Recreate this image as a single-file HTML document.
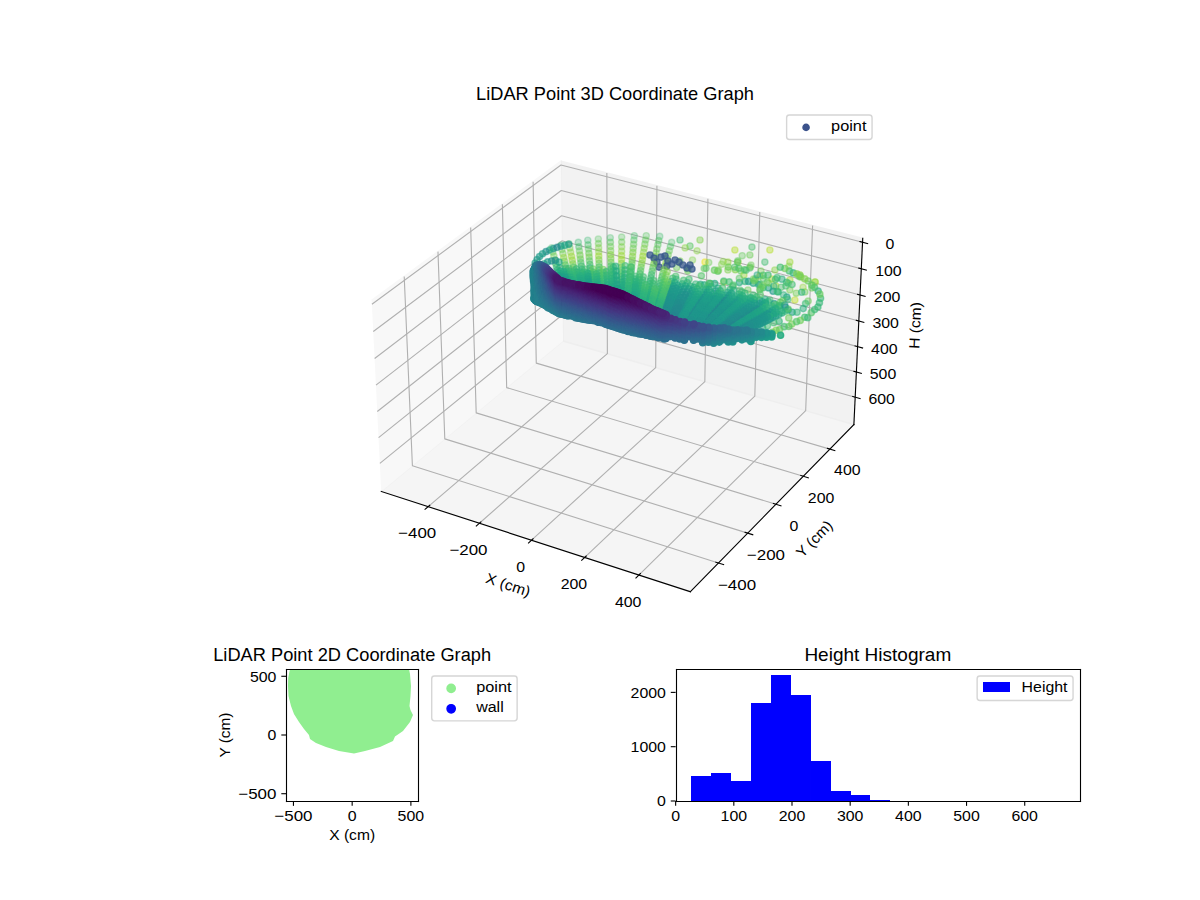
<!DOCTYPE html><html><head><meta charset="utf-8"><style>html,body{margin:0;padding:0;background:#fff}svg{display:block}</style></head><body><svg width="1200" height="900" viewBox="0 0 864 648">
<defs><style>.sc circle{stroke-width:10px;fill:currentColor;stroke:currentColor}.a0{fill-opacity:0.300;stroke-opacity:0.300}.a1{fill-opacity:0.364;stroke-opacity:0.364}.a2{fill-opacity:0.427;stroke-opacity:0.427}.a3{fill-opacity:0.491;stroke-opacity:0.491}.a4{fill-opacity:0.555;stroke-opacity:0.555}.a5{fill-opacity:0.618;stroke-opacity:0.618}.a6{fill-opacity:0.682;stroke-opacity:0.682}.a7{fill-opacity:0.745;stroke-opacity:0.745}.a8{fill-opacity:0.809;stroke-opacity:0.809}.a9{fill-opacity:0.873;stroke-opacity:0.873}.a10{fill-opacity:0.936;stroke-opacity:0.936}.a11{fill-opacity:1.000;stroke-opacity:1.000}.c0{color:#440154}.c1{color:#46075a}.c2{color:#470d60}.c3{color:#471365}.c4{color:#48186a}.c5{color:#481d6f}.c6{color:#482374}.c7{color:#482878}.c8{color:#472d7b}.c9{color:#46327e}.c10{color:#453781}.c11{color:#443b84}.c12{color:#424086}.c13{color:#404588}.c14{color:#3e4989}.c15{color:#3d4e8a}.c16{color:#3a538b}.c17{color:#38588c}.c18{color:#365c8d}.c19{color:#34608d}.c20{color:#32648e}.c21{color:#31688e}.c22{color:#2f6c8e}.c23{color:#2d708e}.c24{color:#2c738e}.c25{color:#2a778e}.c26{color:#297b8e}.c27{color:#277f8e}.c28{color:#26828e}.c29{color:#24868e}.c30{color:#238a8d}.c31{color:#218e8d}.c32{color:#20928c}.c33{color:#1f968b}.c34{color:#1f9a8a}.c35{color:#1f9e89}.c36{color:#1fa187}.c37{color:#21a585}.c38{color:#23a983}.c39{color:#26ad81}.c40{color:#2ab07f}.c41{color:#2fb47c}.c42{color:#35b779}.c43{color:#3bbb75}.c44{color:#42be71}.c45{color:#4ac16d}.c46{color:#52c569}.c47{color:#5ac864}.c48{color:#65cb5e}.c49{color:#6ece58}.c50{color:#77d153}.c51{color:#81d34d}.c52{color:#8bd646}.c53{color:#95d840}.c54{color:#a0da39}.c55{color:#aadc32}.c56{color:#b5de2b}.c57{color:#c0df25}.c58{color:#cae11f}.c59{color:#d5e21a}.c60{color:#dfe318}.c61{color:#eae51a}.c62{color:#f4e61e}.c63{color:#fde725}</style>
<style type="text/css">*{stroke-linejoin: round; stroke-linecap: butt}</style>
</defs>
<g id="figure_1">
<g id="patch_1">
<path d="M 0 648 
L 864 648 
L 864 0 
L 0 0 
z
" style="fill: #ffffff"/>
</g>
<g id="patch_2">
<path d="M 252.72 457.92 
L 632.88 457.92 
L 632.88 77.76 
L 252.72 77.76 
z
" style="fill: #ffffff"/>
</g>
<g id="pane3d_1">
<g id="patch_3">
<path d="M 267.65 216.25 
L 403.87 116.08 
L 405.41 245.49 
L 274.52 353.83 
" style="fill: #f2f2f2; opacity: 0.5; stroke: #f2f2f2; stroke-linejoin: miter"/>
</g>
</g>
<g id="pane3d_2">
<g id="patch_4">
<path d="M 403.87 116.08 
L 621.17 171.65 
L 614.80 305.69 
L 405.41 245.49 
" style="fill: #e6e6e6; opacity: 0.5; stroke: #e6e6e6; stroke-linejoin: miter"/>
</g>
</g>
<g id="pane3d_3">
<g id="patch_5">
<path d="M 274.52 353.83 
L 497.02 426.04 
L 614.80 305.69 
L 405.41 245.49 
" style="fill: #ececec; opacity: 0.5; stroke: #ececec; stroke-linejoin: miter"/>
</g>
</g>
<g id="grid3d_1">
<g id="Line3DCollection_1">
<path d="M 308.29 364.79 
L 437.31 254.66 
L 436.93 124.54 
" style="fill: none; stroke: #b0b0b0; stroke-width: 0.8"/>
<path d="M 345.16 376.76 
L 472.10 264.66 
L 472.99 133.76 
" style="fill: none; stroke: #b0b0b0; stroke-width: 0.8"/>
<path d="M 382.72 388.95 
L 507.48 274.83 
L 509.69 143.14 
" style="fill: none; stroke: #b0b0b0; stroke-width: 0.8"/>
<path d="M 420.99 401.37 
L 543.47 285.18 
L 547.05 152.70 
" style="fill: none; stroke: #b0b0b0; stroke-width: 0.8"/>
<path d="M 459.99 414.02 
L 580.09 295.71 
L 585.08 162.42 
" style="fill: none; stroke: #b0b0b0; stroke-width: 0.8"/>
</g>
</g>
<g id="grid3d_2">
<g id="Line3DCollection_2">
<path d="M 291.03 199.06 
L 296.93 335.29 
L 517.26 405.36 
" style="fill: none; stroke: #b0b0b0; stroke-width: 0.8"/>
<path d="M 315.34 181.18 
L 320.25 315.99 
L 538.30 383.87 
" style="fill: none; stroke: #b0b0b0; stroke-width: 0.8"/>
<path d="M 338.89 163.87 
L 342.86 297.26 
L 558.66 363.06 
" style="fill: none; stroke: #b0b0b0; stroke-width: 0.8"/>
<path d="M 361.71 147.08 
L 364.81 279.10 
L 578.39 342.90 
" style="fill: none; stroke: #b0b0b0; stroke-width: 0.8"/>
<path d="M 383.84 130.81 
L 386.11 261.47 
L 597.51 323.36 
" style="fill: none; stroke: #b0b0b0; stroke-width: 0.8"/>
</g>
</g>
<g id="grid3d_3">
<g id="Line3DCollection_3">
<path d="M 621.03 174.43 
L 403.90 118.76 
L 267.79 219.11 
" style="fill: none; stroke: #b0b0b0; stroke-width: 0.8"/>
<path d="M 620.13 193.51 
L 404.12 137.15 
L 268.77 238.72 
" style="fill: none; stroke: #b0b0b0; stroke-width: 0.8"/>
<path d="M 619.23 212.39 
L 404.34 155.36 
L 269.74 258.11 
" style="fill: none; stroke: #b0b0b0; stroke-width: 0.8"/>
<path d="M 618.35 231.07 
L 404.55 173.39 
L 270.70 277.29 
" style="fill: none; stroke: #b0b0b0; stroke-width: 0.8"/>
<path d="M 617.47 249.56 
L 404.76 191.24 
L 271.65 296.27 
" style="fill: none; stroke: #b0b0b0; stroke-width: 0.8"/>
<path d="M 616.60 267.86 
L 404.97 208.92 
L 272.59 315.05 
" style="fill: none; stroke: #b0b0b0; stroke-width: 0.8"/>
<path d="M 615.74 285.97 
L 405.18 226.43 
L 273.51 333.63 
" style="fill: none; stroke: #b0b0b0; stroke-width: 0.8"/>
</g>
</g>
<g id="axis3d_1">
<g id="line2d_1">
<path d="M 274.52 353.83 
L 497.02 426.04 
" style="fill: none; stroke: #000000; stroke-width: 0.8; stroke-linecap: square"/>
</g>
<g id="xtick_1">
<g id="line2d_2">
<path d="M 309.42 363.83 
L 306.03 366.72 
" style="fill: none; stroke: #000000; stroke-width: 0.8; stroke-linecap: square"/>
</g>
<g id="text_1">
<text style="font-size: 10.60px; font-family: 'Liberation Sans', sans-serif; text-anchor: middle" x="300.38" y="387.16" transform="rotate(-0 300.38 387.16)" textLength="27.47" lengthAdjust="spacingAndGlyphs">−400</text>
</g>
</g>
<g id="xtick_2">
<g id="line2d_3">
<path d="M 346.27 375.78 
L 342.93 378.72 
" style="fill: none; stroke: #000000; stroke-width: 0.8; stroke-linecap: square"/>
</g>
<g id="text_2">
<text style="font-size: 10.60px; font-family: 'Liberation Sans', sans-serif; text-anchor: middle" x="337.30" y="399.30" transform="rotate(-0 337.30 399.30)" textLength="27.47" lengthAdjust="spacingAndGlyphs">−200</text>
</g>
</g>
<g id="xtick_3">
<g id="line2d_4">
<path d="M 383.81 387.95 
L 380.53 390.95 
" style="fill: none; stroke: #000000; stroke-width: 0.8; stroke-linecap: square"/>
</g>
<g id="text_3">
<text style="font-size: 10.60px; font-family: 'Liberation Sans', sans-serif; text-anchor: middle" x="374.90" y="411.67" transform="rotate(-0 374.90 411.67)" textLength="6.36" lengthAdjust="spacingAndGlyphs">0</text>
</g>
</g>
<g id="xtick_4">
<g id="line2d_5">
<path d="M 422.06 400.35 
L 418.83 403.41 
" style="fill: none; stroke: #000000; stroke-width: 0.8; stroke-linecap: square"/>
</g>
<g id="text_4">
<text style="font-size: 10.60px; font-family: 'Liberation Sans', sans-serif; text-anchor: middle" x="413.22" y="424.28" transform="rotate(-0 413.22 424.28)" textLength="19.09" lengthAdjust="spacingAndGlyphs">200</text>
</g>
</g>
<g id="xtick_5">
<g id="line2d_6">
<path d="M 461.04 412.99 
L 457.87 416.10 
" style="fill: none; stroke: #000000; stroke-width: 0.8; stroke-linecap: square"/>
</g>
<g id="text_5">
<text style="font-size: 10.60px; font-family: 'Liberation Sans', sans-serif; text-anchor: middle" x="452.28" y="437.12" transform="rotate(-0 452.28 437.12)" textLength="19.09" lengthAdjust="spacingAndGlyphs">400</text>
</g>
</g>
<g id="text_6">
<text style="font-size: 10.60px; font-family: 'Liberation Sans', sans-serif; text-anchor: middle" x="364.81" y="424.58" transform="rotate(-342.01 364.81 424.58)" textLength="33.07" lengthAdjust="spacingAndGlyphs">X (cm)</text>
</g>
</g>
<g id="axis3d_2">
<g id="line2d_7">
<path d="M 614.80 305.69 
L 497.02 426.04 
" style="fill: none; stroke: #000000; stroke-width: 0.8; stroke-linecap: square"/>
</g>
<g id="xtick_6">
<g id="line2d_8">
<path d="M 515.40 404.77 
L 520.99 406.54 
" style="fill: none; stroke: #000000; stroke-width: 0.8; stroke-linecap: square"/>
</g>
<g id="text_7">
<text style="font-size: 10.60px; font-family: 'Liberation Sans', sans-serif; text-anchor: middle" x="530.63" y="425.14" transform="rotate(-0 530.63 425.14)" textLength="27.47" lengthAdjust="spacingAndGlyphs">−400</text>
</g>
</g>
<g id="xtick_7">
<g id="line2d_9">
<path d="M 536.46 383.29 
L 541.98 385.01 
" style="fill: none; stroke: #000000; stroke-width: 0.8; stroke-linecap: square"/>
</g>
<g id="text_8">
<text style="font-size: 10.60px; font-family: 'Liberation Sans', sans-serif; text-anchor: middle" x="551.46" y="403.43" transform="rotate(-0 551.46 403.43)" textLength="27.47" lengthAdjust="spacingAndGlyphs">−200</text>
</g>
</g>
<g id="xtick_8">
<g id="line2d_10">
<path d="M 556.84 362.50 
L 562.30 364.17 
" style="fill: none; stroke: #000000; stroke-width: 0.8; stroke-linecap: square"/>
</g>
<g id="text_9">
<text style="font-size: 10.60px; font-family: 'Liberation Sans', sans-serif; text-anchor: middle" x="571.64" y="382.41" transform="rotate(-0 571.64 382.41)" textLength="6.36" lengthAdjust="spacingAndGlyphs">0</text>
</g>
</g>
<g id="xtick_9">
<g id="line2d_11">
<path d="M 576.59 342.36 
L 581.99 343.98 
" style="fill: none; stroke: #000000; stroke-width: 0.8; stroke-linecap: square"/>
</g>
<g id="text_10">
<text style="font-size: 10.60px; font-family: 'Liberation Sans', sans-serif; text-anchor: middle" x="591.18" y="362.05" transform="rotate(-0 591.18 362.05)" textLength="19.09" lengthAdjust="spacingAndGlyphs">200</text>
</g>
</g>
<g id="xtick_10">
<g id="line2d_12">
<path d="M 595.73 322.84 
L 601.07 324.41 
" style="fill: none; stroke: #000000; stroke-width: 0.8; stroke-linecap: square"/>
</g>
<g id="text_11">
<text style="font-size: 10.60px; font-family: 'Liberation Sans', sans-serif; text-anchor: middle" x="610.11" y="342.32" transform="rotate(-0 610.11 342.32)" textLength="19.09" lengthAdjust="spacingAndGlyphs">400</text>
</g>
</g>
<g id="text_12">
<text style="font-size: 10.60px; font-family: 'Liberation Sans', sans-serif; text-anchor: middle" x="588.87" y="390.58" transform="rotate(-45.61 588.87 390.58)" textLength="32.33" lengthAdjust="spacingAndGlyphs">Y (cm)</text>
</g>
</g>
<g id="axis3d_3">
<g id="line2d_13">
<path d="M 614.80 305.69 
L 621.17 171.65 
" style="fill: none; stroke: #000000; stroke-width: 0.8; stroke-linecap: square"/>
</g>
<g id="xtick_11">
<g id="line2d_14">
<path d="M 619.20 173.96 
L 624.70 175.37 
" style="fill: none; stroke: #000000; stroke-width: 0.8; stroke-linecap: square"/>
</g>
<g id="text_13">
<text style="font-size: 10.60px; font-family: 'Liberation Sans', sans-serif; text-anchor: middle" x="640.70" y="179.54" transform="rotate(-0 640.70 179.54)" textLength="6.36" lengthAdjust="spacingAndGlyphs">0</text>
</g>
</g>
<g id="xtick_12">
<g id="line2d_15">
<path d="M 618.31 193.04 
L 623.77 194.46 
" style="fill: none; stroke: #000000; stroke-width: 0.8; stroke-linecap: square"/>
</g>
<g id="text_14">
<text style="font-size: 10.60px; font-family: 'Liberation Sans', sans-serif; text-anchor: middle" x="639.70" y="198.59" transform="rotate(-0 639.70 198.59)" textLength="19.09" lengthAdjust="spacingAndGlyphs">100</text>
</g>
</g>
<g id="xtick_13">
<g id="line2d_16">
<path d="M 617.42 211.91 
L 622.86 213.35 
" style="fill: none; stroke: #000000; stroke-width: 0.8; stroke-linecap: square"/>
</g>
<g id="text_15">
<text style="font-size: 10.60px; font-family: 'Liberation Sans', sans-serif; text-anchor: middle" x="638.70" y="217.44" transform="rotate(-0 638.70 217.44)" textLength="19.09" lengthAdjust="spacingAndGlyphs">200</text>
</g>
</g>
<g id="xtick_14">
<g id="line2d_17">
<path d="M 616.55 230.58 
L 621.95 232.04 
" style="fill: none; stroke: #000000; stroke-width: 0.8; stroke-linecap: square"/>
</g>
<g id="text_16">
<text style="font-size: 10.60px; font-family: 'Liberation Sans', sans-serif; text-anchor: middle" x="637.72" y="236.09" transform="rotate(-0 637.72 236.09)" textLength="19.09" lengthAdjust="spacingAndGlyphs">300</text>
</g>
</g>
<g id="xtick_15">
<g id="line2d_18">
<path d="M 615.68 249.07 
L 621.05 250.54 
" style="fill: none; stroke: #000000; stroke-width: 0.8; stroke-linecap: square"/>
</g>
<g id="text_17">
<text style="font-size: 10.60px; font-family: 'Liberation Sans', sans-serif; text-anchor: middle" x="636.74" y="254.56" transform="rotate(-0 636.74 254.56)" textLength="19.09" lengthAdjust="spacingAndGlyphs">400</text>
</g>
</g>
<g id="xtick_16">
<g id="line2d_19">
<path d="M 614.82 267.36 
L 620.16 268.85 
" style="fill: none; stroke: #000000; stroke-width: 0.8; stroke-linecap: square"/>
</g>
<g id="text_18">
<text style="font-size: 10.60px; font-family: 'Liberation Sans', sans-serif; text-anchor: middle" x="635.78" y="272.83" transform="rotate(-0 635.78 272.83)" textLength="19.09" lengthAdjust="spacingAndGlyphs">500</text>
</g>
</g>
<g id="xtick_17">
<g id="line2d_20">
<path d="M 613.97 285.47 
L 619.29 286.98 
" style="fill: none; stroke: #000000; stroke-width: 0.8; stroke-linecap: square"/>
</g>
<g id="text_19">
<text style="font-size: 10.60px; font-family: 'Liberation Sans', sans-serif; text-anchor: middle" x="634.82" y="290.92" transform="rotate(-0 634.82 290.92)" textLength="19.09" lengthAdjust="spacingAndGlyphs">600</text>
</g>
</g>
<g id="text_20">
<text style="font-size: 10.60px; font-family: 'Liberation Sans', sans-serif; text-anchor: middle" x="662.58" y="234.44" transform="rotate(-87.28 662.58 234.44)" textLength="33.74" lengthAdjust="spacingAndGlyphs">H (cm)</text>
</g>
</g>
<g id="axes_1">
<g id="P3D"><defs>
<path id="m24099ccb27" d="M 0 2.23 
C 0.59 2.23 1.16 2.00 1.58 1.58 
C 2.00 1.16 2.23 0.59 2.23 0 
C 2.23 -0.59 2.00 -1.16 1.58 -1.58 
C 1.16 -2.00 0.59 -2.23 0 -2.23 
C -0.59 -2.23 -1.16 -2.00 -1.58 -1.58 
C -2.00 -1.16 -2.23 -0.59 -2.23 0 
C -2.23 0.59 -2.00 1.16 -1.58 1.58 
C -1.16 2.00 -0.59 2.23 0 2.23 
z
" style="stroke: #3b528b"/>
</defs><g class="sc" transform="scale(.1)"><circle cx="5867" cy="2030" r="22.4" class="c54 a2"/><circle cx="5687" cy="2088" r="22.4" class="c50 a2"/><circle cx="5327" cy="2088" r="22.4" class="c45 a2"/><circle cx="5212" cy="2030" r="22.4" class="c54 a2"/><circle cx="5543" cy="1800" r="22.4" class="c56 a2"/><circle cx="5414" cy="1779" r="22.4" class="c45 a2"/><circle cx="5040" cy="1728" r="22.4" class="c51 a2"/><circle cx="5723" cy="2160" r="22.4" class="c57 a2"/><circle cx="5076" cy="1887" r="22.4" class="c61 a2"/><circle cx="5579" cy="1944" r="22.4" class="c52 a2"/><circle cx="5399" cy="1930" r="22.4" class="c45 a2"/><circle cx="5335" cy="1951" r="22.4" class="c47 a2"/><circle cx="5241" cy="1887" r="22.4" class="c53 a2"/><circle cx="5558" cy="2009" r="22.4" class="c58 a2"/><circle cx="5687" cy="2016" r="22.4" class="c55 a2"/><circle cx="5543" cy="2160" r="22.4" class="c44 a2"/><circle cx="5313" cy="1887" r="22.4" class="c57 a2"/><circle cx="5586" cy="2059" r="22.4" class="c55 a2"/><circle cx="5795" cy="2102" r="22.4" class="c49 a2"/><circle cx="5845" cy="2074" r="22.4" class="c49 a2"/><circle cx="5471" cy="1987" r="22.4" class="c55 a2"/><circle cx="5291" cy="1800" r="22.4" class="c56 a2"/><circle cx="4896" cy="1728" r="22.4" class="c44 a2"/><circle cx="4968" cy="1771" r="22.4" class="c47 a2"/><circle cx="5507" cy="1887" r="22.4" class="c44 a2"/><circle cx="5399" cy="1836" r="22.4" class="c49 a2"/><circle cx="5385" cy="2088" r="22.4" class="c49 a2"/><circle cx="5241" cy="1944" r="22.4" class="c51 a2"/><circle cx="5687" cy="1887" r="22.4" class="c54 a2"/><circle cx="5759" cy="1980" r="22.4" class="c58 a2"/><circle cx="5471" cy="2045" r="22.4" class="c46 a2"/><circle cx="5356" cy="1980" r="22.4" class="c54 a2"/><circle cx="4232" cy="1730" r="22.4" class="c43 a0"/><circle cx="4567" cy="1697" r="22.4" class="c45 a0"/><circle cx="5019" cy="1806" r="22.4" class="c52 a1"/><circle cx="4097" cy="1755" r="22.4" class="c47 a0"/><circle cx="5760" cy="1980" r="22.4" class="c47 a1"/><circle cx="4653" cy="1697" r="22.4" class="c47 a0"/><circle cx="4750" cy="1702" r="22.4" class="c44 a0"/><circle cx="4836" cy="1745" r="22.4" class="c45 a0"/><circle cx="5680" cy="1917" r="22.4" class="c51 a1"/><circle cx="5344" cy="1841" r="22.4" class="c48 a1"/><circle cx="4164" cy="1745" r="22.4" class="c43 a0"/><circle cx="4308" cy="1721" r="22.4" class="c47 a0"/><circle cx="4476" cy="1707" r="22.4" class="c47 a0"/><circle cx="4394" cy="1712" r="22.4" class="c45 a0"/><circle cx="5870" cy="2030" r="22.4" class="c53 a1"/><circle cx="4040" cy="1764" r="22.4" class="c45 a0"/><circle cx="3973" cy="1784" r="22.4" class="c44 a0"/><circle cx="5753" cy="1990" r="22.4" class="c47 a1"/><circle cx="5782" cy="2069" r="22.4" class="c53 a1"/><circle cx="5312" cy="1878" r="22.4" class="c47 a1"/><circle cx="5207" cy="1883" r="22.4" class="c52 a1"/><circle cx="4743" cy="1732" r="22.4" class="c46 a1"/><circle cx="4827" cy="1775" r="22.4" class="c46 a1"/><circle cx="4933" cy="1785" r="22.4" class="c52 a1"/><circle cx="4648" cy="1728" r="22.4" class="c48 a1"/><circle cx="4564" cy="1728" r="22.4" class="c46 a1"/><circle cx="4476" cy="1743" r="22.4" class="c49 a1"/><circle cx="4395" cy="1744" r="22.4" class="c47 a1"/><circle cx="4309" cy="1754" r="22.4" class="c49 a1"/><circle cx="4234" cy="1763" r="22.4" class="c45 a1"/><circle cx="5479" cy="1951" r="22.4" class="c50 a1"/><circle cx="5407" cy="1909" r="22.4" class="c49 a1"/><circle cx="4168" cy="1777" r="22.4" class="c45 a1"/><circle cx="5310" cy="1889" r="22.4" class="c46 a1"/><circle cx="4103" cy="1786" r="22.4" class="c50 a1"/><circle cx="5196" cy="1903" r="22.4" class="c51 a1"/><circle cx="4046" cy="1796" r="22.4" class="c48 a1"/><circle cx="5103" cy="1890" r="22.4" class="c49 a1"/><circle cx="5610" cy="2313" r="22.4" class="c42 a4"/><circle cx="5168" cy="1953" r="22.4" class="c47 a4"/><circle cx="5530" cy="1981" r="22.4" class="c44 a4"/><circle cx="5583" cy="2012" r="22.4" class="c44 a4"/><circle cx="5144" cy="1945" r="22.4" class="c48 a4"/><circle cx="5360" cy="1942" r="22.4" class="c47 a4"/><circle cx="5294" cy="1942" r="22.4" class="c51 a4"/><circle cx="5244" cy="1923" r="22.4" class="c49 a4"/><circle cx="5042" cy="2047" r="22.4" class="c39 a4"/><circle cx="5071" cy="2051" r="22.4" class="c39 a4"/><circle cx="5365" cy="2026" r="22.4" class="c42 a4"/><circle cx="5390" cy="2026" r="22.4" class="c35 a4"/><circle cx="5113" cy="2041" r="22.4" class="c36 a4"/><circle cx="5146" cy="2041" r="22.4" class="c39 a4"/><circle cx="5323" cy="2034" r="22.4" class="c39 a4"/><circle cx="5250" cy="2029" r="22.4" class="c44 a4"/><circle cx="5328" cy="2140" r="22.4" class="c39 a4"/><circle cx="5361" cy="2150" r="22.4" class="c36 a4"/><circle cx="5143" cy="2155" r="22.4" class="c35 a4"/><circle cx="5181" cy="2151" r="22.4" class="c37 a4"/><circle cx="5424" cy="2039" r="22.4" class="c38 a4"/><circle cx="5462" cy="2049" r="22.4" class="c38 a4"/><circle cx="5467" cy="2267" r="22.4" class="c40 a4"/><circle cx="5293" cy="2251" r="22.4" class="c42 a4"/><circle cx="5327" cy="2256" r="22.4" class="c46 a4"/><circle cx="5427" cy="2273" r="22.4" class="c44 a4"/><circle cx="5360" cy="2257" r="22.4" class="c41 a4"/><circle cx="5510" cy="2272" r="22.4" class="c44 a4"/><circle cx="5113" cy="2144" r="22.4" class="c34 a4"/><circle cx="5566" cy="2097" r="22.4" class="c34 a4"/><circle cx="5047" cy="2157" r="22.4" class="c38 a4"/><circle cx="5674" cy="2232" r="22.4" class="c36 a4"/><circle cx="5495" cy="1982" r="22.4" class="c45 a4"/><circle cx="5320" cy="1931" r="22.4" class="c46 a4"/><circle cx="5615" cy="2201" r="22.4" class="c38 a4"/><circle cx="5574" cy="2186" r="22.4" class="c33 a4"/><circle cx="5512" cy="2178" r="22.4" class="c39 a4"/><circle cx="5469" cy="2161" r="22.4" class="c37 a4"/><circle cx="5403" cy="2147" r="22.4" class="c38 a4"/><circle cx="5428" cy="2160" r="22.4" class="c37 a4"/><circle cx="5603" cy="2102" r="22.4" class="c41 a4"/><circle cx="5665" cy="2139" r="22.4" class="c36 a4"/><circle cx="5533" cy="2073" r="22.4" class="c37 a4"/><circle cx="5494" cy="2071" r="22.4" class="c43 a4"/><circle cx="4969" cy="2059" r="22.4" class="c41 a4"/><circle cx="5538" cy="2280" r="22.4" class="c40 a4"/><circle cx="5704" cy="2248" r="22.4" class="c37 a4"/><circle cx="5654" cy="2210" r="22.4" class="c30 a4"/><circle cx="4986" cy="1872" r="22.4" class="c51 a1"/><circle cx="4737" cy="1762" r="22.4" class="c47 a1"/><circle cx="4819" cy="1805" r="22.4" class="c48 a1"/><circle cx="4643" cy="1758" r="22.4" class="c49 a1"/><circle cx="3980" cy="1815" r="22.4" class="c47 a1"/><circle cx="4562" cy="1759" r="22.4" class="c48 a1"/><circle cx="5675" cy="2039" r="22.4" class="c45 a2"/><circle cx="5401" cy="1922" r="22.4" class="c49 a2"/><circle cx="4476" cy="1777" r="22.4" class="c51 a1"/><circle cx="4396" cy="1775" r="22.4" class="c49 a1"/><circle cx="4310" cy="1785" r="22.4" class="c51 a1"/><circle cx="5070" cy="1933" r="22.4" class="c48 a2"/><circle cx="4730" cy="1792" r="22.4" class="c48 a1"/><circle cx="4811" cy="1834" r="22.4" class="c49 a1"/><circle cx="4237" cy="1793" r="22.4" class="c47 a1"/><circle cx="5524" cy="2031" r="22.4" class="c49 a2"/><circle cx="5624" cy="2068" r="22.4" class="c45 a2"/><circle cx="4638" cy="1787" r="22.4" class="c51 a1"/><circle cx="4172" cy="1807" r="22.4" class="c48 a1"/><circle cx="5290" cy="1924" r="22.4" class="c45 a2"/><circle cx="4559" cy="1788" r="22.4" class="c49 a1"/><circle cx="4109" cy="1817" r="22.4" class="c52 a1"/><circle cx="5173" cy="1945" r="22.4" class="c50 a2"/><circle cx="5819" cy="2168" r="22.4" class="c49 a2"/><circle cx="4053" cy="1826" r="22.4" class="c50 a1"/><circle cx="4476" cy="1809" r="22.4" class="c52 a1"/><circle cx="5083" cy="1932" r="22.4" class="c47 a2"/><circle cx="5490" cy="2056" r="22.4" class="c49 a2"/><circle cx="5658" cy="2059" r="22.4" class="c44 a2"/><circle cx="5425" cy="2009" r="22.4" class="c49 a2"/><circle cx="4953" cy="1936" r="22.4" class="c49 a2"/><circle cx="4724" cy="1820" r="22.4" class="c50 a1"/><circle cx="4397" cy="1805" r="22.4" class="c50 a1"/><circle cx="5733" cy="2111" r="22.4" class="c50 a2"/><circle cx="4803" cy="1862" r="22.4" class="c50 a1"/><circle cx="5765" cy="1994" r="22.4" class="c50 a4"/><circle cx="5701" cy="2333" r="22.4" class="c50 a4"/><circle cx="5794" cy="2284" r="22.4" class="c44 a4"/><circle cx="5646" cy="2352" r="22.4" class="c44 a4"/><circle cx="5816" cy="2287" r="22.4" class="c43 a4"/><circle cx="5841" cy="2251" r="22.4" class="c46 a4"/><circle cx="5680" cy="2351" r="22.4" class="c47 a4"/><circle cx="5762" cy="2307" r="22.4" class="c49 a4"/><circle cx="5735" cy="2316" r="22.4" class="c46 a4"/><circle cx="5908" cy="2147" r="22.4" class="c43 a4"/><circle cx="5891" cy="2096" r="22.4" class="c40 a4"/><circle cx="5889" cy="2210" r="22.4" class="c42 a4"/><circle cx="5561" cy="2392" r="22.4" class="c46 a4"/><circle cx="5588" cy="2378" r="22.4" class="c51 a4"/><circle cx="5613" cy="2373" r="22.4" class="c48 a4"/><circle cx="5527" cy="2403" r="22.4" class="c45 a4"/><circle cx="5866" cy="2229" r="22.4" class="c43 a4"/><circle cx="5865" cy="2069" r="22.4" class="c45 a4"/><circle cx="5845" cy="2053" r="22.4" class="c47 a4"/><circle cx="5903" cy="2118" r="22.4" class="c48 a4"/><circle cx="5819" cy="2023" r="22.4" class="c48 a4"/><circle cx="5794" cy="2008" r="22.4" class="c51 a4"/><circle cx="5711" cy="1965" r="22.4" class="c40 a4"/><circle cx="5737" cy="1972" r="22.4" class="c51 a4"/><circle cx="5683" cy="1951" r="22.4" class="c44 a4"/><circle cx="5651" cy="1933" r="22.4" class="c49 a4"/><circle cx="5618" cy="1924" r="22.4" class="c44 a4"/><circle cx="5900" cy="2180" r="22.4" class="c42 a4"/><circle cx="4895" cy="1879" r="22.4" class="c50 a2"/><circle cx="4634" cy="1816" r="22.4" class="c52 a1"/><circle cx="3988" cy="1844" r="22.4" class="c50 a1"/><circle cx="4311" cy="1814" r="22.4" class="c52 a1"/><circle cx="4557" cy="1817" r="22.4" class="c51 a2"/><circle cx="4240" cy="1823" r="22.4" class="c49 a2"/><circle cx="5535" cy="2038" r="22.4" class="c48 a2"/><circle cx="5439" cy="2007" r="22.4" class="c48 a2"/><circle cx="5323" cy="2004" r="22.4" class="c47 a2"/><circle cx="4176" cy="1837" r="22.4" class="c50 a2"/><circle cx="4952" cy="1950" r="22.4" class="c49 a2"/><circle cx="4718" cy="1848" r="22.4" class="c51 a2"/><circle cx="4475" cy="1840" r="22.4" class="c54 a2"/><circle cx="4795" cy="1890" r="22.4" class="c52 a2"/><circle cx="4872" cy="1926" r="22.4" class="c49 a2"/><circle cx="4115" cy="1845" r="22.4" class="c54 a2"/><circle cx="4629" cy="1844" r="22.4" class="c54 a2"/><circle cx="4397" cy="1834" r="22.4" class="c52 a2"/><circle cx="5478" cy="2076" r="22.4" class="c48 a3"/><circle cx="5596" cy="2099" r="22.4" class="c43 a3"/><circle cx="4059" cy="1854" r="22.4" class="c53 a2"/><circle cx="5430" cy="2021" r="22.4" class="c48 a3"/><circle cx="4554" cy="1845" r="22.4" class="c52 a2"/><circle cx="4311" cy="1843" r="22.4" class="c54 a2"/><circle cx="5050" cy="1986" r="22.4" class="c46 a3"/><circle cx="4713" cy="1875" r="22.4" class="c52 a2"/><circle cx="4788" cy="1916" r="22.4" class="c52 a2"/><circle cx="4242" cy="1851" r="22.4" class="c50 a2"/><circle cx="5675" cy="2225" r="22.4" class="c47 a3"/><circle cx="5470" cy="2086" r="22.4" class="c47 a3"/><circle cx="4475" cy="1869" r="22.4" class="c54 a2"/><circle cx="4838" cy="1901" r="22.4" class="c17 a7"/><circle cx="4680" cy="1836" r="22.4" class="c17 a7"/><circle cx="4860" cy="1872" r="22.4" class="c17 a7"/><circle cx="4788" cy="1843" r="22.4" class="c17 a7"/><circle cx="4809" cy="1879" r="22.4" class="c17 a7"/><circle cx="4917" cy="1908" r="22.4" class="c17 a7"/><circle cx="4759" cy="1851" r="22.4" class="c17 a7"/><circle cx="4888" cy="1887" r="22.4" class="c17 a7"/><circle cx="4982" cy="1937" r="22.4" class="c17 a7"/><circle cx="4968" cy="1908" r="22.4" class="c17 a7"/><circle cx="4802" cy="1915" r="22.4" class="c17 a7"/><circle cx="4745" cy="1923" r="22.4" class="c17 a7"/><circle cx="4946" cy="1930" r="22.4" class="c17 a7"/><circle cx="4730" cy="1887" r="22.4" class="c17 a7"/><circle cx="4709" cy="1858" r="22.4" class="c17 a7"/><circle cx="4625" cy="1871" r="22.4" class="c53 a2"/><circle cx="5279" cy="2053" r="22.4" class="c46 a3"/><circle cx="5635" cy="2164" r="22.4" class="c49 a3"/><circle cx="3995" cy="1872" r="22.4" class="c50 a2"/><circle cx="4179" cy="1865" r="22.4" class="c49 a2"/><circle cx="5211" cy="2024" r="22.4" class="c43 a3"/><circle cx="4398" cy="1861" r="22.4" class="c51 a2"/><circle cx="4552" cy="1872" r="22.4" class="c50 a2"/><circle cx="4120" cy="1873" r="22.4" class="c53 a2"/><circle cx="4707" cy="1901" r="22.4" class="c50 a2"/><circle cx="4781" cy="1942" r="22.4" class="c50 a2"/><circle cx="5108" cy="2039" r="22.4" class="c47 a3"/><circle cx="5276" cy="2062" r="22.4" class="c44 a3"/><circle cx="5619" cy="2176" r="22.4" class="c47 a3"/><circle cx="4312" cy="1870" r="22.4" class="c51 a2"/><circle cx="4064" cy="1881" r="22.4" class="c50 a2"/><circle cx="4620" cy="1897" r="22.4" class="c51 a2"/><circle cx="4475" cy="1896" r="22.4" class="c52 a2"/><circle cx="4244" cy="1878" r="22.4" class="c47 a2"/><circle cx="5009" cy="2045" r="22.4" class="c42 a3"/><circle cx="5423" cy="2124" r="22.4" class="c44 a3"/><circle cx="5509" cy="2156" r="22.4" class="c39 a3"/><circle cx="5340" cy="2100" r="22.4" class="c44 a3"/><circle cx="4922" cy="2019" r="22.4" class="c44 a3"/><circle cx="4701" cy="1927" r="22.4" class="c48 a2"/><circle cx="4550" cy="1898" r="22.4" class="c48 a2"/><circle cx="5095" cy="2059" r="22.4" class="c44 a3"/><circle cx="5654" cy="2241" r="22.4" class="c43 a3"/><circle cx="4399" cy="1888" r="22.4" class="c49 a2"/><circle cx="5256" cy="2085" r="22.4" class="c42 a3"/><circle cx="5583" cy="2194" r="22.4" class="c45 a3"/><circle cx="5474" cy="2121" r="22.4" class="c46 a3"/><circle cx="4804" cy="1957" r="22.4" class="c51 a2"/><circle cx="4865" cy="1989" r="22.4" class="c45 a3"/><circle cx="4961" cy="2011" r="22.4" class="c44 a3"/><circle cx="5610" cy="2199" r="22.4" class="c44 a3"/><circle cx="4773" cy="1968" r="22.4" class="c48 a2"/><circle cx="4182" cy="1891" r="22.4" class="c46 a2"/><circle cx="4843" cy="2003" r="22.4" class="c44 a3"/><circle cx="5170" cy="2074" r="22.4" class="c38 a3"/><circle cx="4616" cy="1923" r="22.4" class="c49 a2"/><circle cx="4125" cy="1899" r="22.4" class="c50 a2"/><circle cx="5403" cy="2141" r="22.4" class="c41 a4"/><circle cx="4001" cy="1898" r="22.4" class="c46 a2"/><circle cx="5488" cy="2171" r="22.4" class="c37 a4"/><circle cx="5800" cy="2186" r="22.4" class="c43 a3"/><circle cx="5739" cy="2248" r="22.4" class="c42 a3"/><circle cx="5783" cy="2222" r="22.4" class="c40 a3"/><circle cx="5772" cy="2104" r="22.4" class="c41 a3"/><circle cx="5491" cy="2356" r="22.4" class="c38 a3"/><circle cx="5526" cy="2346" r="22.4" class="c43 a3"/><circle cx="5679" cy="2289" r="22.4" class="c49 a3"/><circle cx="5571" cy="2324" r="22.4" class="c44 a3"/><circle cx="5663" cy="2032" r="22.4" class="c44 a3"/><circle cx="5630" cy="2010" r="22.4" class="c40 a3"/><circle cx="5595" cy="1999" r="22.4" class="c43 a3"/><circle cx="5703" cy="2048" r="22.4" class="c44 a3"/><circle cx="5322" cy="2118" r="22.4" class="c41 a4"/><circle cx="4313" cy="1897" r="22.4" class="c49 a2"/><circle cx="4996" cy="2068" r="22.4" class="c39 a4"/><circle cx="4475" cy="1922" r="22.4" class="c49 a2"/><circle cx="5239" cy="2105" r="22.4" class="c39 a4"/><circle cx="5561" cy="2208" r="22.4" class="c42 a4"/><circle cx="5447" cy="2138" r="22.4" class="c43 a3"/><circle cx="5364" cy="2111" r="22.4" class="c42 a3"/><circle cx="5532" cy="2170" r="22.4" class="c41 a3"/><circle cx="5080" cy="2081" r="22.4" class="c41 a4"/><circle cx="5283" cy="2090" r="22.4" class="c40 a3"/><circle cx="5631" cy="2253" r="22.4" class="c40 a4"/><circle cx="5202" cy="2073" r="22.4" class="c44 a3"/><circle cx="5608" cy="2209" r="22.4" class="c42 a3"/><circle cx="4912" cy="2043" r="22.4" class="c41 a4"/><circle cx="4696" cy="1952" r="22.4" class="c46 a2"/><circle cx="5120" cy="2063" r="22.4" class="c41 a3"/><circle cx="5034" cy="2057" r="22.4" class="c44 a3"/><circle cx="4767" cy="1992" r="22.4" class="c46 a3"/><circle cx="4948" cy="2035" r="22.4" class="c41 a3"/><circle cx="4547" cy="1924" r="22.4" class="c46 a3"/><circle cx="4247" cy="1904" r="22.4" class="c45 a3"/><circle cx="4868" cy="2011" r="22.4" class="c42 a3"/><circle cx="4796" cy="1982" r="22.4" class="c50 a2"/><circle cx="5154" cy="2094" r="22.4" class="c36 a4"/><circle cx="4070" cy="1907" r="22.4" class="c47 a3"/><circle cx="4834" cy="2027" r="22.4" class="c41 a4"/><circle cx="4400" cy="1914" r="22.4" class="c46 a3"/><circle cx="5384" cy="2157" r="22.4" class="c39 a4"/><circle cx="5467" cy="2186" r="22.4" class="c34 a4"/><circle cx="5304" cy="2136" r="22.4" class="c39 a4"/><circle cx="4612" cy="1948" r="22.4" class="c47 a3"/><circle cx="5223" cy="2124" r="22.4" class="c37 a4"/><circle cx="5539" cy="2221" r="22.4" class="c40 a4"/><circle cx="5427" cy="2154" r="22.4" class="c41 a4"/><circle cx="5346" cy="2129" r="22.4" class="c40 a4"/><circle cx="4984" cy="2090" r="22.4" class="c36 a4"/><circle cx="5511" cy="2185" r="22.4" class="c38 a4"/><circle cx="5266" cy="2110" r="22.4" class="c37 a4"/><circle cx="4186" cy="1916" r="22.4" class="c44 a3"/><circle cx="5186" cy="2093" r="22.4" class="c41 a4"/><circle cx="5066" cy="2101" r="22.4" class="c38 a4"/><circle cx="5585" cy="2222" r="22.4" class="c39 a4"/><circle cx="5609" cy="2264" r="22.4" class="c38 a4"/><circle cx="5106" cy="2085" r="22.4" class="c39 a4"/><circle cx="4901" cy="2065" r="22.4" class="c38 a4"/><circle cx="4691" cy="1977" r="22.4" class="c44 a3"/><circle cx="5140" cy="2114" r="22.4" class="c33 a4"/><circle cx="5020" cy="2079" r="22.4" class="c41 a4"/><circle cx="4475" cy="1947" r="22.4" class="c47 a3"/><circle cx="4760" cy="2016" r="22.4" class="c45 a3"/><circle cx="4936" cy="2058" r="22.4" class="c38 a4"/><circle cx="5365" cy="2173" r="22.4" class="c37 a4"/><circle cx="4859" cy="2035" r="22.4" class="c39 a4"/><circle cx="4788" cy="2007" r="22.4" class="c48 a3"/><circle cx="4314" cy="1922" r="22.4" class="c46 a3"/><circle cx="5447" cy="2200" r="22.4" class="c32 a4"/><circle cx="4545" cy="1948" r="22.4" class="c44 a3"/><circle cx="4825" cy="2050" r="22.4" class="c38 a4"/><circle cx="4130" cy="1923" r="22.4" class="c47 a3"/><circle cx="5287" cy="2153" r="22.4" class="c36 a4"/><circle cx="5207" cy="2142" r="22.4" class="c34 a4"/><circle cx="5519" cy="2233" r="22.4" class="c37 a4"/><circle cx="5408" cy="2170" r="22.4" class="c38 a4"/><circle cx="5327" cy="2146" r="22.4" class="c38 a4"/><circle cx="5490" cy="2199" r="22.4" class="c36 a4"/><circle cx="5249" cy="2128" r="22.4" class="c35 a4"/><circle cx="5171" cy="2113" r="22.4" class="c39 a4"/><circle cx="4249" cy="1929" r="22.4" class="c42 a3"/><circle cx="5564" cy="2234" r="22.4" class="c37 a4"/><circle cx="5053" cy="2121" r="22.4" class="c36 a4"/><circle cx="4972" cy="2111" r="22.4" class="c34 a4"/><circle cx="4608" cy="1972" r="22.4" class="c45 a3"/><circle cx="5587" cy="2275" r="22.4" class="c35 a4"/><circle cx="4400" cy="1938" r="22.4" class="c44 a3"/><circle cx="5091" cy="2105" r="22.4" class="c36 a4"/><circle cx="4007" cy="1923" r="22.4" class="c42 a3"/><circle cx="5125" cy="2134" r="22.4" class="c31 a4"/><circle cx="4891" cy="2087" r="22.4" class="c35 a5"/><circle cx="4686" cy="2000" r="22.4" class="c43 a3"/><circle cx="5347" cy="2189" r="22.4" class="c35 a5"/><circle cx="5007" cy="2100" r="22.4" class="c38 a4"/><circle cx="5428" cy="2214" r="22.4" class="c31 a5"/><circle cx="4075" cy="1931" r="22.4" class="c44 a3"/><circle cx="5270" cy="2170" r="22.4" class="c35 a5"/><circle cx="4753" cy="2039" r="22.4" class="c43 a3"/><circle cx="4925" cy="2080" r="22.4" class="c35 a4"/><circle cx="4849" cy="2058" r="22.4" class="c36 a4"/><circle cx="4781" cy="2031" r="22.4" class="c46 a3"/><circle cx="5192" cy="2160" r="22.4" class="c34 a5"/><circle cx="4474" cy="1971" r="22.4" class="c46 a3"/><circle cx="4817" cy="2072" r="22.4" class="c36 a5"/><circle cx="5498" cy="2245" r="22.4" class="c37 a5"/><circle cx="5389" cy="2185" r="22.4" class="c36 a4"/><circle cx="5310" cy="2163" r="22.4" class="c35 a4"/><circle cx="5470" cy="2212" r="22.4" class="c34 a4"/><circle cx="4189" cy="1940" r="22.4" class="c41 a3"/><circle cx="5233" cy="2147" r="22.4" class="c33 a4"/><circle cx="4543" cy="1972" r="22.4" class="c43 a3"/><circle cx="5156" cy="2132" r="22.4" class="c37 a4"/><circle cx="5542" cy="2246" r="22.4" class="c34 a4"/><circle cx="5040" cy="2141" r="22.4" class="c35 a5"/><circle cx="5566" cy="2285" r="22.4" class="c35 a5"/><circle cx="4314" cy="1945" r="22.4" class="c44 a3"/><circle cx="4960" cy="2131" r="22.4" class="c33 a5"/><circle cx="5077" cy="2125" r="22.4" class="c34 a4"/><circle cx="5111" cy="2152" r="22.4" class="c31 a5"/><circle cx="5329" cy="2204" r="22.4" class="c35 a5"/><circle cx="4604" cy="1995" r="22.4" class="c44 a4"/><circle cx="5431" cy="2183" r="22.4" class="c36 a4"/><circle cx="5512" cy="2211" r="22.4" class="c41 a4"/><circle cx="5587" cy="2249" r="22.4" class="c37 a4"/><circle cx="4957" cy="2080" r="22.4" class="c36 a4"/><circle cx="5118" cy="2106" r="22.4" class="c39 a4"/><circle cx="5039" cy="2097" r="22.4" class="c40 a4"/><circle cx="5272" cy="2137" r="22.4" class="c38 a4"/><circle cx="5195" cy="2120" r="22.4" class="c39 a4"/><circle cx="4879" cy="2054" r="22.4" class="c37 a4"/><circle cx="4807" cy="2029" r="22.4" class="c49 a3"/><circle cx="5349" cy="2157" r="22.4" class="c39 a4"/><circle cx="5409" cy="2228" r="22.4" class="c30 a5"/><circle cx="5254" cy="2187" r="22.4" class="c35 a5"/><circle cx="4882" cy="2108" r="22.4" class="c35 a5"/><circle cx="4681" cy="2023" r="22.4" class="c42 a4"/><circle cx="4995" cy="2121" r="22.4" class="c36 a5"/><circle cx="4135" cy="1947" r="22.4" class="c45 a4"/><circle cx="4401" cy="1962" r="22.4" class="c43 a4"/><circle cx="5177" cy="2178" r="22.4" class="c33 a5"/><circle cx="5479" cy="2257" r="22.4" class="c36 a5"/><circle cx="4747" cy="2062" r="22.4" class="c42 a4"/><circle cx="5370" cy="2200" r="22.4" class="c35 a5"/><circle cx="5293" cy="2179" r="22.4" class="c34 a5"/><circle cx="4251" cy="1952" r="22.4" class="c41 a4"/><circle cx="4915" cy="2102" r="22.4" class="c33 a5"/><circle cx="5450" cy="2226" r="22.4" class="c32 a5"/><circle cx="5217" cy="2164" r="22.4" class="c31 a5"/><circle cx="4271" cy="1937" r="22.4" class="c48 a3"/><circle cx="4416" cy="1922" r="22.4" class="c44 a3"/><circle cx="4707" cy="2020" r="22.4" class="c44 a3"/><circle cx="4632" cy="1993" r="22.4" class="c44 a3"/><circle cx="4209" cy="1937" r="22.4" class="c44 a3"/><circle cx="4576" cy="1989" r="22.4" class="c43 a3"/><circle cx="4501" cy="1913" r="22.4" class="c43 a3"/><circle cx="4343" cy="1940" r="22.4" class="c49 a3"/><circle cx="4151" cy="1936" r="22.4" class="c42 a3"/><circle cx="4031" cy="1929" r="22.4" class="c41 a3"/><circle cx="4094" cy="1934" r="22.4" class="c44 a3"/><circle cx="4841" cy="2080" r="22.4" class="c34 a5"/><circle cx="4774" cy="2053" r="22.4" class="c45 a3"/><circle cx="4809" cy="2093" r="22.4" class="c36 a5"/><circle cx="5141" cy="2151" r="22.4" class="c35 a5"/><circle cx="5522" cy="2258" r="22.4" class="c33 a5"/><circle cx="5027" cy="2159" r="22.4" class="c35 a5"/><circle cx="5546" cy="2295" r="22.4" class="c34 a5"/><circle cx="5312" cy="2218" r="22.4" class="c34 a5"/><circle cx="5098" cy="2170" r="22.4" class="c30 a5"/><circle cx="4541" cy="1995" r="22.4" class="c42 a4"/><circle cx="4474" cy="1992" r="22.4" class="c45 a4"/><circle cx="5064" cy="2144" r="22.4" class="c33 a5"/><circle cx="5391" cy="2241" r="22.4" class="c30 a5"/><circle cx="4949" cy="2150" r="22.4" class="c33 a5"/><circle cx="5331" cy="2174" r="22.4" class="c37 a4"/><circle cx="5412" cy="2197" r="22.4" class="c34 a4"/><circle cx="5238" cy="2203" r="22.4" class="c34 a5"/><circle cx="5255" cy="2155" r="22.4" class="c36 a4"/><circle cx="5491" cy="2224" r="22.4" class="c38 a4"/><circle cx="5180" cy="2139" r="22.4" class="c36 a4"/><circle cx="5104" cy="2126" r="22.4" class="c36 a4"/><circle cx="5566" cy="2260" r="22.4" class="c35 a4"/><circle cx="5026" cy="2118" r="22.4" class="c38 a4"/><circle cx="4601" cy="2017" r="22.4" class="c43 a4"/><circle cx="4945" cy="2102" r="22.4" class="c33 a4"/><circle cx="4080" cy="1953" r="22.4" class="c42 a4"/><circle cx="4869" cy="2076" r="22.4" class="c34 a4"/><circle cx="5163" cy="2195" r="22.4" class="c33 a5"/><circle cx="4799" cy="2052" r="22.4" class="c47 a3"/><circle cx="5460" cy="2269" r="22.4" class="c36 a5"/><circle cx="4873" cy="2129" r="22.4" class="c35 a5"/><circle cx="4676" cy="2045" r="22.4" class="c41 a4"/><circle cx="4013" cy="1945" r="22.4" class="c41 a4"/><circle cx="5352" cy="2215" r="22.4" class="c34 a5"/><circle cx="4983" cy="2140" r="22.4" class="c35 a5"/><circle cx="5276" cy="2195" r="22.4" class="c34 a5"/><circle cx="4191" cy="1963" r="22.4" class="c40 a4"/><circle cx="5431" cy="2238" r="22.4" class="c32 a5"/><circle cx="5202" cy="2181" r="22.4" class="c31 a5"/><circle cx="4315" cy="1968" r="22.4" class="c43 a4"/><circle cx="4741" cy="2083" r="22.4" class="c42 a4"/><circle cx="4904" cy="2122" r="22.4" class="c33 a5"/><circle cx="5127" cy="2169" r="22.4" class="c35 a5"/><circle cx="5502" cy="2269" r="22.4" class="c33 a5"/><circle cx="4702" cy="2042" r="22.4" class="c43 a4"/><circle cx="5295" cy="2232" r="22.4" class="c34 a5"/><circle cx="4628" cy="2016" r="22.4" class="c43 a4"/><circle cx="4801" cy="2114" r="22.4" class="c35 a5"/><circle cx="5015" cy="2178" r="22.4" class="c35 a5"/><circle cx="4832" cy="2101" r="22.4" class="c34 a5"/><circle cx="4767" cy="2075" r="22.4" class="c44 a4"/><circle cx="5085" cy="2188" r="22.4" class="c30 a5"/><circle cx="5373" cy="2253" r="22.4" class="c30 a5"/><circle cx="5527" cy="2305" r="22.4" class="c34 a5"/><circle cx="4572" cy="2010" r="22.4" class="c42 a4"/><circle cx="4401" cy="1984" r="22.4" class="c42 a4"/><circle cx="5223" cy="2218" r="22.4" class="c34 a5"/><circle cx="5313" cy="2189" r="22.4" class="c36 a5"/><circle cx="5393" cy="2211" r="22.4" class="c33 a5"/><circle cx="4500" cy="1943" r="22.4" class="c42 a4"/><circle cx="5051" cy="2163" r="22.4" class="c33 a5"/><circle cx="5239" cy="2172" r="22.4" class="c35 a5"/><circle cx="5472" cy="2237" r="22.4" class="c37 a5"/><circle cx="5165" cy="2157" r="22.4" class="c36 a5"/><circle cx="4938" cy="2169" r="22.4" class="c32 a6"/><circle cx="4418" cy="1949" r="22.4" class="c43 a4"/><circle cx="5090" cy="2145" r="22.4" class="c36 a5"/><circle cx="5545" cy="2271" r="22.4" class="c34 a5"/><circle cx="4539" cy="2017" r="22.4" class="c41 a4"/><circle cx="4253" cy="1974" r="22.4" class="c39 a4"/><circle cx="5149" cy="2211" r="22.4" class="c33 a6"/><circle cx="4139" cy="1969" r="22.4" class="c43 a4"/><circle cx="4344" cy="1963" r="22.4" class="c47 a4"/><circle cx="5441" cy="2280" r="22.4" class="c36 a6"/><circle cx="5013" cy="2137" r="22.4" class="c37 a5"/><circle cx="5335" cy="2228" r="22.4" class="c34 a5"/><circle cx="4474" cy="2013" r="22.4" class="c44 a4"/><circle cx="4273" cy="1960" r="22.4" class="c46 a4"/><circle cx="5260" cy="2210" r="22.4" class="c33 a5"/><circle cx="5413" cy="2251" r="22.4" class="c32 a5"/><circle cx="4211" cy="1960" r="22.4" class="c43 a4"/><circle cx="4597" cy="2039" r="22.4" class="c43 a4"/><circle cx="5187" cy="2198" r="22.4" class="c31 a5"/><circle cx="4934" cy="2123" r="22.4" class="c32 a5"/><circle cx="4864" cy="2149" r="22.4" class="c34 a6"/><circle cx="4672" cy="2066" r="22.4" class="c40 a4"/><circle cx="4971" cy="2160" r="22.4" class="c35 a5"/><circle cx="4860" cy="2098" r="22.4" class="c34 a5"/><circle cx="4155" cy="1959" r="22.4" class="c41 a4"/><circle cx="4791" cy="2074" r="22.4" class="c46 a4"/><circle cx="5113" cy="2186" r="22.4" class="c35 a5"/><circle cx="5279" cy="2246" r="22.4" class="c34 a6"/><circle cx="4039" cy="1773" r="22.4" class="c34 a4"/><circle cx="4095" cy="1759" r="22.4" class="c34 a4"/><circle cx="3984" cy="1790" r="22.4" class="c33 a4"/><circle cx="3885" cy="1847" r="22.4" class="c34 a4"/><circle cx="4011" cy="1781" r="22.4" class="c30 a4"/><circle cx="3867" cy="1869" r="22.4" class="c34 a4"/><circle cx="4025" cy="1887" r="22.4" class="c37 a4"/><circle cx="4067" cy="1766" r="22.4" class="c37 a4"/><circle cx="3957" cy="1800" r="22.4" class="c38 a4"/><circle cx="3918" cy="1899" r="22.4" class="c38 a4"/><circle cx="3931" cy="1812" r="22.4" class="c31 a4"/><circle cx="3999" cy="1874" r="22.4" class="c32 a4"/><circle cx="3971" cy="1879" r="22.4" class="c30 a4"/><circle cx="3853" cy="1894" r="22.4" class="c34 a4"/><circle cx="3906" cy="1827" r="22.4" class="c35 a4"/><circle cx="3943" cy="1885" r="22.4" class="c33 a4"/><circle cx="5572" cy="2061" r="22.4" class="c39 a2"/><circle cx="5577" cy="2257" r="22.4" class="c39 a2"/><circle cx="5494" cy="2007" r="22.4" class="c46 a2"/><circle cx="5641" cy="2123" r="22.4" class="c41 a2"/><circle cx="5672" cy="2157" r="22.4" class="c43 a2"/><circle cx="5452" cy="1980" r="22.4" class="c38 a2"/><circle cx="5498" cy="2293" r="22.4" class="c37 a2"/><circle cx="5371" cy="1946" r="22.4" class="c44 a2"/><circle cx="5540" cy="2279" r="22.4" class="c40 a2"/><circle cx="5627" cy="2240" r="22.4" class="c40 a2"/><circle cx="5650" cy="2196" r="22.4" class="c34 a2"/><circle cx="4099" cy="1956" r="22.4" class="c42 a4"/><circle cx="4735" cy="2104" r="22.4" class="c41 a4"/><circle cx="5483" cy="2280" r="22.4" class="c33 a5"/><circle cx="5356" cy="2266" r="22.4" class="c29 a6"/><circle cx="5072" cy="2205" r="22.4" class="c30 a6"/><circle cx="5208" cy="2233" r="22.4" class="c34 a6"/><circle cx="4895" cy="2142" r="22.4" class="c32 a5"/><circle cx="5003" cy="2195" r="22.4" class="c34 a6"/><circle cx="5508" cy="2314" r="22.4" class="c34 a6"/><circle cx="4697" cy="2064" r="22.4" class="c43 a4"/><circle cx="5296" cy="2205" r="22.4" class="c36 a5"/><circle cx="5375" cy="2225" r="22.4" class="c33 a5"/><circle cx="4794" cy="2134" r="22.4" class="c35 a6"/><circle cx="4036" cy="1951" r="22.4" class="c39 a4"/><circle cx="5224" cy="2188" r="22.4" class="c34 a5"/><circle cx="5452" cy="2249" r="22.4" class="c37 a5"/><circle cx="4824" cy="2121" r="22.4" class="c33 a5"/><circle cx="5038" cy="2181" r="22.4" class="c32 a5"/><circle cx="4624" cy="2038" r="22.4" class="c42 a4"/><circle cx="4760" cy="2096" r="22.4" class="c43 a4"/><circle cx="5150" cy="2175" r="22.4" class="c35 a5"/><circle cx="5135" cy="2227" r="22.4" class="c32 a6"/><circle cx="5423" cy="2290" r="22.4" class="c35 a6"/><circle cx="4316" cy="1989" r="22.4" class="c42 a4"/><circle cx="4568" cy="2031" r="22.4" class="c41 a4"/><circle cx="4927" cy="2187" r="22.4" class="c32 a6"/><circle cx="5077" cy="2163" r="22.4" class="c35 a5"/><circle cx="5318" cy="2242" r="22.4" class="c34 a5"/><circle cx="5525" cy="2282" r="22.4" class="c34 a5"/><circle cx="5244" cy="2225" r="22.4" class="c33 a5"/><circle cx="4194" cy="1984" r="22.4" class="c39 a4"/><circle cx="5395" cy="2263" r="22.4" class="c31 a5"/><circle cx="4084" cy="1974" r="22.4" class="c41 a5"/><circle cx="5173" cy="2214" r="22.4" class="c30 a6"/><circle cx="4402" cy="2005" r="22.4" class="c41 a5"/><circle cx="4499" cy="1972" r="22.4" class="c41 a4"/><circle cx="5001" cy="2156" r="22.4" class="c36 a5"/><circle cx="4537" cy="2038" r="22.4" class="c40 a5"/><circle cx="5263" cy="2259" r="22.4" class="c33 a6"/><circle cx="4855" cy="2168" r="22.4" class="c34 a6"/><circle cx="4667" cy="2087" r="22.4" class="c40 a5"/><circle cx="4960" cy="2178" r="22.4" class="c35 a6"/><circle cx="5100" cy="2203" r="22.4" class="c34 a6"/><circle cx="5339" cy="2278" r="22.4" class="c29 a6"/><circle cx="4594" cy="2060" r="22.4" class="c42 a5"/><circle cx="4419" cy="1975" r="22.4" class="c42 a4"/><circle cx="4923" cy="2143" r="22.4" class="c32 a5"/><circle cx="5193" cy="2248" r="22.4" class="c33 a6"/><circle cx="5464" cy="2291" r="22.4" class="c32 a6"/><circle cx="5060" cy="2222" r="22.4" class="c30 a6"/><circle cx="4474" cy="2032" r="22.4" class="c43 a5"/><circle cx="4851" cy="2118" r="22.4" class="c34 a5"/><circle cx="4018" cy="1966" r="22.4" class="c39 a5"/><circle cx="4784" cy="2095" r="22.4" class="c45 a4"/><circle cx="4991" cy="2212" r="22.4" class="c34 a6"/><circle cx="4730" cy="2124" r="22.4" class="c40 a5"/><circle cx="5489" cy="2323" r="22.4" class="c33 a6"/><circle cx="4344" cy="1985" r="22.4" class="c46 a4"/><circle cx="5280" cy="2219" r="22.4" class="c35 a5"/><circle cx="4255" cy="1995" r="22.4" class="c38 a5"/><circle cx="5357" cy="2239" r="22.4" class="c32 a5"/><circle cx="5208" cy="2205" r="22.4" class="c34 a5"/><circle cx="4885" cy="2161" r="22.4" class="c32 a6"/><circle cx="5434" cy="2261" r="22.4" class="c37 a5"/><circle cx="5122" cy="2243" r="22.4" class="c32 a6"/><circle cx="5026" cy="2198" r="22.4" class="c32 a6"/><circle cx="5406" cy="2301" r="22.4" class="c35 a6"/><circle cx="5136" cy="2192" r="22.4" class="c35 a5"/><circle cx="4274" cy="1981" r="22.4" class="c45 a4"/><circle cx="4692" cy="2084" r="22.4" class="c42 a4"/><circle cx="4786" cy="2153" r="22.4" class="c34 a6"/><circle cx="4143" cy="1989" r="22.4" class="c42 a5"/><circle cx="5301" cy="2255" r="22.4" class="c33 a6"/><circle cx="5229" cy="2240" r="22.4" class="c33 a6"/><circle cx="4816" cy="2141" r="22.4" class="c33 a6"/><circle cx="4754" cy="2116" r="22.4" class="c42 a4"/><circle cx="5064" cy="2181" r="22.4" class="c35 a5"/><circle cx="4620" cy="2059" r="22.4" class="c41 a4"/><circle cx="5377" cy="2275" r="22.4" class="c31 a6"/><circle cx="4917" cy="2205" r="22.4" class="c32 a6"/><circle cx="5505" cy="2292" r="22.4" class="c33 a5"/><circle cx="4214" cy="1981" r="22.4" class="c41 a4"/><circle cx="5159" cy="2230" r="22.4" class="c30 a6"/><circle cx="5248" cy="2272" r="22.4" class="c33 a6"/><circle cx="4564" cy="2050" r="22.4" class="c40 a4"/><circle cx="5323" cy="2289" r="22.4" class="c29 a6"/><circle cx="4159" cy="1980" r="22.4" class="c39 a4"/><circle cx="4989" cy="2175" r="22.4" class="c36 a5"/><circle cx="5179" cy="2262" r="22.4" class="c33 a6"/><circle cx="5088" cy="2219" r="22.4" class="c34 a6"/><circle cx="4542" cy="1921" r="22.4" class="c45 a4"/><circle cx="4366" cy="1956" r="22.4" class="c43 a4"/><circle cx="4174" cy="1967" r="22.4" class="c42 a4"/><circle cx="4294" cy="1971" r="22.4" class="c42 a4"/><circle cx="4648" cy="2049" r="22.4" class="c44 a4"/><circle cx="4433" cy="1917" r="22.4" class="c40 a4"/><circle cx="4717" cy="2079" r="22.4" class="c45 a4"/><circle cx="4059" cy="1956" r="22.4" class="c39 a4"/><circle cx="4232" cy="1969" r="22.4" class="c40 a4"/><circle cx="4119" cy="1963" r="22.4" class="c43 a4"/><circle cx="4579" cy="2026" r="22.4" class="c41 a4"/><circle cx="5048" cy="2238" r="22.4" class="c29 a6"/><circle cx="5446" cy="2301" r="22.4" class="c32 a6"/><circle cx="4847" cy="2186" r="22.4" class="c33 a6"/><circle cx="4949" cy="2196" r="22.4" class="c34 a6"/><circle cx="4663" cy="2107" r="22.4" class="c39 a5"/><circle cx="4536" cy="2059" r="22.4" class="c39 a5"/><circle cx="4103" cy="1977" r="22.4" class="c41 a5"/><circle cx="4316" cy="2009" r="22.4" class="c41 a5"/><circle cx="4980" cy="2229" r="22.4" class="c34 a6"/><circle cx="4591" cy="2080" r="22.4" class="c41 a5"/><circle cx="4497" cy="1999" r="22.4" class="c40 a5"/><circle cx="4913" cy="2162" r="22.4" class="c32 a6"/><circle cx="5472" cy="2332" r="22.4" class="c33 a6"/><circle cx="5264" cy="2234" r="22.4" class="c35 a6"/><circle cx="5340" cy="2252" r="22.4" class="c32 a6"/><circle cx="4403" cy="2025" r="22.4" class="c40 a5"/><circle cx="5109" cy="2258" r="22.4" class="c32 a6"/><circle cx="5194" cy="2220" r="22.4" class="c34 a6"/><circle cx="5389" cy="2311" r="22.4" class="c35 a6"/><circle cx="5416" cy="2273" r="22.4" class="c36 a6"/><circle cx="4724" cy="2143" r="22.4" class="c39 a5"/><circle cx="4843" cy="2138" r="22.4" class="c33 a6"/><circle cx="5123" cy="2209" r="22.4" class="c35 a6"/><circle cx="5014" cy="2215" r="22.4" class="c32 a6"/><circle cx="5285" cy="2268" r="22.4" class="c33 a6"/><circle cx="4777" cy="2115" r="22.4" class="c45 a4"/><circle cx="4196" cy="2004" r="22.4" class="c37 a5"/><circle cx="5214" cy="2254" r="22.4" class="c32 a6"/><circle cx="4876" cy="2180" r="22.4" class="c31 a6"/><circle cx="4474" cy="2051" r="22.4" class="c42 a5"/><circle cx="5361" cy="2286" r="22.4" class="c31 a6"/><circle cx="4421" cy="2000" r="22.4" class="c41 a5"/><circle cx="5145" cy="2245" r="22.4" class="c30 a6"/><circle cx="4779" cy="2172" r="22.4" class="c34 a7"/><circle cx="4687" cy="2104" r="22.4" class="c41 a5"/><circle cx="5233" cy="2285" r="22.4" class="c33 a7"/><circle cx="5051" cy="2198" r="22.4" class="c34 a6"/><circle cx="5487" cy="2302" r="22.4" class="c33 a6"/><circle cx="4907" cy="2222" r="22.4" class="c31 a7"/><circle cx="4041" cy="1972" r="22.4" class="c38 a5"/><circle cx="5307" cy="2301" r="22.4" class="c28 a7"/><circle cx="4808" cy="2160" r="22.4" class="c32 a6"/><circle cx="4748" cy="2136" r="22.4" class="c41 a5"/><circle cx="4088" cy="1994" r="22.4" class="c39 a5"/><circle cx="5166" cy="2276" r="22.4" class="c33 a7"/><circle cx="4616" cy="2079" r="22.4" class="c41 a5"/><circle cx="5075" cy="2235" r="22.4" class="c34 a6"/><circle cx="4345" cy="2005" r="22.4" class="c45 a5"/><circle cx="5036" cy="2253" r="22.4" class="c29 a7"/><circle cx="4256" cy="2014" r="22.4" class="c37 a5"/><circle cx="5429" cy="2311" r="22.4" class="c32 a6"/><circle cx="4978" cy="2193" r="22.4" class="c36 a6"/><circle cx="4839" cy="2203" r="22.4" class="c33 a7"/><circle cx="4560" cy="2068" r="22.4" class="c39 a5"/><circle cx="4969" cy="2245" r="22.4" class="c33 a7"/><circle cx="4938" cy="2213" r="22.4" class="c34 a6"/><circle cx="5096" cy="2273" r="22.4" class="c31 a7"/><circle cx="4659" cy="2126" r="22.4" class="c38 a5"/><circle cx="5248" cy="2248" r="22.4" class="c35 a6"/><circle cx="5323" cy="2264" r="22.4" class="c32 a6"/><circle cx="4712" cy="2100" r="22.4" class="c45 a4"/><circle cx="4275" cy="2002" r="22.4" class="c44 a5"/><circle cx="5373" cy="2321" r="22.4" class="c34 a7"/><circle cx="4644" cy="2070" r="22.4" class="c44 a4"/><circle cx="5455" cy="2341" r="22.4" class="c33 a7"/><circle cx="5179" cy="2236" r="22.4" class="c33 a6"/><circle cx="5398" cy="2284" r="22.4" class="c36 a6"/><circle cx="4576" cy="2047" r="22.4" class="c40 a4"/><circle cx="5270" cy="2280" r="22.4" class="c33 a6"/><circle cx="4534" cy="2078" r="22.4" class="c38 a5"/><circle cx="4587" cy="2099" r="22.4" class="c40 a5"/><circle cx="5200" cy="2268" r="22.4" class="c32 a6"/><circle cx="4537" cy="1958" r="22.4" class="c44 a4"/><circle cx="5110" cy="2225" r="22.4" class="c34 a6"/><circle cx="4147" cy="2008" r="22.4" class="c41 a5"/><circle cx="4903" cy="2180" r="22.4" class="c31 a6"/><circle cx="5003" cy="2231" r="22.4" class="c31 a6"/><circle cx="4719" cy="2161" r="22.4" class="c39 a5"/><circle cx="5344" cy="2297" r="22.4" class="c30 a6"/><circle cx="5218" cy="2297" r="22.4" class="c32 a7"/><circle cx="4216" cy="2002" r="22.4" class="c40 a5"/><circle cx="4436" cy="1952" r="22.4" class="c39 a5"/><circle cx="5132" cy="2259" r="22.4" class="c29 a6"/><circle cx="4834" cy="2157" r="22.4" class="c33 a6"/><circle cx="4023" cy="1985" r="22.4" class="c37 a5"/><circle cx="5292" cy="2312" r="22.4" class="c28 a7"/><circle cx="4496" cy="2025" r="22.4" class="c39 a5"/><circle cx="4867" cy="2198" r="22.4" class="c31 a6"/><circle cx="4368" cy="1982" r="22.4" class="c42 a5"/><circle cx="4770" cy="2135" r="22.4" class="c44 a5"/><circle cx="5039" cy="2215" r="22.4" class="c34 a6"/><circle cx="5152" cy="2290" r="22.4" class="c33 a7"/><circle cx="5469" cy="2312" r="22.4" class="c33 a6"/><circle cx="4773" cy="2189" r="22.4" class="c34 a7"/><circle cx="4403" cy="2044" r="22.4" class="c39 a5"/><circle cx="4295" cy="1992" r="22.4" class="c41 a5"/><circle cx="4317" cy="2028" r="22.4" class="c40 a5"/><circle cx="4682" cy="2123" r="22.4" class="c40 a5"/><circle cx="4898" cy="2238" r="22.4" class="c31 a7"/><circle cx="5025" cy="2268" r="22.4" class="c29 a7"/><circle cx="4162" cy="2000" r="22.4" class="c38 a5"/><circle cx="5063" cy="2251" r="22.4" class="c34 a6"/><circle cx="4234" cy="1990" r="22.4" class="c38 a5"/><circle cx="4474" cy="2068" r="22.4" class="c41 a5"/><circle cx="4801" cy="2178" r="22.4" class="c32 a6"/><circle cx="4742" cy="2155" r="22.4" class="c41 a5"/><circle cx="5412" cy="2321" r="22.4" class="c31 a6"/><circle cx="4177" cy="1988" r="22.4" class="c40 a5"/><circle cx="4613" cy="2098" r="22.4" class="c40 a5"/><circle cx="5084" cy="2287" r="22.4" class="c31 a7"/><circle cx="4422" cy="2023" r="22.4" class="c40 a5"/><circle cx="5357" cy="2331" r="22.4" class="c34 a7"/><circle cx="4124" cy="1984" r="22.4" class="c42 a5"/><circle cx="4959" cy="2260" r="22.4" class="c33 a7"/><circle cx="4966" cy="2210" r="22.4" class="c35 a6"/><circle cx="5233" cy="2261" r="22.4" class="c35 a6"/><circle cx="5307" cy="2277" r="22.4" class="c31 a6"/><circle cx="5438" cy="2349" r="22.4" class="c32 a7"/><circle cx="5166" cy="2250" r="22.4" class="c33 a6"/><circle cx="4107" cy="1997" r="22.4" class="c39 a5"/><circle cx="5255" cy="2292" r="22.4" class="c32 a7"/><circle cx="4199" cy="2023" r="22.4" class="c36 a5"/><circle cx="4831" cy="2220" r="22.4" class="c33 a7"/><circle cx="4928" cy="2229" r="22.4" class="c33 a7"/><circle cx="5381" cy="2295" r="22.4" class="c36 a6"/><circle cx="4655" cy="2144" r="22.4" class="c37 a5"/><circle cx="5186" cy="2281" r="22.4" class="c32 a7"/><circle cx="4063" cy="1977" r="22.4" class="c38 a5"/><circle cx="5204" cy="2309" r="22.4" class="c32 a7"/><circle cx="5328" cy="2308" r="22.4" class="c30 a7"/><circle cx="5097" cy="2241" r="22.4" class="c34 a6"/><circle cx="4707" cy="2120" r="22.4" class="c44 a5"/><circle cx="4992" cy="2247" r="22.4" class="c31 a7"/><circle cx="4557" cy="2086" r="22.4" class="c39 a5"/><circle cx="4640" cy="2090" r="22.4" class="c43 a5"/><circle cx="5119" cy="2274" r="22.4" class="c29 a7"/><circle cx="5277" cy="2322" r="22.4" class="c28 a7"/><circle cx="4345" cy="2025" r="22.4" class="c44 a5"/><circle cx="5139" cy="2303" r="22.4" class="c32 a7"/><circle cx="4584" cy="2118" r="22.4" class="c39 a6"/><circle cx="4714" cy="2179" r="22.4" class="c38 a6"/><circle cx="4894" cy="2198" r="22.4" class="c31 a6"/><circle cx="4532" cy="2097" r="22.4" class="c38 a6"/><circle cx="4573" cy="2067" r="22.4" class="c39 a5"/><circle cx="4258" cy="2033" r="22.4" class="c36 a6"/><circle cx="5028" cy="2231" r="22.4" class="c34 a6"/><circle cx="5014" cy="2283" r="22.4" class="c28 a7"/><circle cx="4859" cy="2215" r="22.4" class="c31 a7"/><circle cx="4826" cy="2176" r="22.4" class="c32 a6"/><circle cx="5451" cy="2322" r="22.4" class="c32 a6"/><circle cx="5052" cy="2266" r="22.4" class="c33 a7"/><circle cx="4092" cy="2012" r="22.4" class="c38 a6"/><circle cx="4533" cy="1993" r="22.4" class="c43 a5"/><circle cx="4889" cy="2254" r="22.4" class="c31 a7"/><circle cx="4766" cy="2207" r="22.4" class="c33 a7"/><circle cx="4764" cy="2154" r="22.4" class="c43 a5"/><circle cx="5396" cy="2330" r="22.4" class="c31 a7"/><circle cx="4277" cy="2021" r="22.4" class="c43 a5"/><circle cx="4678" cy="2142" r="22.4" class="c40 a5"/><circle cx="5073" cy="2301" r="22.4" class="c31 a7"/><circle cx="5341" cy="2340" r="22.4" class="c34 a7"/><circle cx="4495" cy="2050" r="22.4" class="c38 a5"/><circle cx="4439" cy="1986" r="22.4" class="c38 a5"/><circle cx="5219" cy="2275" r="22.4" class="c34 a6"/><circle cx="4045" cy="1991" r="22.4" class="c36 a5"/><circle cx="5292" cy="2289" r="22.4" class="c31 a6"/><circle cx="4794" cy="2196" r="22.4" class="c32 a7"/><circle cx="4737" cy="2173" r="22.4" class="c40 a5"/><circle cx="4949" cy="2275" r="22.4" class="c33 a7"/><circle cx="5240" cy="2304" r="22.4" class="c32 a7"/><circle cx="5422" cy="2357" r="22.4" class="c32 a7"/><circle cx="5152" cy="2265" r="22.4" class="c33 a6"/><circle cx="5172" cy="2294" r="22.4" class="c31 a7"/><circle cx="5190" cy="2321" r="22.4" class="c32 a7"/><circle cx="4404" cy="2062" r="22.4" class="c38 a6"/><circle cx="4610" cy="2116" r="22.4" class="c39 a5"/><circle cx="5365" cy="2306" r="22.4" class="c35 a6"/><circle cx="4956" cy="2226" r="22.4" class="c35 a6"/><circle cx="4474" cy="2084" r="22.4" class="c40 a6"/><circle cx="5313" cy="2319" r="22.4" class="c30 a7"/><circle cx="4151" cy="2026" r="22.4" class="c40 a6"/><circle cx="4370" cy="2007" r="22.4" class="c41 a5"/><circle cx="5262" cy="2333" r="22.4" class="c28 a7"/><circle cx="4824" cy="2237" r="22.4" class="c32 a7"/><circle cx="4919" cy="2245" r="22.4" class="c33 a7"/><circle cx="4218" cy="2021" r="22.4" class="c39 a5"/><circle cx="4651" cy="2162" r="22.4" class="c37 a6"/><circle cx="4317" cy="2046" r="22.4" class="c39 a6"/><circle cx="5085" cy="2256" r="22.4" class="c34 a6"/><circle cx="5107" cy="2288" r="22.4" class="c29 a7"/><circle cx="5127" cy="2315" r="22.4" class="c32 a7"/><circle cx="4981" cy="2262" r="22.4" class="c31 a7"/><circle cx="4296" cy="2012" r="22.4" class="c40 a5"/><circle cx="4424" cy="2045" r="22.4" class="c39 a5"/><circle cx="4702" cy="2138" r="22.4" class="c43 a5"/><circle cx="4709" cy="2197" r="22.4" class="c37 a6"/><circle cx="5003" cy="2297" r="22.4" class="c28 a7"/><circle cx="4637" cy="2109" r="22.4" class="c42 a5"/><circle cx="4581" cy="2136" r="22.4" class="c39 a6"/><circle cx="4553" cy="2103" r="22.4" class="c38 a5"/><circle cx="5016" cy="2247" r="22.4" class="c33 a7"/><circle cx="4236" cy="2010" r="22.4" class="c37 a5"/><circle cx="5040" cy="2280" r="22.4" class="c33 a7"/><circle cx="4885" cy="2215" r="22.4" class="c30 a7"/><circle cx="4165" cy="2019" r="22.4" class="c37 a5"/><circle cx="5061" cy="2314" r="22.4" class="c31 a7"/><circle cx="5434" cy="2331" r="22.4" class="c32 a7"/><circle cx="5326" cy="2349" r="22.4" class="c34 a7"/><circle cx="4531" cy="2115" r="22.4" class="c37 a6"/><circle cx="5380" cy="2339" r="22.4" class="c31 a7"/><circle cx="4851" cy="2231" r="22.4" class="c30 a7"/><circle cx="4880" cy="2270" r="22.4" class="c30 a7"/><circle cx="4027" cy="2003" r="22.4" class="c36 a6"/><circle cx="4570" cy="2087" r="22.4" class="c39 a5"/><circle cx="4760" cy="2223" r="22.4" class="c33 a7"/><circle cx="4180" cy="2008" r="22.4" class="c39 a5"/><circle cx="4819" cy="2193" r="22.4" class="c32 a7"/><circle cx="4201" cy="2041" r="22.4" class="c35 a6"/><circle cx="5204" cy="2287" r="22.4" class="c34 a7"/><circle cx="5276" cy="2300" r="22.4" class="c31 a7"/><circle cx="5226" cy="2315" r="22.4" class="c32 a7"/><circle cx="5177" cy="2332" r="22.4" class="c32 a7"/><circle cx="4939" cy="2290" r="22.4" class="c32 a7"/><circle cx="4674" cy="2160" r="22.4" class="c39 a6"/><circle cx="5159" cy="2306" r="22.4" class="c31 a7"/><circle cx="5406" cy="2365" r="22.4" class="c32 a7"/><circle cx="4758" cy="2172" r="22.4" class="c42 a5"/><circle cx="5139" cy="2278" r="22.4" class="c33 a7"/><circle cx="4346" cy="2043" r="22.4" class="c43 a6"/><circle cx="5248" cy="2343" r="22.4" class="c27 a8"/><circle cx="5298" cy="2329" r="22.4" class="c30 a7"/><circle cx="5349" cy="2316" r="22.4" class="c35 a7"/><circle cx="4127" cy="2003" r="22.4" class="c41 a5"/><circle cx="4529" cy="2026" r="22.4" class="c43 a5"/><circle cx="4787" cy="2212" r="22.4" class="c31 a7"/><circle cx="5115" cy="2328" r="22.4" class="c32 a8"/><circle cx="4731" cy="2190" r="22.4" class="c39 a6"/><circle cx="4259" cy="2050" r="22.4" class="c35 a6"/><circle cx="4111" cy="2015" r="22.4" class="c38 a6"/><circle cx="5095" cy="2301" r="22.4" class="c29 a7"/><circle cx="4946" cy="2242" r="22.4" class="c35 a7"/><circle cx="5073" cy="2270" r="22.4" class="c33 a7"/><circle cx="4494" cy="2074" r="22.4" class="c38 a6"/><circle cx="4817" cy="2253" r="22.4" class="c32 a8"/><circle cx="4909" cy="2260" r="22.4" class="c33 a7"/><circle cx="4606" cy="2134" r="22.4" class="c38 a6"/><circle cx="4971" cy="2276" r="22.4" class="c30 a7"/><circle cx="4647" cy="2179" r="22.4" class="c36 a6"/><circle cx="4993" cy="2311" r="22.4" class="c28 a8"/><circle cx="4474" cy="2100" r="22.4" class="c39 a6"/><circle cx="4442" cy="2018" r="22.4" class="c38 a5"/><circle cx="4278" cy="2039" r="22.4" class="c42 a6"/><circle cx="4068" cy="1996" r="22.4" class="c36 a5"/><circle cx="4404" cy="2079" r="22.4" class="c37 a6"/><circle cx="5050" cy="2327" r="22.4" class="c30 a8"/><circle cx="5029" cy="2294" r="22.4" class="c33 a7"/><circle cx="5312" cy="2358" r="22.4" class="c33 a8"/><circle cx="4705" cy="2213" r="22.4" class="c37 a6"/><circle cx="5005" cy="2262" r="22.4" class="c33 a7"/><circle cx="4096" cy="2030" r="22.4" class="c37 a6"/><circle cx="5364" cy="2348" r="22.4" class="c30 a7"/><circle cx="4697" cy="2157" r="22.4" class="c42 a5"/><circle cx="5418" cy="2339" r="22.4" class="c32 a7"/><circle cx="4579" cy="2153" r="22.4" class="c38 a6"/><circle cx="5164" cy="2343" r="22.4" class="c31 a8"/><circle cx="4633" cy="2127" r="22.4" class="c41 a5"/><circle cx="5212" cy="2327" r="22.4" class="c32 a7"/><circle cx="4318" cy="2063" r="22.4" class="c38 a6"/><circle cx="4871" cy="2284" r="22.4" class="c30 a8"/><circle cx="4876" cy="2231" r="22.4" class="c30 a7"/><circle cx="4372" cy="2030" r="22.4" class="c40 a5"/><circle cx="5191" cy="2300" r="22.4" class="c34 a7"/><circle cx="5262" cy="2311" r="22.4" class="c31 a7"/><circle cx="5147" cy="2318" r="22.4" class="c31 a7"/><circle cx="4550" cy="2119" r="22.4" class="c37 a6"/><circle cx="5234" cy="2353" r="22.4" class="c27 a8"/><circle cx="4929" cy="2304" r="22.4" class="c32 a8"/><circle cx="4843" cy="2247" r="22.4" class="c30 a7"/><circle cx="4425" cy="2067" r="22.4" class="c38 a6"/><circle cx="4529" cy="2132" r="22.4" class="c36 a6"/><circle cx="4754" cy="2239" r="22.4" class="c33 a8"/><circle cx="5391" cy="2372" r="22.4" class="c31 a8"/><circle cx="5126" cy="2292" r="22.4" class="c32 a7"/><circle cx="5283" cy="2339" r="22.4" class="c29 a7"/><circle cx="5103" cy="2340" r="22.4" class="c32 a8"/><circle cx="4154" cy="2043" r="22.4" class="c39 a6"/><circle cx="5333" cy="2326" r="22.4" class="c35 a7"/><circle cx="4220" cy="2038" r="22.4" class="c38 a6"/><circle cx="4812" cy="2210" r="22.4" class="c32 a7"/><circle cx="5083" cy="2314" r="22.4" class="c28 a7"/><circle cx="4670" cy="2177" r="22.4" class="c38 a6"/><circle cx="4568" cy="2105" r="22.4" class="c38 a5"/><circle cx="4297" cy="2031" r="22.4" class="c39 a5"/><circle cx="5061" cy="2285" r="22.4" class="c33 a7"/><circle cx="4752" cy="2190" r="22.4" class="c41 a5"/><circle cx="4961" cy="2291" r="22.4" class="c30 a7"/><circle cx="4781" cy="2229" r="22.4" class="c31 a7"/><circle cx="4726" cy="2206" r="22.4" class="c39 a6"/><circle cx="4049" cy="2008" r="22.4" class="c35 a6"/><circle cx="4936" cy="2258" r="22.4" class="c34 a7"/><circle cx="4983" cy="2324" r="22.4" class="c28 a8"/><circle cx="4810" cy="2268" r="22.4" class="c32 a8"/><circle cx="4900" cy="2275" r="22.4" class="c33 a7"/><circle cx="4644" cy="2196" r="22.4" class="c36 a6"/><circle cx="4603" cy="2151" r="22.4" class="c38 a6"/><circle cx="4238" cy="2029" r="22.4" class="c36 a6"/><circle cx="5019" cy="2308" r="22.4" class="c32 a7"/><circle cx="4525" cy="2058" r="22.4" class="c42 a6"/><circle cx="4168" cy="2036" r="22.4" class="c36 a6"/><circle cx="4995" cy="2277" r="22.4" class="c33 a7"/><circle cx="4346" cy="2061" r="22.4" class="c42 a6"/><circle cx="5349" cy="2356" r="22.4" class="c30 a7"/><circle cx="4493" cy="2096" r="22.4" class="c37 a6"/><circle cx="5199" cy="2337" r="22.4" class="c31 a8"/><circle cx="5134" cy="2330" r="22.4" class="c31 a8"/><circle cx="5402" cy="2348" r="22.4" class="c31 a7"/><circle cx="5177" cy="2312" r="22.4" class="c33 a7"/><circle cx="5247" cy="2322" r="22.4" class="c30 a7"/><circle cx="4183" cy="2026" r="22.4" class="c38 a6"/><circle cx="5269" cy="2348" r="22.4" class="c29 a8"/><circle cx="4693" cy="2174" r="22.4" class="c42 a6"/><circle cx="5114" cy="2305" r="22.4" class="c32 a7"/><circle cx="5318" cy="2335" r="22.4" class="c35 a7"/><circle cx="5072" cy="2327" r="22.4" class="c28 a8"/><circle cx="4629" cy="2145" r="22.4" class="c41 a6"/><circle cx="4867" cy="2247" r="22.4" class="c30 a7"/><circle cx="4836" cy="2262" r="22.4" class="c30 a8"/><circle cx="4444" cy="2049" r="22.4" class="c37 a6"/><circle cx="4547" cy="2135" r="22.4" class="c36 a6"/><circle cx="5050" cy="2298" r="22.4" class="c33 a7"/><circle cx="4131" cy="2021" r="22.4" class="c40 a6"/><circle cx="4115" cy="2032" r="22.4" class="c37 a6"/><circle cx="4279" cy="2056" r="22.4" class="c41 a6"/><circle cx="4666" cy="2193" r="22.4" class="c38 a6"/><circle cx="4952" cy="2304" r="22.4" class="c30 a8"/><circle cx="4805" cy="2227" r="22.4" class="c31 a7"/><circle cx="4926" cy="2272" r="22.4" class="c34 a7"/><circle cx="5008" cy="2321" r="22.4" class="c32 a8"/><circle cx="4426" cy="2087" r="22.4" class="c37 a6"/><circle cx="4891" cy="2290" r="22.4" class="c32 a8"/><circle cx="4565" cy="2123" r="22.4" class="c37 a6"/><circle cx="4775" cy="2244" r="22.4" class="c31 a8"/><circle cx="4721" cy="2222" r="22.4" class="c38 a6"/><circle cx="4746" cy="2206" r="22.4" class="c41 a6"/><circle cx="4373" cy="2052" r="22.4" class="c39 a6"/><circle cx="5186" cy="2348" r="22.4" class="c31 a8"/><circle cx="5335" cy="2365" r="22.4" class="c30 a8"/><circle cx="5122" cy="2342" r="22.4" class="c30 a8"/><circle cx="4600" cy="2167" r="22.4" class="c37 a6"/><circle cx="4984" cy="2291" r="22.4" class="c33 a7"/><circle cx="5164" cy="2323" r="22.4" class="c33 a7"/><circle cx="5233" cy="2333" r="22.4" class="c30 a7"/><circle cx="5256" cy="2357" r="22.4" class="c29 a8"/><circle cx="5386" cy="2356" r="22.4" class="c31 a7"/><circle cx="4222" cy="2055" r="22.4" class="c37 a6"/><circle cx="4072" cy="2014" r="22.4" class="c35 a6"/><circle cx="5102" cy="2318" r="22.4" class="c32 a7"/><circle cx="5061" cy="2339" r="22.4" class="c28 a8"/><circle cx="4522" cy="2088" r="22.4" class="c41 a6"/><circle cx="5303" cy="2345" r="22.4" class="c34 a7"/><circle cx="4298" cy="2049" r="22.4" class="c38 a6"/><circle cx="4492" cy="2118" r="22.4" class="c36 a6"/><circle cx="4688" cy="2191" r="22.4" class="c41 a6"/><circle cx="5039" cy="2312" r="22.4" class="c32 a7"/><circle cx="4859" cy="2263" r="22.4" class="c29 a7"/><circle cx="4626" cy="2162" r="22.4" class="c40 a6"/><circle cx="4240" cy="2046" r="22.4" class="c35 a6"/><circle cx="4798" cy="2243" r="22.4" class="c31 a8"/><circle cx="4917" cy="2287" r="22.4" class="c34 a8"/><circle cx="4447" cy="2078" r="22.4" class="c36 a6"/><circle cx="5152" cy="2335" r="22.4" class="c33 a8"/><circle cx="5220" cy="2343" r="22.4" class="c30 a8"/><circle cx="4740" cy="2223" r="22.4" class="c40 a6"/><circle cx="4974" cy="2305" r="22.4" class="c32 a8"/><circle cx="4563" cy="2140" r="22.4" class="c36 a6"/><circle cx="5091" cy="2330" r="22.4" class="c32 a8"/><circle cx="4185" cy="2043" r="22.4" class="c37 a6"/><circle cx="5371" cy="2364" r="22.4" class="c31 a8"/><circle cx="5289" cy="2354" r="22.4" class="c34 a8"/><circle cx="5029" cy="2325" r="22.4" class="c32 a8"/><circle cx="4375" cy="2073" r="22.4" class="c38 a6"/><circle cx="4135" cy="2038" r="22.4" class="c39 a6"/><circle cx="4684" cy="2207" r="22.4" class="c41 a6"/><circle cx="4518" cy="2117" r="22.4" class="c40 a6"/><circle cx="4851" cy="2277" r="22.4" class="c29 a8"/><circle cx="4623" cy="2178" r="22.4" class="c39 a6"/><circle cx="4908" cy="2301" r="22.4" class="c33 a8"/><circle cx="5140" cy="2346" r="22.4" class="c33 a8"/><circle cx="5207" cy="2353" r="22.4" class="c30 a8"/><circle cx="4791" cy="2258" r="22.4" class="c31 a8"/><circle cx="4965" cy="2318" r="22.4" class="c32 a8"/><circle cx="4299" cy="2066" r="22.4" class="c37 a6"/><circle cx="5080" cy="2342" r="22.4" class="c31 a8"/><circle cx="5275" cy="2363" r="22.4" class="c34 a8"/><circle cx="5357" cy="2372" r="22.4" class="c31 a8"/><circle cx="4735" cy="2238" r="22.4" class="c40 a6"/><circle cx="3845" cy="2151" r="22.4" class="c29 a6"/><circle cx="3845" cy="2151" r="22.4" class="c29 a6"/><circle cx="3847" cy="2148" r="22.4" class="c29 a6"/><circle cx="3848" cy="2153" r="22.4" class="c29 a6"/><circle cx="3847" cy="2146" r="22.4" class="c29 a6"/><circle cx="3848" cy="2152" r="22.4" class="c29 a6"/><circle cx="3848" cy="2144" r="22.4" class="c29 a6"/><circle cx="3848" cy="2137" r="22.4" class="c29 a6"/><circle cx="3842" cy="2026" r="22.4" class="c28 a6"/><circle cx="3842" cy="2003" r="22.4" class="c28 a6"/><circle cx="3848" cy="2129" r="22.4" class="c29 a6"/><circle cx="3842" cy="2018" r="22.4" class="c28 a6"/><circle cx="3842" cy="1996" r="22.4" class="c28 a6"/><circle cx="3848" cy="2122" r="22.4" class="c29 a6"/><circle cx="3849" cy="2143" r="22.4" class="c29 a6"/><circle cx="3842" cy="2011" r="22.4" class="c28 a6"/><circle cx="3841" cy="1988" r="22.4" class="c28 a6"/><circle cx="3848" cy="2115" r="22.4" class="c29 a6"/><circle cx="3849" cy="2135" r="22.4" class="c29 a6"/><circle cx="3850" cy="2156" r="22.4" class="c29 a6"/><circle cx="3841" cy="2004" r="22.4" class="c28 a6"/><circle cx="3841" cy="1981" r="22.4" class="c28 a6"/><circle cx="3848" cy="2107" r="22.4" class="c29 a6"/><circle cx="3849" cy="2128" r="22.4" class="c29 a6"/><circle cx="3841" cy="1996" r="22.4" class="c28 a6"/><circle cx="3841" cy="1973" r="22.4" class="c28 a6"/><circle cx="3847" cy="2100" r="22.4" class="c29 a6"/><circle cx="3849" cy="2120" r="22.4" class="c29 a6"/><circle cx="3841" cy="1989" r="22.4" class="c28 a6"/><circle cx="3847" cy="2092" r="22.4" class="c29 a6"/><circle cx="3849" cy="2113" r="22.4" class="c29 a6"/><circle cx="3841" cy="1981" r="22.4" class="c28 a6"/><circle cx="3847" cy="2085" r="22.4" class="c28 a6"/><circle cx="3848" cy="2105" r="22.4" class="c29 a6"/><circle cx="3841" cy="1974" r="22.4" class="c28 a6"/><circle cx="3841" cy="1951" r="22.4" class="c28 a6"/><circle cx="3848" cy="2098" r="22.4" class="c29 a6"/><circle cx="3841" cy="1966" r="22.4" class="c28 a6"/><circle cx="3848" cy="2091" r="22.4" class="c28 a6"/><circle cx="3841" cy="1959" r="22.4" class="c28 a6"/><circle cx="3848" cy="2083" r="22.4" class="c28 a6"/><circle cx="3841" cy="1951" r="22.4" class="c28 a6"/><circle cx="3842" cy="1972" r="22.4" class="c28 a6"/><circle cx="3848" cy="2076" r="22.4" class="c28 a6"/><circle cx="3842" cy="1964" r="22.4" class="c28 a6"/><circle cx="3848" cy="2068" r="22.4" class="c28 a6"/><circle cx="3841" cy="1957" r="22.4" class="c28 a6"/><circle cx="3848" cy="2061" r="22.4" class="c28 a6"/><circle cx="3849" cy="2081" r="22.4" class="c28 a6"/><circle cx="3841" cy="1949" r="22.4" class="c28 a6"/><circle cx="3848" cy="2053" r="22.4" class="c28 a6"/><circle cx="3849" cy="2074" r="22.4" class="c28 a6"/><circle cx="3847" cy="2046" r="22.4" class="c28 a6"/><circle cx="3849" cy="2066" r="22.4" class="c28 a6"/><circle cx="3848" cy="2059" r="22.4" class="c28 a6"/><circle cx="3855" cy="2163" r="22.4" class="c29 a6"/><circle cx="3848" cy="2051" r="22.4" class="c28 a6"/><circle cx="3855" cy="2155" r="22.4" class="c29 a6"/><circle cx="3848" cy="2044" r="22.4" class="c28 a6"/><circle cx="3854" cy="2148" r="22.4" class="c29 a6"/><circle cx="3848" cy="2037" r="22.4" class="c28 a6"/><circle cx="3854" cy="2140" r="22.4" class="c29 a6"/><circle cx="3856" cy="2161" r="22.4" class="c29 a6"/><circle cx="3848" cy="2029" r="22.4" class="c28 a7"/><circle cx="3855" cy="2154" r="22.4" class="c29 a7"/><circle cx="3848" cy="2022" r="22.4" class="c28 a7"/><circle cx="3849" cy="2042" r="22.4" class="c28 a7"/><circle cx="3855" cy="2146" r="22.4" class="c29 a7"/><circle cx="3848" cy="2014" r="22.4" class="c28 a7"/><circle cx="3849" cy="2035" r="22.4" class="c28 a7"/><circle cx="3855" cy="2139" r="22.4" class="c29 a7"/><circle cx="3848" cy="2007" r="22.4" class="c28 a7"/><circle cx="3849" cy="2027" r="22.4" class="c28 a7"/><circle cx="3855" cy="2131" r="22.4" class="c29 a7"/><circle cx="3847" cy="1999" r="22.4" class="c28 a7"/><circle cx="3849" cy="2020" r="22.4" class="c28 a7"/><circle cx="3855" cy="2124" r="22.4" class="c28 a7"/><circle cx="3856" cy="2145" r="22.4" class="c29 a7"/><circle cx="3847" cy="1991" r="22.4" class="c28 a7"/><circle cx="3849" cy="2012" r="22.4" class="c28 a7"/><circle cx="3855" cy="2116" r="22.4" class="c28 a7"/><circle cx="3856" cy="2137" r="22.4" class="c29 a7"/><circle cx="3847" cy="1984" r="22.4" class="c28 a7"/><circle cx="3848" cy="2005" r="22.4" class="c28 a7"/><circle cx="3855" cy="2109" r="22.4" class="c28 a7"/><circle cx="3856" cy="2130" r="22.4" class="c28 a7"/><circle cx="3848" cy="1997" r="22.4" class="c28 a7"/><circle cx="3856" cy="2122" r="22.4" class="c28 a7"/><circle cx="3858" cy="2164" r="22.4" class="c29 a7"/><circle cx="3848" cy="1990" r="22.4" class="c28 a7"/><circle cx="3856" cy="2115" r="22.4" class="c28 a7"/><circle cx="3848" cy="1982" r="22.4" class="c28 a7"/><circle cx="3855" cy="2107" r="22.4" class="c28 a7"/><circle cx="3848" cy="1975" r="22.4" class="c28 a7"/><circle cx="3855" cy="2100" r="22.4" class="c28 a7"/><circle cx="3848" cy="1967" r="22.4" class="c28 a7"/><circle cx="3855" cy="2092" r="22.4" class="c28 a7"/><circle cx="3848" cy="1960" r="22.4" class="c28 a7"/><circle cx="3849" cy="1981" r="22.4" class="c28 a7"/><circle cx="3855" cy="2085" r="22.4" class="c28 a7"/><circle cx="3856" cy="2106" r="22.4" class="c28 a7"/><circle cx="3848" cy="1952" r="22.4" class="c28 a7"/><circle cx="3849" cy="1973" r="22.4" class="c28 a7"/><circle cx="3855" cy="2077" r="22.4" class="c28 a7"/><circle cx="3856" cy="2098" r="22.4" class="c28 a7"/><circle cx="3860" cy="2161" r="22.4" class="c29 a7"/><circle cx="3847" cy="1945" r="22.4" class="c28 a7"/><circle cx="3849" cy="1965" r="22.4" class="c28 a7"/><circle cx="3855" cy="2070" r="22.4" class="c28 a7"/><circle cx="3856" cy="2091" r="22.4" class="c28 a7"/><circle cx="3847" cy="1937" r="22.4" class="c28 a7"/><circle cx="3848" cy="1958" r="22.4" class="c28 a7"/><circle cx="3855" cy="2062" r="22.4" class="c28 a7"/><circle cx="3856" cy="2083" r="22.4" class="c28 a7"/><circle cx="3861" cy="2167" r="22.4" class="c29 a7"/><circle cx="3848" cy="1950" r="22.4" class="c28 a7"/><circle cx="3855" cy="2055" r="22.4" class="c28 a7"/><circle cx="3856" cy="2076" r="22.4" class="c28 a7"/><circle cx="3848" cy="1943" r="22.4" class="c28 a7"/><circle cx="3854" cy="2047" r="22.4" class="c28 a7"/><circle cx="3856" cy="2068" r="22.4" class="c28 a7"/><circle cx="3848" cy="1935" r="22.4" class="c28 a7"/><circle cx="3854" cy="2040" r="22.4" class="c28 a7"/><circle cx="3856" cy="2061" r="22.4" class="c28 a7"/><circle cx="3862" cy="2165" r="22.4" class="c29 a7"/><circle cx="3855" cy="2053" r="22.4" class="c28 a7"/><circle cx="3862" cy="2157" r="22.4" class="c28 a7"/><circle cx="3849" cy="1941" r="22.4" class="c28 a7"/><circle cx="3855" cy="2045" r="22.4" class="c28 a7"/><circle cx="3849" cy="1934" r="22.4" class="c28 a7"/><circle cx="3855" cy="2038" r="22.4" class="c28 a7"/><circle cx="3863" cy="2164" r="22.4" class="c29 a7"/><circle cx="3855" cy="2030" r="22.4" class="c28 a7"/><circle cx="3862" cy="2157" r="22.4" class="c28 a7"/><circle cx="3855" cy="2023" r="22.4" class="c28 a7"/><circle cx="3856" cy="2044" r="22.4" class="c28 a7"/><circle cx="3862" cy="2149" r="22.4" class="c28 a7"/><circle cx="3863" cy="2164" r="22.4" class="c29 a7"/><circle cx="3855" cy="2015" r="22.4" class="c28 a7"/><circle cx="3856" cy="2036" r="22.4" class="c28 a7"/><circle cx="3862" cy="2142" r="22.4" class="c28 a7"/><circle cx="3863" cy="2157" r="22.4" class="c28 a7"/><circle cx="3855" cy="2008" r="22.4" class="c28 a7"/><circle cx="3856" cy="2029" r="22.4" class="c28 a7"/><circle cx="3862" cy="2134" r="22.4" class="c28 a7"/><circle cx="3863" cy="2149" r="22.4" class="c28 a7"/><circle cx="3854" cy="2000" r="22.4" class="c28 a7"/><circle cx="3856" cy="2021" r="22.4" class="c28 a7"/><circle cx="3862" cy="2127" r="22.4" class="c28 a7"/><circle cx="3863" cy="2142" r="22.4" class="c28 a7"/><circle cx="3854" cy="1993" r="22.4" class="c28 a7"/><circle cx="3856" cy="2014" r="22.4" class="c28 a7"/><circle cx="3862" cy="2119" r="22.4" class="c28 a7"/><circle cx="3863" cy="2134" r="22.4" class="c28 a7"/><circle cx="3854" cy="1985" r="22.4" class="c28 a7"/><circle cx="3855" cy="2006" r="22.4" class="c28 a7"/><circle cx="3862" cy="2112" r="22.4" class="c28 a7"/><circle cx="3863" cy="2127" r="22.4" class="c28 a7"/><circle cx="3854" cy="1978" r="22.4" class="c28 a7"/><circle cx="3855" cy="1999" r="22.4" class="c28 a7"/><circle cx="3862" cy="2104" r="22.4" class="c28 a7"/><circle cx="3863" cy="2119" r="22.4" class="c28 a7"/><circle cx="3855" cy="1991" r="22.4" class="c28 a7"/><circle cx="3863" cy="2112" r="22.4" class="c28 a7"/><circle cx="3855" cy="1983" r="22.4" class="c28 a7"/><circle cx="3862" cy="2104" r="22.4" class="c28 a7"/><circle cx="3855" cy="1976" r="22.4" class="c28 a7"/><circle cx="3856" cy="1997" r="22.4" class="c28 a7"/><circle cx="3862" cy="2096" r="22.4" class="c28 a7"/><circle cx="3855" cy="1968" r="22.4" class="c28 a7"/><circle cx="3856" cy="1989" r="22.4" class="c28 a7"/><circle cx="3862" cy="2089" r="22.4" class="c28 a7"/><circle cx="3855" cy="1961" r="22.4" class="c28 a7"/><circle cx="3856" cy="1982" r="22.4" class="c28 a7"/><circle cx="3867" cy="2171" r="22.4" class="c29 a7"/><circle cx="3863" cy="2104" r="22.4" class="c28 a7"/><circle cx="3862" cy="2081" r="22.4" class="c28 a7"/><circle cx="3855" cy="1953" r="22.4" class="c28 a7"/><circle cx="3856" cy="1974" r="22.4" class="c28 a7"/><circle cx="3863" cy="2096" r="22.4" class="c28 a7"/><circle cx="3862" cy="2074" r="22.4" class="c28 a7"/><circle cx="3854" cy="1946" r="22.4" class="c28 a7"/><circle cx="3856" cy="1967" r="22.4" class="c28 a7"/><circle cx="3863" cy="2089" r="22.4" class="c28 a7"/><circle cx="3862" cy="2066" r="22.4" class="c28 a7"/><circle cx="3856" cy="1959" r="22.4" class="c28 a7"/><circle cx="3868" cy="2171" r="22.4" class="c29 a7"/><circle cx="3863" cy="2081" r="22.4" class="c28 a7"/><circle cx="3862" cy="2059" r="22.4" class="c28 a7"/><circle cx="3855" cy="1951" r="22.4" class="c28 a7"/><circle cx="3863" cy="2074" r="22.4" class="c28 a7"/><circle cx="3862" cy="2051" r="22.4" class="c28 a7"/><circle cx="3854" cy="1923" r="22.4" class="c28 a7"/><circle cx="3855" cy="1944" r="22.4" class="c28 a7"/><circle cx="3863" cy="2066" r="22.4" class="c28 a7"/><circle cx="3855" cy="1936" r="22.4" class="c28 a7"/><circle cx="3869" cy="2170" r="22.4" class="c29 a7"/><circle cx="3863" cy="2058" r="22.4" class="c28 a7"/><circle cx="3855" cy="1929" r="22.4" class="c28 a7"/><circle cx="3862" cy="2051" r="22.4" class="c28 a7"/><circle cx="3855" cy="1921" r="22.4" class="c28 a7"/><circle cx="3856" cy="1942" r="22.4" class="c28 a7"/><circle cx="3862" cy="2043" r="22.4" class="c28 a7"/><circle cx="3869" cy="2170" r="22.4" class="c28 a7"/><circle cx="3856" cy="1935" r="22.4" class="c28 a7"/><circle cx="3862" cy="2036" r="22.4" class="c28 a7"/><circle cx="3869" cy="2163" r="22.4" class="c28 a7"/><circle cx="3856" cy="1927" r="22.4" class="c28 a7"/><circle cx="3863" cy="2051" r="22.4" class="c28 a7"/><circle cx="3862" cy="2028" r="22.4" class="c28 a7"/><circle cx="3869" cy="2155" r="22.4" class="c28 a7"/><circle cx="3856" cy="1919" r="22.4" class="c28 a7"/><circle cx="3863" cy="2043" r="22.4" class="c28 a7"/><circle cx="3870" cy="2170" r="22.4" class="c28 a7"/><circle cx="3862" cy="2021" r="22.4" class="c28 a7"/><circle cx="3863" cy="2035" r="22.4" class="c28 a7"/><circle cx="3870" cy="2163" r="22.4" class="c28 a7"/><circle cx="3862" cy="2013" r="22.4" class="c28 a7"/><circle cx="3863" cy="2028" r="22.4" class="c28 a7"/><circle cx="3862" cy="2005" r="22.4" class="c28 a7"/><circle cx="3870" cy="2170" r="22.4" class="c28 a7"/><circle cx="3863" cy="2020" r="22.4" class="c28 a7"/><circle cx="3870" cy="2163" r="22.4" class="c28 a7"/><circle cx="3863" cy="2013" r="22.4" class="c28 a7"/><circle cx="3870" cy="2155" r="22.4" class="c28 a8"/><circle cx="3863" cy="2005" r="22.4" class="c28 a8"/><circle cx="3870" cy="2148" r="22.4" class="c28 a8"/><circle cx="3862" cy="1998" r="22.4" class="c28 a8"/><circle cx="3870" cy="2140" r="22.4" class="c28 a8"/><circle cx="3862" cy="1990" r="22.4" class="c27 a8"/><circle cx="3871" cy="2155" r="22.4" class="c28 a8"/><circle cx="3863" cy="2005" r="22.4" class="c27 a8"/><circle cx="3870" cy="2132" r="22.4" class="c28 a8"/><circle cx="3862" cy="1982" r="22.4" class="c27 a8"/><circle cx="3871" cy="2170" r="22.4" class="c28 a8"/><circle cx="3870" cy="2147" r="22.4" class="c28 a8"/><circle cx="3863" cy="1997" r="22.4" class="c27 a8"/><circle cx="3862" cy="1975" r="22.4" class="c27 a8"/><circle cx="3870" cy="2140" r="22.4" class="c28 a8"/><circle cx="3863" cy="1990" r="22.4" class="c27 a8"/><circle cx="3862" cy="1967" r="22.4" class="c27 a8"/><circle cx="3870" cy="2132" r="22.4" class="c28 a8"/><circle cx="3863" cy="1982" r="22.4" class="c27 a8"/><circle cx="3872" cy="2170" r="22.4" class="c28 a8"/><circle cx="3870" cy="2125" r="22.4" class="c28 a8"/><circle cx="3863" cy="1974" r="22.4" class="c27 a8"/><circle cx="3870" cy="2117" r="22.4" class="c28 a8"/><circle cx="3863" cy="1967" r="22.4" class="c27 a8"/><circle cx="3870" cy="2110" r="22.4" class="c28 a8"/><circle cx="3863" cy="1959" r="22.4" class="c27 a8"/><circle cx="3860" cy="1914" r="22.4" class="c27 a8"/><circle cx="3863" cy="1952" r="22.4" class="c27 a8"/><circle cx="3870" cy="2117" r="22.4" class="c28 a8"/><circle cx="3862" cy="1944" r="22.4" class="c27 a8"/><circle cx="3870" cy="2110" r="22.4" class="c28 a8"/><circle cx="3862" cy="1936" r="22.4" class="c27 a8"/><circle cx="3861" cy="1914" r="22.4" class="c27 a8"/><circle cx="3870" cy="2102" r="22.4" class="c28 a8"/><circle cx="3862" cy="1929" r="22.4" class="c27 a8"/><circle cx="3870" cy="2094" r="22.4" class="c28 a8"/><circle cx="3870" cy="2087" r="22.4" class="c28 a8"/><circle cx="3863" cy="1936" r="22.4" class="c27 a8"/><circle cx="3862" cy="1914" r="22.4" class="c27 a8"/><circle cx="3870" cy="2079" r="22.4" class="c27 a8"/><circle cx="3863" cy="1928" r="22.4" class="c27 a8"/><circle cx="3870" cy="2072" r="22.4" class="c27 a8"/><circle cx="3863" cy="1921" r="22.4" class="c27 a8"/><circle cx="3870" cy="2087" r="22.4" class="c27 a8"/><circle cx="3870" cy="2064" r="22.4" class="c27 a8"/><circle cx="3863" cy="1913" r="22.4" class="c27 a8"/><circle cx="3874" cy="2170" r="22.4" class="c28 a8"/><circle cx="3870" cy="2079" r="22.4" class="c27 a8"/><circle cx="3870" cy="2071" r="22.4" class="c27 a8"/><circle cx="3870" cy="2064" r="22.4" class="c27 a8"/><circle cx="3864" cy="1913" r="22.4" class="c27 a8"/><circle cx="3875" cy="2170" r="22.4" class="c28 a8"/><circle cx="3870" cy="2056" r="22.4" class="c27 a8"/><circle cx="3874" cy="2162" r="22.4" class="c28 a8"/><circle cx="3880" cy="2175" r="22.4" class="c28 a8"/><circle cx="3870" cy="2049" r="22.4" class="c27 a8"/><circle cx="3874" cy="2154" r="22.4" class="c28 a8"/><circle cx="3880" cy="2168" r="22.4" class="c28 a8"/><circle cx="3871" cy="2064" r="22.4" class="c27 a8"/><circle cx="3864" cy="1913" r="22.4" class="c26 a8"/><circle cx="3870" cy="2041" r="22.4" class="c27 a8"/><circle cx="3887" cy="2180" r="22.4" class="c28 a8"/><circle cx="3874" cy="2147" r="22.4" class="c28 a8"/><circle cx="3879" cy="2160" r="22.4" class="c28 a8"/><circle cx="3870" cy="2056" r="22.4" class="c27 a8"/><circle cx="3887" cy="2173" r="22.4" class="c28 a8"/><circle cx="3874" cy="2139" r="22.4" class="c28 a8"/><circle cx="3879" cy="2153" r="22.4" class="c28 a8"/><circle cx="3870" cy="2049" r="22.4" class="c27 a8"/><circle cx="3894" cy="2182" r="22.4" class="c28 a8"/><circle cx="3887" cy="2165" r="22.4" class="c28 a8"/><circle cx="3874" cy="2132" r="22.4" class="c28 a8"/><circle cx="3879" cy="2145" r="22.4" class="c27 a8"/><circle cx="3870" cy="2041" r="22.4" class="c27 a8"/><circle cx="3894" cy="2175" r="22.4" class="c28 a8"/><circle cx="3887" cy="2158" r="22.4" class="c27 a8"/><circle cx="3874" cy="2124" r="22.4" class="c27 a8"/><circle cx="3902" cy="2186" r="22.4" class="c28 a8"/><circle cx="3879" cy="2137" r="22.4" class="c27 a8"/><circle cx="3870" cy="2033" r="22.4" class="c27 a8"/><circle cx="3894" cy="2167" r="22.4" class="c27 a8"/><circle cx="3886" cy="2150" r="22.4" class="c27 a8"/><circle cx="3874" cy="2116" r="22.4" class="c27 a8"/><circle cx="3901" cy="2178" r="22.4" class="c27 a8"/><circle cx="3879" cy="2130" r="22.4" class="c27 a8"/><circle cx="3870" cy="2026" r="22.4" class="c27 a8"/><circle cx="3894" cy="2159" r="22.4" class="c27 a8"/><circle cx="3909" cy="2190" r="22.4" class="c28 a8"/><circle cx="3886" cy="2142" r="22.4" class="c27 a8"/><circle cx="3874" cy="2109" r="22.4" class="c27 a8"/><circle cx="3901" cy="2171" r="22.4" class="c27 a8"/><circle cx="3879" cy="2122" r="22.4" class="c27 a8"/><circle cx="3870" cy="2018" r="22.4" class="c27 a8"/><circle cx="3894" cy="2152" r="22.4" class="c27 a8"/><circle cx="3909" cy="2182" r="22.4" class="c27 a8"/><circle cx="3886" cy="2135" r="22.4" class="c27 a8"/><circle cx="3873" cy="2101" r="22.4" class="c27 a8"/><circle cx="3901" cy="2163" r="22.4" class="c27 a8"/><circle cx="3871" cy="2033" r="22.4" class="c27 a8"/><circle cx="3916" cy="2193" r="22.4" class="c28 a8"/><circle cx="3879" cy="2115" r="22.4" class="c27 a8"/><circle cx="3870" cy="2010" r="22.4" class="c27 a8"/><circle cx="3894" cy="2144" r="22.4" class="c27 a8"/><circle cx="3909" cy="2174" r="22.4" class="c27 a8"/><circle cx="3886" cy="2127" r="22.4" class="c27 a8"/><circle cx="3873" cy="2094" r="22.4" class="c27 a8"/><circle cx="3901" cy="2156" r="22.4" class="c27 a8"/><circle cx="3871" cy="2026" r="22.4" class="c27 a8"/><circle cx="3916" cy="2186" r="22.4" class="c27 a8"/><circle cx="3879" cy="2107" r="22.4" class="c27 a8"/><circle cx="3870" cy="2003" r="22.4" class="c26 a8"/><circle cx="3893" cy="2137" r="22.4" class="c27 a8"/><circle cx="3908" cy="2167" r="22.4" class="c27 a8"/><circle cx="3886" cy="2120" r="22.4" class="c27 a8"/><circle cx="3873" cy="2086" r="22.4" class="c27 a8"/><circle cx="3923" cy="2197" r="22.4" class="c27 a8"/><circle cx="3901" cy="2148" r="22.4" class="c27 a8"/><circle cx="3870" cy="2018" r="22.4" class="c26 a8"/><circle cx="3916" cy="2178" r="22.4" class="c27 a8"/><circle cx="3878" cy="2099" r="22.4" class="c27 a8"/><circle cx="3893" cy="2129" r="22.4" class="c27 a8"/><circle cx="3908" cy="2159" r="22.4" class="c27 a8"/><circle cx="3886" cy="2112" r="22.4" class="c27 a8"/><circle cx="3873" cy="2078" r="22.4" class="c27 a8"/><circle cx="3923" cy="2190" r="22.4" class="c27 a8"/><circle cx="3901" cy="2140" r="22.4" class="c26 a8"/><circle cx="3870" cy="2010" r="22.4" class="c26 a8"/><circle cx="3916" cy="2171" r="22.4" class="c27 a8"/><circle cx="3878" cy="2092" r="22.4" class="c27 a8"/><circle cx="3931" cy="2201" r="22.4" class="c27 a8"/><circle cx="3893" cy="2121" r="22.4" class="c26 a8"/><circle cx="3908" cy="2152" r="22.4" class="c26 a8"/><circle cx="3886" cy="2104" r="22.4" class="c26 a8"/><circle cx="3873" cy="2071" r="22.4" class="c27 a8"/><circle cx="3923" cy="2182" r="22.4" class="c27 a8"/><circle cx="3901" cy="2133" r="22.4" class="c26 a8"/><circle cx="3870" cy="2003" r="22.4" class="c26 a8"/><circle cx="3916" cy="2163" r="22.4" class="c26 a8"/><circle cx="3878" cy="2084" r="22.4" class="c27 a8"/><circle cx="3931" cy="2193" r="22.4" class="c27 a8"/><circle cx="3893" cy="2114" r="22.4" class="c26 a8"/><circle cx="3938" cy="2207" r="22.4" class="c27 a8"/><circle cx="3908" cy="2144" r="22.4" class="c26 a8"/><circle cx="3886" cy="2097" r="22.4" class="c26 a8"/><circle cx="3873" cy="2063" r="22.4" class="c27 a8"/><circle cx="3923" cy="2174" r="22.4" class="c26 a8"/><circle cx="3901" cy="2125" r="22.4" class="c26 a8"/><circle cx="3870" cy="1995" r="22.4" class="c26 a8"/><circle cx="3916" cy="2155" r="22.4" class="c26 a8"/><circle cx="3878" cy="2077" r="22.4" class="c26 a8"/><circle cx="3930" cy="2186" r="22.4" class="c27 a8"/><circle cx="3893" cy="2106" r="22.4" class="c26 a8"/><circle cx="3938" cy="2200" r="22.4" class="c27 a8"/><circle cx="3908" cy="2136" r="22.4" class="c26 a8"/><circle cx="3945" cy="2215" r="22.4" class="c28 a8"/><circle cx="3885" cy="2089" r="22.4" class="c26 a8"/><circle cx="3873" cy="2056" r="22.4" class="c27 a8"/><circle cx="3923" cy="2167" r="22.4" class="c26 a8"/><circle cx="3900" cy="2118" r="22.4" class="c26 a8"/><circle cx="3870" cy="1987" r="22.4" class="c26 a8"/><circle cx="3915" cy="2148" r="22.4" class="c26 a8"/><circle cx="3878" cy="2069" r="22.4" class="c26 a8"/><circle cx="3930" cy="2178" r="22.4" class="c26 a8"/><circle cx="3893" cy="2099" r="22.4" class="c26 a8"/><circle cx="3938" cy="2192" r="22.4" class="c27 a8"/><circle cx="3908" cy="2129" r="22.4" class="c26 a8"/><circle cx="3945" cy="2207" r="22.4" class="c27 a8"/><circle cx="3885" cy="2082" r="22.4" class="c26 a8"/><circle cx="3872" cy="2048" r="22.4" class="c27 a8"/><circle cx="3923" cy="2159" r="22.4" class="c26 a8"/><circle cx="3900" cy="2110" r="22.4" class="c26 a8"/><circle cx="3915" cy="2140" r="22.4" class="c26 a8"/><circle cx="3878" cy="2061" r="22.4" class="c26 a8"/><circle cx="3930" cy="2170" r="22.4" class="c26 a8"/><circle cx="3893" cy="2091" r="22.4" class="c26 a8"/><circle cx="3938" cy="2185" r="22.4" class="c26 a8"/><circle cx="3908" cy="2121" r="22.4" class="c25 a8"/><circle cx="3945" cy="2200" r="22.4" class="c27 a8"/><circle cx="3885" cy="2074" r="22.4" class="c26 a8"/><circle cx="3872" cy="2040" r="22.4" class="c26 a8"/><circle cx="3953" cy="2214" r="22.4" class="c27 a8"/><circle cx="3923" cy="2151" r="22.4" class="c26 a8"/><circle cx="3900" cy="2102" r="22.4" class="c25 a8"/><circle cx="3915" cy="2133" r="22.4" class="c25 a8"/><circle cx="3878" cy="2054" r="22.4" class="c26 a8"/><circle cx="3930" cy="2163" r="22.4" class="c26 a8"/><circle cx="3893" cy="2083" r="22.4" class="c25 a8"/><circle cx="3938" cy="2177" r="22.4" class="c26 a8"/><circle cx="3908" cy="2114" r="22.4" class="c25 a8"/><circle cx="3945" cy="2192" r="22.4" class="c26 a8"/><circle cx="3885" cy="2066" r="22.4" class="c26 a8"/><circle cx="3872" cy="2033" r="22.4" class="c26 a8"/><circle cx="3953" cy="2207" r="22.4" class="c27 a8"/><circle cx="3923" cy="2144" r="22.4" class="c25 a8"/><circle cx="3960" cy="2222" r="22.4" class="c27 a8"/><circle cx="3870" cy="1987" r="22.4" class="c26 a8"/><circle cx="3900" cy="2095" r="22.4" class="c25 a8"/><circle cx="3915" cy="2125" r="22.4" class="c25 a8"/><circle cx="3878" cy="2046" r="22.4" class="c26 a8"/><circle cx="3930" cy="2155" r="22.4" class="c25 a8"/><circle cx="3893" cy="2076" r="22.4" class="c25 a8"/><circle cx="3937" cy="2169" r="22.4" class="c26 a8"/><circle cx="3907" cy="2106" r="22.4" class="c25 a8"/><circle cx="3945" cy="2184" r="22.4" class="c26 a8"/><circle cx="3885" cy="2059" r="22.4" class="c26 a8"/><circle cx="3952" cy="2199" r="22.4" class="c26 a8"/><circle cx="3922" cy="2136" r="22.4" class="c25 a8"/><circle cx="3960" cy="2214" r="22.4" class="c27 a8"/><circle cx="3870" cy="1979" r="22.4" class="c26 a8"/><circle cx="3900" cy="2087" r="22.4" class="c25 a8"/><circle cx="3915" cy="2117" r="22.4" class="c25 a8"/><circle cx="3877" cy="2038" r="22.4" class="c26 a8"/><circle cx="3930" cy="2148" r="22.4" class="c25 a8"/><circle cx="3892" cy="2068" r="22.4" class="c25 a8"/><circle cx="3937" cy="2162" r="22.4" class="c25 a8"/><circle cx="3907" cy="2098" r="22.4" class="c25 a8"/><circle cx="3945" cy="2177" r="22.4" class="c25 a8"/><circle cx="3885" cy="2051" r="22.4" class="c25 a8"/><circle cx="3952" cy="2192" r="22.4" class="c26 a8"/><circle cx="3922" cy="2129" r="22.4" class="c25 a8"/><circle cx="3960" cy="2207" r="22.4" class="c26 a8"/><circle cx="3967" cy="2222" r="22.4" class="c27 a8"/><circle cx="3870" cy="1972" r="22.4" class="c26 a8"/><circle cx="3900" cy="2079" r="22.4" class="c25 a8"/><circle cx="3915" cy="2110" r="22.4" class="c24 a8"/><circle cx="3877" cy="2031" r="22.4" class="c26 a8"/><circle cx="3930" cy="2140" r="22.4" class="c25 a8"/><circle cx="3892" cy="2060" r="22.4" class="c25 a8"/><circle cx="3937" cy="2154" r="22.4" class="c25 a8"/><circle cx="3907" cy="2091" r="22.4" class="c24 a8"/><circle cx="3945" cy="2169" r="22.4" class="c25 a8"/><circle cx="3885" cy="2043" r="22.4" class="c25 a8"/><circle cx="3952" cy="2184" r="22.4" class="c25 a8"/><circle cx="3922" cy="2121" r="22.4" class="c24 a8"/><circle cx="3960" cy="2199" r="22.4" class="c26 a8"/><circle cx="3967" cy="2214" r="22.4" class="c27 a8"/><circle cx="3870" cy="1964" r="22.4" class="c26 a8"/><circle cx="3975" cy="2229" r="22.4" class="c27 a8"/><circle cx="3900" cy="2072" r="22.4" class="c25 a8"/><circle cx="3915" cy="2102" r="22.4" class="c24 a8"/><circle cx="3877" cy="2023" r="22.4" class="c26 a8"/><circle cx="3930" cy="2132" r="22.4" class="c24 a8"/><circle cx="3892" cy="2053" r="22.4" class="c25 a8"/><circle cx="3937" cy="2147" r="22.4" class="c24 a8"/><circle cx="3907" cy="2083" r="22.4" class="c24 a8"/><circle cx="3945" cy="2161" r="22.4" class="c25 a8"/><circle cx="3885" cy="2036" r="22.4" class="c25 a8"/><circle cx="3952" cy="2176" r="22.4" class="c25 a8"/><circle cx="3922" cy="2113" r="22.4" class="c24 a8"/><circle cx="3960" cy="2191" r="22.4" class="c25 a8"/><circle cx="3967" cy="2206" r="22.4" class="c26 a8"/><circle cx="3870" cy="1957" r="22.4" class="c26 a8"/><circle cx="3975" cy="2221" r="22.4" class="c27 a8"/><circle cx="3900" cy="2064" r="22.4" class="c24 a8"/><circle cx="3915" cy="2094" r="22.4" class="c24 a8"/><circle cx="3982" cy="2235" r="22.4" class="c27 a8"/><circle cx="3877" cy="2016" r="22.4" class="c26 a8"/><circle cx="3930" cy="2125" r="22.4" class="c24 a8"/><circle cx="3892" cy="2045" r="22.4" class="c25 a8"/><circle cx="3937" cy="2139" r="22.4" class="c24 a8"/><circle cx="3907" cy="2075" r="22.4" class="c24 a8"/><circle cx="3945" cy="2154" r="22.4" class="c24 a8"/><circle cx="3884" cy="2028" r="22.4" class="c25 a8"/><circle cx="3952" cy="2169" r="22.4" class="c25 a8"/><circle cx="3922" cy="2106" r="22.4" class="c24 a8"/><circle cx="3960" cy="2184" r="22.4" class="c25 a8"/><circle cx="3967" cy="2199" r="22.4" class="c26 a8"/><circle cx="3870" cy="1949" r="22.4" class="c26 a8"/><circle cx="3975" cy="2214" r="22.4" class="c26 a8"/><circle cx="3899" cy="2057" r="22.4" class="c24 a8"/><circle cx="3914" cy="2087" r="22.4" class="c24 a8"/><circle cx="3982" cy="2228" r="22.4" class="c27 a8"/><circle cx="3877" cy="2008" r="22.4" class="c25 a8"/><circle cx="3929" cy="2117" r="22.4" class="c24 a8"/><circle cx="3892" cy="2038" r="22.4" class="c24 a8"/><circle cx="3937" cy="2131" r="22.4" class="c24 a8"/><circle cx="3907" cy="2068" r="22.4" class="c24 a8"/><circle cx="3944" cy="2146" r="22.4" class="c24 a8"/><circle cx="3884" cy="2020" r="22.4" class="c25 a8"/><circle cx="3952" cy="2161" r="22.4" class="c24 a8"/><circle cx="3922" cy="2098" r="22.4" class="c23 a8"/><circle cx="3959" cy="2176" r="22.4" class="c25 a8"/><circle cx="3871" cy="1964" r="22.4" class="c26 a8"/><circle cx="3967" cy="2191" r="22.4" class="c25 a8"/><circle cx="3870" cy="1941" r="22.4" class="c26 a8"/><circle cx="3974" cy="2206" r="22.4" class="c26 a8"/><circle cx="3899" cy="2049" r="22.4" class="c24 a8"/><circle cx="3914" cy="2079" r="22.4" class="c23 a8"/><circle cx="3982" cy="2220" r="22.4" class="c26 a8"/><circle cx="3877" cy="2000" r="22.4" class="c25 a8"/><circle cx="3929" cy="2109" r="22.4" class="c23 a8"/><circle cx="3989" cy="2234" r="22.4" class="c27 a8"/><circle cx="3892" cy="2030" r="22.4" class="c24 a8"/><circle cx="3937" cy="2124" r="22.4" class="c23 a8"/><circle cx="3907" cy="2060" r="22.4" class="c23 a8"/><circle cx="3944" cy="2139" r="22.4" class="c23 a8"/><circle cx="3884" cy="2013" r="22.4" class="c25 a8"/><circle cx="3952" cy="2154" r="22.4" class="c24 a8"/><circle cx="3922" cy="2090" r="22.4" class="c23 a8"/><circle cx="3959" cy="2169" r="22.4" class="c24 a8"/><circle cx="3870" cy="1956" r="22.4" class="c26 a8"/><circle cx="3967" cy="2183" r="22.4" class="c25 a8"/><circle cx="3974" cy="2198" r="22.4" class="c25 a8"/><circle cx="3899" cy="2041" r="22.4" class="c24 a8"/><circle cx="3914" cy="2072" r="22.4" class="c23 a8"/><circle cx="3982" cy="2213" r="22.4" class="c26 a8"/><circle cx="3877" cy="1993" r="22.4" class="c25 a8"/><circle cx="3929" cy="2102" r="22.4" class="c23 a8"/><circle cx="3989" cy="2227" r="22.4" class="c26 a8"/><circle cx="3892" cy="2022" r="22.4" class="c24 a8"/><circle cx="3937" cy="2116" r="22.4" class="c23 a8"/><circle cx="3907" cy="2053" r="22.4" class="c23 a8"/><circle cx="3944" cy="2131" r="22.4" class="c23 a8"/><circle cx="3997" cy="2241" r="22.4" class="c27 a8"/><circle cx="3884" cy="2005" r="22.4" class="c25 a8"/><circle cx="3952" cy="2146" r="22.4" class="c23 a8"/><circle cx="3922" cy="2083" r="22.4" class="c23 a8"/><circle cx="3959" cy="2161" r="22.4" class="c24 a8"/><circle cx="3870" cy="1949" r="22.4" class="c25 a8"/><circle cx="3967" cy="2176" r="22.4" class="c24 a8"/><circle cx="3974" cy="2191" r="22.4" class="c25 a8"/><circle cx="3899" cy="2034" r="22.4" class="c23 a8"/><circle cx="3914" cy="2064" r="22.4" class="c23 a8"/><circle cx="3982" cy="2205" r="22.4" class="c25 a8"/><circle cx="3877" cy="1985" r="22.4" class="c25 a8"/><circle cx="3929" cy="2094" r="22.4" class="c23 a8"/><circle cx="3989" cy="2219" r="22.4" class="c26 a8"/><circle cx="3892" cy="2015" r="22.4" class="c24 a8"/><circle cx="3937" cy="2108" r="22.4" class="c23 a8"/><circle cx="3907" cy="2045" r="22.4" class="c23 a8"/><circle cx="3944" cy="2123" r="22.4" class="c23 a8"/><circle cx="3997" cy="2233" r="22.4" class="c26 a8"/><circle cx="3884" cy="1998" r="22.4" class="c24 a8"/><circle cx="3952" cy="2138" r="22.4" class="c23 a8"/><circle cx="3922" cy="2075" r="22.4" class="c22 a8"/><circle cx="3959" cy="2153" r="22.4" class="c23 a8"/><circle cx="4004" cy="2247" r="22.4" class="c27 a8"/><circle cx="3870" cy="1941" r="22.4" class="c25 a8"/><circle cx="3967" cy="2168" r="22.4" class="c24 a8"/><circle cx="3974" cy="2183" r="22.4" class="c24 a8"/><circle cx="3899" cy="2026" r="22.4" class="c23 a8"/><circle cx="3914" cy="2056" r="22.4" class="c23 a8"/><circle cx="3982" cy="2197" r="22.4" class="c25 a8"/><circle cx="3876" cy="1977" r="22.4" class="c25 a8"/><circle cx="3929" cy="2087" r="22.4" class="c22 a8"/><circle cx="3989" cy="2211" r="22.4" class="c25 a8"/><circle cx="3891" cy="2007" r="22.4" class="c24 a8"/><circle cx="3936" cy="2101" r="22.4" class="c22 a8"/><circle cx="3906" cy="2037" r="22.4" class="c23 a8"/><circle cx="3944" cy="2116" r="22.4" class="c22 a8"/><circle cx="3997" cy="2226" r="22.4" class="c26 a8"/><circle cx="3884" cy="1990" r="22.4" class="c24 a8"/><circle cx="3951" cy="2131" r="22.4" class="c22 a8"/><circle cx="3921" cy="2068" r="22.4" class="c22 a8"/><circle cx="3959" cy="2146" r="22.4" class="c23 a8"/><circle cx="4004" cy="2240" r="22.4" class="c27 a8"/><circle cx="3870" cy="1933" r="22.4" class="c25 a8"/><circle cx="3966" cy="2161" r="22.4" class="c23 a8"/><circle cx="3869" cy="1910" r="22.4" class="c25 a8"/><circle cx="3974" cy="2176" r="22.4" class="c23 a8"/><circle cx="3899" cy="2018" r="22.4" class="c23 a8"/><circle cx="3914" cy="2049" r="22.4" class="c22 a8"/><circle cx="3981" cy="2190" r="22.4" class="c24 a8"/><circle cx="3876" cy="1970" r="22.4" class="c25 a8"/><circle cx="3929" cy="2079" r="22.4" class="c22 a8"/><circle cx="3989" cy="2204" r="22.4" class="c25 a8"/><circle cx="3891" cy="1999" r="22.4" class="c23 a8"/><circle cx="3936" cy="2093" r="22.4" class="c22 a8"/><circle cx="3906" cy="2030" r="22.4" class="c22 a8"/><circle cx="3944" cy="2108" r="22.4" class="c22 a9"/><circle cx="3996" cy="2218" r="22.4" class="c25 a9"/><circle cx="3884" cy="1982" r="22.4" class="c24 a9"/><circle cx="3951" cy="2123" r="22.4" class="c22 a9"/><circle cx="3921" cy="2060" r="22.4" class="c22 a9"/><circle cx="3959" cy="2138" r="22.4" class="c22 a9"/><circle cx="4004" cy="2232" r="22.4" class="c26 a9"/><circle cx="3870" cy="1926" r="22.4" class="c25 a9"/><circle cx="3966" cy="2153" r="22.4" class="c23 a9"/><circle cx="3974" cy="2168" r="22.4" class="c23 a9"/><circle cx="3899" cy="2011" r="22.4" class="c23 a9"/><circle cx="4011" cy="2246" r="22.4" class="c27 a9"/><circle cx="3914" cy="2041" r="22.4" class="c22 a9"/><circle cx="3981" cy="2182" r="22.4" class="c23 a9"/><circle cx="3876" cy="1962" r="22.4" class="c25 a9"/><circle cx="3929" cy="2071" r="22.4" class="c22 a9"/><circle cx="3989" cy="2196" r="22.4" class="c24 a9"/><circle cx="3891" cy="1992" r="22.4" class="c23 a9"/><circle cx="3936" cy="2085" r="22.4" class="c21 a9"/><circle cx="3906" cy="2022" r="22.4" class="c22 a9"/><circle cx="3944" cy="2100" r="22.4" class="c21 a9"/><circle cx="3996" cy="2210" r="22.4" class="c25 a9"/><circle cx="3884" cy="1975" r="22.4" class="c24 a9"/><circle cx="3871" cy="1941" r="22.4" class="c25 a9"/><circle cx="3951" cy="2115" r="22.4" class="c22 a9"/><circle cx="3921" cy="2052" r="22.4" class="c22 a9"/><circle cx="3959" cy="2130" r="22.4" class="c22 a9"/><circle cx="4004" cy="2224" r="22.4" class="c25 a9"/><circle cx="3870" cy="1918" r="22.4" class="c25 a9"/><circle cx="3966" cy="2145" r="22.4" class="c22 a9"/><circle cx="3974" cy="2160" r="22.4" class="c22 a9"/><circle cx="3899" cy="2003" r="22.4" class="c23 a9"/><circle cx="4011" cy="2238" r="22.4" class="c26 a9"/><circle cx="3914" cy="2033" r="22.4" class="c22 a9"/><circle cx="3981" cy="2174" r="22.4" class="c23 a9"/><circle cx="3876" cy="1954" r="22.4" class="c25 a9"/><circle cx="4019" cy="2253" r="22.4" class="c27 a9"/><circle cx="3929" cy="2064" r="22.4" class="c21 a9"/><circle cx="3989" cy="2189" r="22.4" class="c23 a9"/><circle cx="3891" cy="1984" r="22.4" class="c23 a9"/><circle cx="3936" cy="2078" r="22.4" class="c21 a9"/><circle cx="3906" cy="2014" r="22.4" class="c22 a9"/><circle cx="3944" cy="2093" r="22.4" class="c21 a9"/><circle cx="3996" cy="2203" r="22.4" class="c24 a9"/><circle cx="3883" cy="1967" r="22.4" class="c24 a9"/><circle cx="3871" cy="1933" r="22.4" class="c25 a9"/><circle cx="3951" cy="2108" r="22.4" class="c21 a9"/><circle cx="3921" cy="2045" r="22.4" class="c21 a9"/><circle cx="3959" cy="2123" r="22.4" class="c21 a9"/><circle cx="4004" cy="2217" r="22.4" class="c25 a9"/><circle cx="3870" cy="1910" r="22.4" class="c25 a9"/><circle cx="3966" cy="2138" r="22.4" class="c21 a9"/><circle cx="3974" cy="2153" r="22.4" class="c22 a9"/><circle cx="3898" cy="1995" r="22.4" class="c22 a9"/><circle cx="4011" cy="2231" r="22.4" class="c25 a9"/><circle cx="3913" cy="2026" r="22.4" class="c21 a9"/><circle cx="3981" cy="2167" r="22.4" class="c22 a9"/><circle cx="3876" cy="1947" r="22.4" class="c24 a9"/><circle cx="4019" cy="2245" r="22.4" class="c26 a9"/><circle cx="3929" cy="2056" r="22.4" class="c21 a9"/><circle cx="3989" cy="2181" r="22.4" class="c23 a9"/><circle cx="3891" cy="1976" r="22.4" class="c23 a9"/><circle cx="4026" cy="2259" r="22.4" class="c27 a9"/><circle cx="3936" cy="2070" r="22.4" class="c21 a9"/><circle cx="3906" cy="2007" r="22.4" class="c22 a9"/><circle cx="3944" cy="2085" r="22.4" class="c21 a9"/><circle cx="3996" cy="2195" r="22.4" class="c23 a9"/><circle cx="3883" cy="1959" r="22.4" class="c24 a9"/><circle cx="3870" cy="1925" r="22.4" class="c25 a9"/><circle cx="3951" cy="2100" r="22.4" class="c21 a9"/><circle cx="3921" cy="2037" r="22.4" class="c21 a9"/><circle cx="3959" cy="2115" r="22.4" class="c21 a9"/><circle cx="4004" cy="2209" r="22.4" class="c24 a9"/><circle cx="3966" cy="2130" r="22.4" class="c21 a9"/><circle cx="3974" cy="2145" r="22.4" class="c21 a9"/><circle cx="3898" cy="1988" r="22.4" class="c22 a9"/><circle cx="4011" cy="2223" r="22.4" class="c25 a9"/><circle cx="3913" cy="2018" r="22.4" class="c21 a9"/><circle cx="3981" cy="2159" r="22.4" class="c22 a9"/><circle cx="3876" cy="1939" r="22.4" class="c24 a9"/><circle cx="4019" cy="2237" r="22.4" class="c25 a9"/><circle cx="3928" cy="2048" r="22.4" class="c21 a9"/><circle cx="3989" cy="2173" r="22.4" class="c22 a9"/><circle cx="3891" cy="1969" r="22.4" class="c23 a9"/><circle cx="4026" cy="2251" r="22.4" class="c26 a9"/><circle cx="3936" cy="2062" r="22.4" class="c20 a9"/><circle cx="3906" cy="1999" r="22.4" class="c21 a9"/><circle cx="3943" cy="2077" r="22.4" class="c20 a9"/><circle cx="3996" cy="2187" r="22.4" class="c23 a9"/><circle cx="3883" cy="1952" r="22.4" class="c23 a9"/><circle cx="3870" cy="1918" r="22.4" class="c25 a9"/><circle cx="3951" cy="2092" r="22.4" class="c20 a9"/><circle cx="3921" cy="2029" r="22.4" class="c21 a9"/><circle cx="3958" cy="2107" r="22.4" class="c20 a9"/><circle cx="4004" cy="2201" r="22.4" class="c23 a9"/><circle cx="3966" cy="2122" r="22.4" class="c20 a9"/><circle cx="3973" cy="2137" r="22.4" class="c21 a9"/><circle cx="3898" cy="1980" r="22.4" class="c22 a9"/><circle cx="4011" cy="2216" r="22.4" class="c24 a9"/><circle cx="3913" cy="2010" r="22.4" class="c21 a9"/><circle cx="3981" cy="2152" r="22.4" class="c21 a9"/><circle cx="3876" cy="1931" r="22.4" class="c24 a9"/><circle cx="4019" cy="2230" r="22.4" class="c25 a9"/><circle cx="3928" cy="2041" r="22.4" class="c20 a9"/><circle cx="3988" cy="2166" r="22.4" class="c22 a9"/><circle cx="3891" cy="1961" r="22.4" class="c23 a9"/><circle cx="4026" cy="2244" r="22.4" class="c26 a9"/><circle cx="3936" cy="2055" r="22.4" class="c20 a9"/><circle cx="3906" cy="1991" r="22.4" class="c21 a9"/><circle cx="3943" cy="2070" r="22.4" class="c20 a9"/><circle cx="3996" cy="2180" r="22.4" class="c22 a9"/><circle cx="3883" cy="1944" r="22.4" class="c23 a9"/><circle cx="3870" cy="1910" r="22.4" class="c25 a9"/><circle cx="3951" cy="2085" r="22.4" class="c20 a9"/><circle cx="4034" cy="2258" r="22.4" class="c27 a9"/><circle cx="3921" cy="2022" r="22.4" class="c20 a9"/><circle cx="3958" cy="2100" r="22.4" class="c20 a9"/><circle cx="4003" cy="2194" r="22.4" class="c23 a9"/><circle cx="3966" cy="2115" r="22.4" class="c20 a9"/><circle cx="3973" cy="2130" r="22.4" class="c20 a9"/><circle cx="3898" cy="1972" r="22.4" class="c22 a9"/><circle cx="4011" cy="2208" r="22.4" class="c23 a9"/><circle cx="3913" cy="2003" r="22.4" class="c21 a9"/><circle cx="3981" cy="2144" r="22.4" class="c21 a9"/><circle cx="3875" cy="1923" r="22.4" class="c24 a9"/><circle cx="4018" cy="2222" r="22.4" class="c24 a9"/><circle cx="3928" cy="2033" r="22.4" class="c20 a9"/><circle cx="3988" cy="2158" r="22.4" class="c21 a9"/><circle cx="3891" cy="1953" r="22.4" class="c22 a9"/><circle cx="4026" cy="2236" r="22.4" class="c25 a9"/><circle cx="3936" cy="2047" r="22.4" class="c20 a9"/><circle cx="3906" cy="1984" r="22.4" class="c21 a9"/><circle cx="3943" cy="2062" r="22.4" class="c19 a9"/><circle cx="3996" cy="2172" r="22.4" class="c21 a9"/><circle cx="3883" cy="1936" r="22.4" class="c23 a9"/><circle cx="3951" cy="2077" r="22.4" class="c19 a9"/><circle cx="4033" cy="2250" r="22.4" class="c26 a9"/><circle cx="3921" cy="2014" r="22.4" class="c20 a9"/><circle cx="3958" cy="2092" r="22.4" class="c19 a9"/><circle cx="4003" cy="2186" r="22.4" class="c22 a9"/><circle cx="3966" cy="2107" r="22.4" class="c19 a9"/><circle cx="3973" cy="2122" r="22.4" class="c20 a9"/><circle cx="3898" cy="1965" r="22.4" class="c22 a9"/><circle cx="4011" cy="2200" r="22.4" class="c23 a9"/><circle cx="3913" cy="1995" r="22.4" class="c20 a9"/><circle cx="3981" cy="2136" r="22.4" class="c20 a9"/><circle cx="3875" cy="1916" r="22.4" class="c24 a9"/><circle cx="4018" cy="2214" r="22.4" class="c23 a9"/><circle cx="3928" cy="2025" r="22.4" class="c19 a9"/><circle cx="3988" cy="2150" r="22.4" class="c20 a9"/><circle cx="3890" cy="1946" r="22.4" class="c22 a9"/><circle cx="4026" cy="2229" r="22.4" class="c24 a9"/><circle cx="4041" cy="2260" r="22.4" class="c27 a9"/><circle cx="3936" cy="2040" r="22.4" class="c19 a9"/><circle cx="3905" cy="1976" r="22.4" class="c21 a9"/><circle cx="3943" cy="2055" r="22.4" class="c19 a9"/><circle cx="3996" cy="2164" r="22.4" class="c21 a9"/><circle cx="3883" cy="1928" r="22.4" class="c23 a9"/><circle cx="3951" cy="2069" r="22.4" class="c19 a9"/><circle cx="4033" cy="2242" r="22.4" class="c25 a9"/><circle cx="3920" cy="2006" r="22.4" class="c20 a9"/><circle cx="3958" cy="2084" r="22.4" class="c19 a9"/><circle cx="4003" cy="2179" r="22.4" class="c21 a9"/><circle cx="3966" cy="2099" r="22.4" class="c19 a9"/><circle cx="3973" cy="2114" r="22.4" class="c19 a9"/><circle cx="3898" cy="1957" r="22.4" class="c21 a9"/><circle cx="4011" cy="2193" r="22.4" class="c22 a9"/><circle cx="3913" cy="1987" r="22.4" class="c20 a9"/><circle cx="3981" cy="2129" r="22.4" class="c19 a9"/><circle cx="3875" cy="1908" r="22.4" class="c24 a9"/><circle cx="4018" cy="2207" r="22.4" class="c23 a9"/><circle cx="3928" cy="2018" r="22.4" class="c19 a9"/><circle cx="3988" cy="2143" r="22.4" class="c20 a9"/><circle cx="3890" cy="1938" r="22.4" class="c22 a9"/><circle cx="4026" cy="2221" r="22.4" class="c24 a9"/><circle cx="4041" cy="2252" r="22.4" class="c26 a9"/><circle cx="3935" cy="2032" r="22.4" class="c19 a9"/><circle cx="3905" cy="1968" r="22.4" class="c21 a9"/><circle cx="3943" cy="2047" r="22.4" class="c19 a9"/><circle cx="3996" cy="2157" r="22.4" class="c20 a9"/><circle cx="3883" cy="1921" r="22.4" class="c23 a9"/><circle cx="3950" cy="2062" r="22.4" class="c18 a9"/><circle cx="4033" cy="2235" r="22.4" class="c24 a9"/><circle cx="3920" cy="1999" r="22.4" class="c19 a9"/><circle cx="3958" cy="2077" r="22.4" class="c18 a9"/><circle cx="4003" cy="2171" r="22.4" class="c21 a9"/><circle cx="3965" cy="2092" r="22.4" class="c18 a9"/><circle cx="3973" cy="2107" r="22.4" class="c19 a9"/><circle cx="3898" cy="1949" r="22.4" class="c21 a9"/><circle cx="4011" cy="2185" r="22.4" class="c21 a9"/><circle cx="3913" cy="1980" r="22.4" class="c20 a9"/><circle cx="3981" cy="2121" r="22.4" class="c19 a9"/><circle cx="4018" cy="2199" r="22.4" class="c22 a9"/><circle cx="4048" cy="2262" r="22.4" class="c26 a9"/><circle cx="3928" cy="2010" r="22.4" class="c19 a9"/><circle cx="3988" cy="2135" r="22.4" class="c19 a9"/><circle cx="3890" cy="1930" r="22.4" class="c22 a9"/><circle cx="4026" cy="2213" r="22.4" class="c23 a9"/><circle cx="4041" cy="2245" r="22.4" class="c25 a9"/><circle cx="3935" cy="2024" r="22.4" class="c18 a9"/><circle cx="3905" cy="1961" r="22.4" class="c20 a9"/><circle cx="3943" cy="2039" r="22.4" class="c18 a9"/><circle cx="3996" cy="2149" r="22.4" class="c19 a9"/><circle cx="3883" cy="1913" r="22.4" class="c23 a9"/><circle cx="3950" cy="2054" r="22.4" class="c18 a9"/><circle cx="4033" cy="2227" r="22.4" class="c24 a9"/><circle cx="3920" cy="1991" r="22.4" class="c19 a9"/><circle cx="3958" cy="2069" r="22.4" class="c18 a9"/><circle cx="4003" cy="2163" r="22.4" class="c20 a9"/><circle cx="3965" cy="2084" r="22.4" class="c18 a9"/><circle cx="3973" cy="2099" r="22.4" class="c18 a9"/><circle cx="3898" cy="1942" r="22.4" class="c21 a9"/><circle cx="4011" cy="2177" r="22.4" class="c20 a9"/><circle cx="3913" cy="1972" r="22.4" class="c19 a9"/><circle cx="3980" cy="2113" r="22.4" class="c18 a9"/><circle cx="4018" cy="2192" r="22.4" class="c21 a9"/><circle cx="4048" cy="2254" r="22.4" class="c26 a9"/><circle cx="3928" cy="2002" r="22.4" class="c18 a9"/><circle cx="3988" cy="2127" r="22.4" class="c18 a9"/><circle cx="3890" cy="1922" r="22.4" class="c22 a9"/><circle cx="4026" cy="2206" r="22.4" class="c22 a9"/><circle cx="4041" cy="2237" r="22.4" class="c24 a9"/><circle cx="3935" cy="2017" r="22.4" class="c18 a9"/><circle cx="3905" cy="1953" r="22.4" class="c20 a9"/><circle cx="3943" cy="2032" r="22.4" class="c18 a9"/><circle cx="3995" cy="2142" r="22.4" class="c19 a9"/><circle cx="3882" cy="1905" r="22.4" class="c23 a9"/><circle cx="3950" cy="2047" r="22.4" class="c18 a9"/><circle cx="4033" cy="2219" r="22.4" class="c23 a9"/><circle cx="3920" cy="1983" r="22.4" class="c19 a9"/><circle cx="3958" cy="2062" r="22.4" class="c17 a9"/><circle cx="4003" cy="2156" r="22.4" class="c19 a9"/><circle cx="3965" cy="2077" r="22.4" class="c17 a9"/><circle cx="3973" cy="2092" r="22.4" class="c18 a9"/><circle cx="4056" cy="2264" r="22.4" class="c26 a9"/><circle cx="3897" cy="1934" r="22.4" class="c21 a9"/><circle cx="4010" cy="2170" r="22.4" class="c20 a9"/><circle cx="3913" cy="1964" r="22.4" class="c19 a9"/><circle cx="3980" cy="2106" r="22.4" class="c18 a9"/><circle cx="4018" cy="2184" r="22.4" class="c20 a9"/><circle cx="4048" cy="2247" r="22.4" class="c25 a9"/><circle cx="3928" cy="1995" r="22.4" class="c18 a9"/><circle cx="3988" cy="2120" r="22.4" class="c18 a9"/><circle cx="3890" cy="1915" r="22.4" class="c21 a9"/><circle cx="4025" cy="2198" r="22.4" class="c21 a9"/><circle cx="4041" cy="2229" r="22.4" class="c24 a9"/><circle cx="3935" cy="2009" r="22.4" class="c18 a9"/><circle cx="3905" cy="1945" r="22.4" class="c20 a9"/><circle cx="3943" cy="2024" r="22.4" class="c17 a9"/><circle cx="3995" cy="2134" r="22.4" class="c18 a9"/><circle cx="3950" cy="2039" r="22.4" class="c17 a9"/><circle cx="4033" cy="2212" r="22.4" class="c22 a9"/><circle cx="3920" cy="1976" r="22.4" class="c18 a9"/><circle cx="3958" cy="2054" r="22.4" class="c17 a9"/><circle cx="4003" cy="2148" r="22.4" class="c19 a9"/><circle cx="3965" cy="2069" r="22.4" class="c17 a9"/><circle cx="3973" cy="2084" r="22.4" class="c17 a9"/><circle cx="4056" cy="2257" r="22.4" class="c26 a9"/><circle cx="3897" cy="1926" r="22.4" class="c20 a9"/><circle cx="4010" cy="2162" r="22.4" class="c19 a9"/><circle cx="3912" cy="1957" r="22.4" class="c19 a9"/><circle cx="3980" cy="2098" r="22.4" class="c17 a9"/><circle cx="4018" cy="2176" r="22.4" class="c20 a9"/><circle cx="4048" cy="2239" r="22.4" class="c24 a9"/><circle cx="3927" cy="1987" r="22.4" class="c18 a9"/><circle cx="3988" cy="2112" r="22.4" class="c17 a9"/><circle cx="3890" cy="1907" r="22.4" class="c21 a9"/><circle cx="4064" cy="2267" r="22.4" class="c26 a9"/><circle cx="4025" cy="2190" r="22.4" class="c21 a9"/><circle cx="4040" cy="2222" r="22.4" class="c23 a9"/><circle cx="3935" cy="2001" r="22.4" class="c17 a9"/><circle cx="3905" cy="1937" r="22.4" class="c20 a9"/><circle cx="3942" cy="2016" r="22.4" class="c17 a9"/><circle cx="3995" cy="2126" r="22.4" class="c18 a9"/><circle cx="3950" cy="2031" r="22.4" class="c17 a9"/><circle cx="4033" cy="2204" r="22.4" class="c22 a9"/><circle cx="3920" cy="1968" r="22.4" class="c18 a9"/><circle cx="3958" cy="2046" r="22.4" class="c17 a9"/><circle cx="4003" cy="2140" r="22.4" class="c18 a9"/><circle cx="3965" cy="2061" r="22.4" class="c16 a9"/><circle cx="3973" cy="2076" r="22.4" class="c16 a9"/><circle cx="4055" cy="2249" r="22.4" class="c25 a9"/><circle cx="3897" cy="1918" r="22.4" class="c20 a9"/><circle cx="4010" cy="2154" r="22.4" class="c18 a9"/><circle cx="3912" cy="1949" r="22.4" class="c19 a9"/><circle cx="3980" cy="2090" r="22.4" class="c17 a9"/><circle cx="4018" cy="2169" r="22.4" class="c19 a9"/><circle cx="4048" cy="2232" r="22.4" class="c23 a9"/><circle cx="3927" cy="1979" r="22.4" class="c17 a9"/><circle cx="3988" cy="2104" r="22.4" class="c17 a9"/><circle cx="4064" cy="2259" r="22.4" class="c25 a9"/><circle cx="4025" cy="2183" r="22.4" class="c20 a9"/><circle cx="4040" cy="2214" r="22.4" class="c22 a9"/><circle cx="3935" cy="1993" r="22.4" class="c17 a9"/><circle cx="3905" cy="1930" r="22.4" class="c19 a9"/><circle cx="3942" cy="2008" r="22.4" class="c17 a9"/><circle cx="3995" cy="2119" r="22.4" class="c17 a9"/><circle cx="3950" cy="2023" r="22.4" class="c16 a9"/><circle cx="4073" cy="2270" r="22.4" class="c26 a9"/><circle cx="4033" cy="2196" r="22.4" class="c21 a9"/><circle cx="3920" cy="1960" r="22.4" class="c18 a9"/><circle cx="3957" cy="2038" r="22.4" class="c16 a9"/><circle cx="4003" cy="2133" r="22.4" class="c17 a9"/><circle cx="3965" cy="2054" r="22.4" class="c16 a9"/><circle cx="3972" cy="2069" r="22.4" class="c16 a9"/><circle cx="4055" cy="2241" r="22.4" class="c24 a9"/><circle cx="3897" cy="1911" r="22.4" class="c20 a9"/><circle cx="4010" cy="2147" r="22.4" class="c18 a9"/><circle cx="3912" cy="1941" r="22.4" class="c18 a9"/><circle cx="3980" cy="2083" r="22.4" class="c16 a9"/><circle cx="4018" cy="2161" r="22.4" class="c18 a9"/><circle cx="4048" cy="2224" r="22.4" class="c23 a9"/><circle cx="3927" cy="1972" r="22.4" class="c17 a9"/><circle cx="3987" cy="2097" r="22.4" class="c16 a9"/><circle cx="4064" cy="2252" r="22.4" class="c25 a9"/><circle cx="4025" cy="2175" r="22.4" class="c19 a9"/><circle cx="4040" cy="2206" r="22.4" class="c21 a9"/><circle cx="3935" cy="1986" r="22.4" class="c17 a9"/><circle cx="3905" cy="1922" r="22.4" class="c19 a9"/><circle cx="3942" cy="2001" r="22.4" class="c16 a9"/><circle cx="3995" cy="2111" r="22.4" class="c16 a9"/><circle cx="3950" cy="2016" r="22.4" class="c16 a9"/><circle cx="4073" cy="2262" r="22.4" class="c25 a9"/><circle cx="4033" cy="2189" r="22.4" class="c20 a9"/><circle cx="3920" cy="1952" r="22.4" class="c18 a9"/><circle cx="3957" cy="2031" r="22.4" class="c16 a9"/><circle cx="4003" cy="2125" r="22.4" class="c17 a9"/><circle cx="3965" cy="2046" r="22.4" class="c15 a9"/><circle cx="3972" cy="2061" r="22.4" class="c15 a9"/><circle cx="4082" cy="2272" r="22.4" class="c26 a9"/><circle cx="4055" cy="2234" r="22.4" class="c23 a9"/><circle cx="4010" cy="2139" r="22.4" class="c17 a9"/><circle cx="3912" cy="1933" r="22.4" class="c18 a9"/><circle cx="3980" cy="2075" r="22.4" class="c15 a9"/><circle cx="4018" cy="2153" r="22.4" class="c17 a9"/><circle cx="4048" cy="2216" r="22.4" class="c22 a9"/><circle cx="3927" cy="1964" r="22.4" class="c17 a9"/><circle cx="3987" cy="2089" r="22.4" class="c15 a9"/><circle cx="4064" cy="2244" r="22.4" class="c24 a9"/><circle cx="4025" cy="2167" r="22.4" class="c18 a9"/><circle cx="4040" cy="2199" r="22.4" class="c21 a9"/><circle cx="3935" cy="1978" r="22.4" class="c16 a9"/><circle cx="3904" cy="1914" r="22.4" class="c19 a9"/><circle cx="3942" cy="1993" r="22.4" class="c16 a9"/><circle cx="3995" cy="2103" r="22.4" class="c16 a9"/><circle cx="3950" cy="2008" r="22.4" class="c15 a9"/><circle cx="4073" cy="2254" r="22.4" class="c25 a9"/><circle cx="4033" cy="2181" r="22.4" class="c19 a9"/><circle cx="3920" cy="1945" r="22.4" class="c17 a9"/><circle cx="3957" cy="2023" r="22.4" class="c15 a9"/><circle cx="4002" cy="2117" r="22.4" class="c16 a9"/><circle cx="3965" cy="2038" r="22.4" class="c15 a9"/><circle cx="3972" cy="2053" r="22.4" class="c15 a9"/><circle cx="4082" cy="2265" r="22.4" class="c25 a9"/><circle cx="4055" cy="2226" r="22.4" class="c23 a9"/><circle cx="4010" cy="2132" r="22.4" class="c16 a9"/><circle cx="3912" cy="1926" r="22.4" class="c18 a9"/><circle cx="3980" cy="2067" r="22.4" class="c15 a9"/><circle cx="4017" cy="2146" r="22.4" class="c17 a9"/><circle cx="4048" cy="2209" r="22.4" class="c21 a9"/><circle cx="4091" cy="2275" r="22.4" class="c26 a9"/><circle cx="3927" cy="1956" r="22.4" class="c16 a9"/><circle cx="3987" cy="2081" r="22.4" class="c15 a9"/><circle cx="4064" cy="2236" r="22.4" class="c23 a9"/><circle cx="4025" cy="2160" r="22.4" class="c18 a9"/><circle cx="4040" cy="2191" r="22.4" class="c20 a9"/><circle cx="3934" cy="1970" r="22.4" class="c16 a9"/><circle cx="3942" cy="1985" r="22.4" class="c15 a9"/><circle cx="3995" cy="2096" r="22.4" class="c15 a9"/><circle cx="3950" cy="2000" r="22.4" class="c15 a9"/><circle cx="4073" cy="2247" r="22.4" class="c24 a9"/><circle cx="4032" cy="2174" r="22.4" class="c19 a9"/><circle cx="3919" cy="1937" r="22.4" class="c17 a9"/><circle cx="3957" cy="2015" r="22.4" class="c15 a9"/><circle cx="4002" cy="2110" r="22.4" class="c15 a9"/><circle cx="3965" cy="2030" r="22.4" class="c14 a9"/><circle cx="3972" cy="2045" r="22.4" class="c14 a9"/><circle cx="4082" cy="2257" r="22.4" class="c25 a9"/><circle cx="4055" cy="2219" r="22.4" class="c22 a9"/><circle cx="4010" cy="2124" r="22.4" class="c16 a9"/><circle cx="3912" cy="1918" r="22.4" class="c18 a9"/><circle cx="3980" cy="2060" r="22.4" class="c14 a9"/><circle cx="4017" cy="2138" r="22.4" class="c16 a9"/><circle cx="4048" cy="2201" r="22.4" class="c21 a9"/><circle cx="4090" cy="2267" r="22.4" class="c25 a9"/><circle cx="3927" cy="1948" r="22.4" class="c16 a9"/><circle cx="3987" cy="2074" r="22.4" class="c14 a9"/><circle cx="4064" cy="2229" r="22.4" class="c23 a9"/><circle cx="4025" cy="2152" r="22.4" class="c17 a9"/><circle cx="4040" cy="2183" r="22.4" class="c19 a9"/><circle cx="3934" cy="1963" r="22.4" class="c15 a9"/><circle cx="3942" cy="1978" r="22.4" class="c15 a9"/><circle cx="3995" cy="2088" r="22.4" class="c14 a9"/><circle cx="3949" cy="1993" r="22.4" class="c15 a9"/><circle cx="4072" cy="2239" r="22.4" class="c23 a9"/><circle cx="4032" cy="2166" r="22.4" class="c18 a9"/><circle cx="3919" cy="1929" r="22.4" class="c17 a9"/><circle cx="3957" cy="2008" r="22.4" class="c14 a9"/><circle cx="4002" cy="2102" r="22.4" class="c15 a9"/><circle cx="3965" cy="2023" r="22.4" class="c14 a9"/><circle cx="3972" cy="2038" r="22.4" class="c14 a9"/><circle cx="4081" cy="2249" r="22.4" class="c24 a9"/><circle cx="4055" cy="2211" r="22.4" class="c21 a9"/><circle cx="4010" cy="2116" r="22.4" class="c15 a9"/><circle cx="3980" cy="2052" r="22.4" class="c14 a9"/><circle cx="4017" cy="2130" r="22.4" class="c15 a9"/><circle cx="4047" cy="2193" r="22.4" class="c20 a9"/><circle cx="4090" cy="2260" r="22.4" class="c25 a9"/><circle cx="3927" cy="1941" r="22.4" class="c16 a9"/><circle cx="3987" cy="2066" r="22.4" class="c14 a9"/><circle cx="4063" cy="2221" r="22.4" class="c22 a9"/><circle cx="4025" cy="2144" r="22.4" class="c16 a9"/><circle cx="4040" cy="2176" r="22.4" class="c18 a9"/><circle cx="3934" cy="1955" r="22.4" class="c15 a9"/><circle cx="4099" cy="2270" r="22.4" class="c25 a9"/><circle cx="3942" cy="1970" r="22.4" class="c15 a9"/><circle cx="3995" cy="2080" r="22.4" class="c14 a9"/><circle cx="3949" cy="1985" r="22.4" class="c14 a9"/><circle cx="4072" cy="2231" r="22.4" class="c22 a9"/><circle cx="4032" cy="2158" r="22.4" class="c17 a9"/><circle cx="3919" cy="1922" r="22.4" class="c16 a9"/><circle cx="3957" cy="2000" r="22.4" class="c14 a9"/><circle cx="4002" cy="2094" r="22.4" class="c14 a9"/><circle cx="3964" cy="2015" r="22.4" class="c13 a9"/><circle cx="3972" cy="2030" r="22.4" class="c13 a9"/><circle cx="4081" cy="2242" r="22.4" class="c23 a9"/><circle cx="4055" cy="2203" r="22.4" class="c20 a9"/><circle cx="4010" cy="2109" r="22.4" class="c14 a9"/><circle cx="3979" cy="2044" r="22.4" class="c13 a9"/><circle cx="4017" cy="2123" r="22.4" class="c15 a9"/><circle cx="4047" cy="2186" r="22.4" class="c19 a9"/><circle cx="4090" cy="2252" r="22.4" class="c24 a9"/><circle cx="3927" cy="1933" r="22.4" class="c15 a9"/><circle cx="3987" cy="2058" r="22.4" class="c13 a9"/><circle cx="4063" cy="2213" r="22.4" class="c21 a9"/><circle cx="4025" cy="2137" r="22.4" class="c15 a9"/><circle cx="4040" cy="2168" r="22.4" class="c18 a9"/><circle cx="3934" cy="1947" r="22.4" class="c15 a9"/><circle cx="4099" cy="2263" r="22.4" class="c25 a9"/><circle cx="3942" cy="1962" r="22.4" class="c14 a9"/><circle cx="3994" cy="2073" r="22.4" class="c13 a9"/><circle cx="3949" cy="1977" r="22.4" class="c14 a9"/><circle cx="4072" cy="2224" r="22.4" class="c22 a9"/><circle cx="4032" cy="2151" r="22.4" class="c16 a9"/><circle cx="3957" cy="1992" r="22.4" class="c13 a9"/><circle cx="4002" cy="2087" r="22.4" class="c13 a9"/><circle cx="4108" cy="2272" r="22.4" class="c25 a9"/><circle cx="3964" cy="2007" r="22.4" class="c13 a9"/><circle cx="3972" cy="2022" r="22.4" class="c13 a9"/><circle cx="4081" cy="2234" r="22.4" class="c22 a9"/><circle cx="4055" cy="2196" r="22.4" class="c20 a9"/><circle cx="4010" cy="2101" r="22.4" class="c13 a9"/><circle cx="3979" cy="2037" r="22.4" class="c13 a9"/><circle cx="4017" cy="2115" r="22.4" class="c14 a9"/><circle cx="4047" cy="2178" r="22.4" class="c18 a9"/><circle cx="4090" cy="2245" r="22.4" class="c23 a9"/><circle cx="3927" cy="1925" r="22.4" class="c15 a9"/><circle cx="3987" cy="2051" r="22.4" class="c12 a9"/><circle cx="4063" cy="2206" r="22.4" class="c20 a9"/><circle cx="4025" cy="2129" r="22.4" class="c15 a9"/><circle cx="4040" cy="2160" r="22.4" class="c17 a9"/><circle cx="3934" cy="1940" r="22.4" class="c14 a9"/><circle cx="4099" cy="2255" r="22.4" class="c24 a9"/><circle cx="3942" cy="1955" r="22.4" class="c14 a9"/><circle cx="3994" cy="2065" r="22.4" class="c12 a9"/><circle cx="3949" cy="1970" r="22.4" class="c13 a9"/><circle cx="4072" cy="2216" r="22.4" class="c21 a9"/><circle cx="4032" cy="2143" r="22.4" class="c16 a9"/><circle cx="3957" cy="1985" r="22.4" class="c13 a9"/><circle cx="4002" cy="2079" r="22.4" class="c13 a9"/><circle cx="4108" cy="2265" r="22.4" class="c25 a9"/><circle cx="3964" cy="2000" r="22.4" class="c12 a9"/><circle cx="3972" cy="2015" r="22.4" class="c12 a9"/><circle cx="4081" cy="2227" r="22.4" class="c22 a9"/><circle cx="4055" cy="2188" r="22.4" class="c19 a9"/><circle cx="4009" cy="2093" r="22.4" class="c13 a9"/><circle cx="3979" cy="2029" r="22.4" class="c12 a9"/><circle cx="4017" cy="2107" r="22.4" class="c13 a9"/><circle cx="4047" cy="2170" r="22.4" class="c18 a9"/><circle cx="4090" cy="2237" r="22.4" class="c22 a9"/><circle cx="4117" cy="2274" r="22.4" class="c25 a9"/><circle cx="3987" cy="2043" r="22.4" class="c12 a9"/><circle cx="4063" cy="2198" r="22.4" class="c20 a9"/><circle cx="4024" cy="2121" r="22.4" class="c14 a9"/><circle cx="4040" cy="2153" r="22.4" class="c16 a9"/><circle cx="3934" cy="1932" r="22.4" class="c14 a9"/><circle cx="4099" cy="2247" r="22.4" class="c23 a9"/><circle cx="3941" cy="1947" r="22.4" class="c13 a9"/><circle cx="3994" cy="2057" r="22.4" class="c12 a9"/><circle cx="3949" cy="1962" r="22.4" class="c13 a9"/><circle cx="4072" cy="2209" r="22.4" class="c20 a9"/><circle cx="4032" cy="2135" r="22.4" class="c15 a9"/><circle cx="3957" cy="1977" r="22.4" class="c12 a9"/><circle cx="4002" cy="2071" r="22.4" class="c12 a9"/><circle cx="4108" cy="2257" r="22.4" class="c24 a9"/><circle cx="3964" cy="1992" r="22.4" class="c12 a9"/><circle cx="3972" cy="2007" r="22.4" class="c12 a9"/><circle cx="4081" cy="2219" r="22.4" class="c21 a9"/><circle cx="4055" cy="2180" r="22.4" class="c18 a9"/><circle cx="4009" cy="2085" r="22.4" class="c12 a9"/><circle cx="3979" cy="2021" r="22.4" class="c11 a9"/><circle cx="4017" cy="2100" r="22.4" class="c12 a9"/><circle cx="4047" cy="2163" r="22.4" class="c17 a9"/><circle cx="4090" cy="2229" r="22.4" class="c22 a9"/><circle cx="4117" cy="2266" r="22.4" class="c24 a9"/><circle cx="3987" cy="2035" r="22.4" class="c11 a9"/><circle cx="4063" cy="2191" r="22.4" class="c19 a9"/><circle cx="4024" cy="2114" r="22.4" class="c13 a9"/><circle cx="4039" cy="2145" r="22.4" class="c16 a9"/><circle cx="4099" cy="2240" r="22.4" class="c22 a9"/><circle cx="3941" cy="1939" r="22.4" class="c13 a9"/><circle cx="3994" cy="2050" r="22.4" class="c11 a9"/><circle cx="3949" cy="1954" r="22.4" class="c12 a9"/><circle cx="4126" cy="2276" r="22.4" class="c25 a9"/><circle cx="4072" cy="2201" r="22.4" class="c20 a9"/><circle cx="4032" cy="2128" r="22.4" class="c14 a9"/><circle cx="3956" cy="1969" r="22.4" class="c12 a9"/><circle cx="4002" cy="2064" r="22.4" class="c11 a9"/><circle cx="4108" cy="2249" r="22.4" class="c23 a9"/><circle cx="3964" cy="1984" r="22.4" class="c11 a9"/><circle cx="3971" cy="1999" r="22.4" class="c11 a9"/><circle cx="4081" cy="2211" r="22.4" class="c20 a9"/><circle cx="4055" cy="2173" r="22.4" class="c17 a9"/><circle cx="4009" cy="2078" r="22.4" class="c11 a9"/><circle cx="3979" cy="2014" r="22.4" class="c11 a9"/><circle cx="4017" cy="2092" r="22.4" class="c12 a9"/><circle cx="4047" cy="2155" r="22.4" class="c16 a9"/><circle cx="4090" cy="2222" r="22.4" class="c21 a9"/><circle cx="4117" cy="2259" r="22.4" class="c24 a9"/><circle cx="3987" cy="2028" r="22.4" class="c11 a9"/><circle cx="4063" cy="2183" r="22.4" class="c18 a9"/><circle cx="4024" cy="2106" r="22.4" class="c13 a9"/><circle cx="4039" cy="2137" r="22.4" class="c15 a9"/><circle cx="4099" cy="2232" r="22.4" class="c22 a9"/><circle cx="3994" cy="2042" r="22.4" class="c11 a9"/><circle cx="3949" cy="1947" r="22.4" class="c12 a9"/><circle cx="4126" cy="2268" r="22.4" class="c24 a9"/><circle cx="4072" cy="2193" r="22.4" class="c19 a9"/><circle cx="4032" cy="2120" r="22.4" class="c14 a9"/><circle cx="3956" cy="1962" r="22.4" class="c11 a9"/><circle cx="4002" cy="2056" r="22.4" class="c11 a9"/><circle cx="4108" cy="2242" r="22.4" class="c22 a9"/><circle cx="3964" cy="1977" r="22.4" class="c11 a9"/><circle cx="3971" cy="1992" r="22.4" class="c11 a9"/><circle cx="4081" cy="2204" r="22.4" class="c20 a9"/><circle cx="4054" cy="2165" r="22.4" class="c17 a9"/><circle cx="4009" cy="2070" r="22.4" class="c11 a9"/><circle cx="4135" cy="2277" r="22.4" class="c25 a9"/><circle cx="3979" cy="2006" r="22.4" class="c10 a9"/><circle cx="4017" cy="2084" r="22.4" class="c11 a9"/><circle cx="4047" cy="2147" r="22.4" class="c15 a9"/><circle cx="4090" cy="2214" r="22.4" class="c20 a9"/><circle cx="4117" cy="2251" r="22.4" class="c23 a9"/><circle cx="3986" cy="2020" r="22.4" class="c10 a9"/><circle cx="4063" cy="2175" r="22.4" class="c17 a9"/><circle cx="4024" cy="2098" r="22.4" class="c12 a9"/><circle cx="4039" cy="2130" r="22.4" class="c14 a9"/><circle cx="4144" cy="2287" r="22.4" class="c25 a9"/><circle cx="4099" cy="2224" r="22.4" class="c21 a9"/><circle cx="3994" cy="2034" r="22.4" class="c10 a9"/><circle cx="4126" cy="2260" r="22.4" class="c24 a9"/><circle cx="4072" cy="2186" r="22.4" class="c18 a9"/><circle cx="4032" cy="2112" r="22.4" class="c13 a9"/><circle cx="3956" cy="1954" r="22.4" class="c11 a9"/><circle cx="4002" cy="2048" r="22.4" class="c10 a9"/><circle cx="4108" cy="2234" r="22.4" class="c22 a9"/><circle cx="3964" cy="1969" r="22.4" class="c10 a9"/><circle cx="3971" cy="1984" r="22.4" class="c10 a9"/><circle cx="4081" cy="2196" r="22.4" class="c19 a9"/><circle cx="4054" cy="2157" r="22.4" class="c16 a9"/><circle cx="4009" cy="2062" r="22.4" class="c10 a9"/><circle cx="4135" cy="2270" r="22.4" class="c24 a9"/><circle cx="3979" cy="1998" r="22.4" class="c10 a9"/><circle cx="4017" cy="2077" r="22.4" class="c10 a9"/><circle cx="4047" cy="2140" r="22.4" class="c15 a9"/><circle cx="4090" cy="2206" r="22.4" class="c20 a9"/><circle cx="4117" cy="2243" r="22.4" class="c22 a9"/><circle cx="3986" cy="2012" r="22.4" class="c9 a9"/><circle cx="4063" cy="2168" r="22.4" class="c17 a9"/><circle cx="4024" cy="2091" r="22.4" class="c11 a9"/><circle cx="4039" cy="2122" r="22.4" class="c13 a9"/><circle cx="4144" cy="2279" r="22.4" class="c25 a9"/><circle cx="4099" cy="2217" r="22.4" class="c20 a9"/><circle cx="3994" cy="2026" r="22.4" class="c9 a9"/><circle cx="4126" cy="2253" r="22.4" class="c23 a9"/><circle cx="4072" cy="2178" r="22.4" class="c17 a9"/><circle cx="4032" cy="2105" r="22.4" class="c12 a9"/><circle cx="4001" cy="2041" r="22.4" class="c9 a9"/><circle cx="4108" cy="2227" r="22.4" class="c21 a9"/><circle cx="3964" cy="1961" r="22.4" class="c10 a9"/><circle cx="4153" cy="2288" r="22.4" class="c25 a9"/><circle cx="3971" cy="1976" r="22.4" class="c10 a9"/><circle cx="4081" cy="2188" r="22.4" class="c18 a9"/><circle cx="4054" cy="2150" r="22.4" class="c15 a9"/><circle cx="4009" cy="2055" r="22.4" class="c9 a9"/><circle cx="4135" cy="2262" r="22.4" class="c23 a9"/><circle cx="3979" cy="1990" r="22.4" class="c9 a9"/><circle cx="4016" cy="2069" r="22.4" class="c9 a9"/><circle cx="4047" cy="2132" r="22.4" class="c14 a9"/><circle cx="4090" cy="2199" r="22.4" class="c19 a9"/><circle cx="4117" cy="2236" r="22.4" class="c21 a9"/><circle cx="3986" cy="2005" r="22.4" class="c9 a9"/><circle cx="4063" cy="2160" r="22.4" class="c16 a9"/><circle cx="4024" cy="2083" r="22.4" class="c10 a9"/><circle cx="4039" cy="2114" r="22.4" class="c13 a9"/><circle cx="4144" cy="2271" r="22.4" class="c24 a9"/><circle cx="4099" cy="2209" r="22.4" class="c19 a9"/><circle cx="3994" cy="2019" r="22.4" class="c9 a9"/><circle cx="4126" cy="2245" r="22.4" class="c22 a9"/><circle cx="4072" cy="2170" r="22.4" class="c17 a9"/><circle cx="4032" cy="2097" r="22.4" class="c11 a9"/><circle cx="4001" cy="2033" r="22.4" class="c9 a9"/><circle cx="4108" cy="2219" r="22.4" class="c20 a9"/><circle cx="4153" cy="2281" r="22.4" class="c25 a9"/><circle cx="3971" cy="1969" r="22.4" class="c9 a9"/><circle cx="4081" cy="2181" r="22.4" class="c17 a9"/><circle cx="4054" cy="2142" r="22.4" class="c15 a9"/><circle cx="4009" cy="2047" r="22.4" class="c9 a9"/><circle cx="4135" cy="2254" r="22.4" class="c23 a9"/><circle cx="3979" cy="1983" r="22.4" class="c9 a9"/><circle cx="4016" cy="2061" r="22.4" class="c9 a9"/><circle cx="4047" cy="2124" r="22.4" class="c13 a9"/><circle cx="4090" cy="2191" r="22.4" class="c18 a9"/><circle cx="4117" cy="2228" r="22.4" class="c21 a9"/><circle cx="4161" cy="2290" r="22.4" class="c25 a9"/><circle cx="3986" cy="1997" r="22.4" class="c8 a9"/><circle cx="4063" cy="2152" r="22.4" class="c15 a9"/><circle cx="4024" cy="2075" r="22.4" class="c10 a9"/><circle cx="4039" cy="2107" r="22.4" class="c12 a9"/><circle cx="4143" cy="2264" r="22.4" class="c23 a9"/><circle cx="4099" cy="2201" r="22.4" class="c19 a9"/><circle cx="3994" cy="2011" r="22.4" class="c8 a9"/><circle cx="4126" cy="2237" r="22.4" class="c21 a9"/><circle cx="4072" cy="2163" r="22.4" class="c16 a9"/><circle cx="4031" cy="2089" r="22.4" class="c11 a9"/><circle cx="4001" cy="2025" r="22.4" class="c8 a9"/><circle cx="4108" cy="2211" r="22.4" class="c19 a9"/><circle cx="4152" cy="2273" r="22.4" class="c24 a9"/><circle cx="4081" cy="2173" r="22.4" class="c17 a9"/><circle cx="4054" cy="2134" r="22.4" class="c14 a9"/><circle cx="4009" cy="2039" r="22.4" class="c8 a9"/><circle cx="4134" cy="2247" r="22.4" class="c22 a9"/><circle cx="3978" cy="1975" r="22.4" class="c8 a9"/><circle cx="4016" cy="2054" r="22.4" class="c8 a9"/><circle cx="4047" cy="2117" r="22.4" class="c13 a9"/><circle cx="4090" cy="2183" r="22.4" class="c17 a9"/><circle cx="4116" cy="2220" r="22.4" class="c20 a9"/><circle cx="4161" cy="2282" r="22.4" class="c24 a9"/><circle cx="3986" cy="1989" r="22.4" class="c8 a9"/><circle cx="4063" cy="2145" r="22.4" class="c14 a9"/><circle cx="4024" cy="2068" r="22.4" class="c9 a9"/><circle cx="4039" cy="2099" r="22.4" class="c11 a9"/><circle cx="4143" cy="2256" r="22.4" class="c23 a9"/><circle cx="4098" cy="2194" r="22.4" class="c18 a9"/><circle cx="3994" cy="2003" r="22.4" class="c7 a9"/><circle cx="4125" cy="2230" r="22.4" class="c21 a9"/><circle cx="4072" cy="2155" r="22.4" class="c15 a9"/><circle cx="4031" cy="2081" r="22.4" class="c10 a9"/><circle cx="4170" cy="2291" r="22.4" class="c25 a9"/><circle cx="4001" cy="2018" r="22.4" class="c7 a9"/><circle cx="4107" cy="2204" r="22.4" class="c19 a9"/><circle cx="4152" cy="2265" r="22.4" class="c23 a9"/><circle cx="4080" cy="2165" r="22.4" class="c16 a9"/><circle cx="4054" cy="2127" r="22.4" class="c13 a9"/><circle cx="4009" cy="2032" r="22.4" class="c7 a9"/><circle cx="4134" cy="2239" r="22.4" class="c21 a9"/><circle cx="4016" cy="2046" r="22.4" class="c7 a9"/><circle cx="4046" cy="2109" r="22.4" class="c12 a9"/><circle cx="4089" cy="2176" r="22.4" class="c17 a9"/><circle cx="4116" cy="2213" r="22.4" class="c19 a9"/><circle cx="4161" cy="2275" r="22.4" class="c24 a9"/><circle cx="3986" cy="1981" r="22.4" class="c7 a9"/><circle cx="4062" cy="2137" r="22.4" class="c14 a9"/><circle cx="4024" cy="2060" r="22.4" class="c8 a9"/><circle cx="4039" cy="2091" r="22.4" class="c10 a9"/><circle cx="4143" cy="2248" r="22.4" class="c22 a9"/><circle cx="4098" cy="2186" r="22.4" class="c17 a9"/><circle cx="3993" cy="1996" r="22.4" class="c7 a9"/><circle cx="4125" cy="2222" r="22.4" class="c20 a9"/><circle cx="4071" cy="2147" r="22.4" class="c14 a9"/><circle cx="4031" cy="2074" r="22.4" class="c9 a9"/><circle cx="4170" cy="2284" r="22.4" class="c24 a9"/><circle cx="4001" cy="2010" r="22.4" class="c7 a9"/><circle cx="4107" cy="2196" r="22.4" class="c18 a9"/><circle cx="4152" cy="2258" r="22.4" class="c22 a9"/><circle cx="4080" cy="2158" r="22.4" class="c15 a9"/><circle cx="4054" cy="2119" r="22.4" class="c12 a9"/><circle cx="4009" cy="2024" r="22.4" class="c6 a9"/><circle cx="4134" cy="2231" r="22.4" class="c20 a9"/><circle cx="4179" cy="2293" r="22.4" class="c25 a9"/><circle cx="4016" cy="2038" r="22.4" class="c6 a9"/><circle cx="4046" cy="2101" r="22.4" class="c11 a9"/><circle cx="4089" cy="2168" r="22.4" class="c16 a9"/><circle cx="4116" cy="2205" r="22.4" class="c19 a9"/><circle cx="4161" cy="2267" r="22.4" class="c23 a9"/><circle cx="4062" cy="2129" r="22.4" class="c13 a9"/><circle cx="4024" cy="2052" r="22.4" class="c7 a9"/><circle cx="4039" cy="2084" r="22.4" class="c10 a9"/><circle cx="4143" cy="2241" r="22.4" class="c21 a9"/><circle cx="4098" cy="2178" r="22.4" class="c17 a9"/><circle cx="3993" cy="1988" r="22.4" class="c6 a9"/><circle cx="4125" cy="2214" r="22.4" class="c19 a9"/><circle cx="4071" cy="2140" r="22.4" class="c14 a9"/><circle cx="4031" cy="2066" r="22.4" class="c8 a9"/><circle cx="4170" cy="2276" r="22.4" class="c24 a9"/><circle cx="4001" cy="2002" r="22.4" class="c6 a9"/><circle cx="4107" cy="2188" r="22.4" class="c17 a9"/><circle cx="4152" cy="2250" r="22.4" class="c22 a9"/><circle cx="4080" cy="2150" r="22.4" class="c14 a9"/><circle cx="4054" cy="2111" r="22.4" class="c12 a9"/><circle cx="4008" cy="2016" r="22.4" class="c6 a9"/><circle cx="4134" cy="2224" r="22.4" class="c20 a9"/><circle cx="4179" cy="2285" r="22.4" class="c24 a9"/><circle cx="4016" cy="2030" r="22.4" class="c6 a9"/><circle cx="4046" cy="2094" r="22.4" class="c10 a9"/><circle cx="4089" cy="2160" r="22.4" class="c15 a9"/><circle cx="4116" cy="2197" r="22.4" class="c18 a9"/><circle cx="4161" cy="2259" r="22.4" class="c22 a9"/><circle cx="4062" cy="2121" r="22.4" class="c12 a9"/><circle cx="4024" cy="2045" r="22.4" class="c7 a9"/><circle cx="4039" cy="2076" r="22.4" class="c9 a9"/><circle cx="4143" cy="2233" r="22.4" class="c20 a9"/><circle cx="4098" cy="2171" r="22.4" class="c16 a9"/><circle cx="4188" cy="2295" r="22.4" class="c25 a9"/><circle cx="4125" cy="2207" r="22.4" class="c18 a9"/><circle cx="4071" cy="2132" r="22.4" class="c13 a9"/><circle cx="4031" cy="2058" r="22.4" class="c8 a9"/><circle cx="4170" cy="2269" r="22.4" class="c23 a9"/><circle cx="4001" cy="1994" r="22.4" class="c5 a9"/><circle cx="4107" cy="2181" r="22.4" class="c16 a9"/><circle cx="4152" cy="2242" r="22.4" class="c21 a9"/><circle cx="4080" cy="2142" r="22.4" class="c14 a9"/><circle cx="4054" cy="2104" r="22.4" class="c11 a9"/><circle cx="4008" cy="2009" r="22.4" class="c5 a9"/><circle cx="4134" cy="2216" r="22.4" class="c19 a9"/><circle cx="4179" cy="2278" r="22.4" class="c23 a9"/><circle cx="4016" cy="2023" r="22.4" class="c5 a9"/><circle cx="4046" cy="2086" r="22.4" class="c10 a9"/><circle cx="4089" cy="2153" r="22.4" class="c14 a9"/><circle cx="4116" cy="2190" r="22.4" class="c17 a9"/><circle cx="4161" cy="2252" r="22.4" class="c22 a9"/><circle cx="4062" cy="2114" r="22.4" class="c12 a9"/><circle cx="4023" cy="2037" r="22.4" class="c6 a9"/><circle cx="4039" cy="2068" r="22.4" class="c8 a9"/><circle cx="4143" cy="2225" r="22.4" class="c20 a9"/><circle cx="4098" cy="2163" r="22.4" class="c15 a9"/><circle cx="4188" cy="2287" r="22.4" class="c24 a9"/><circle cx="4125" cy="2199" r="22.4" class="c18 a9"/><circle cx="4071" cy="2124" r="22.4" class="c12 a9"/><circle cx="4031" cy="2051" r="22.4" class="c7 a9"/><circle cx="4170" cy="2261" r="22.4" class="c22 a9"/><circle cx="4107" cy="2173" r="22.4" class="c16 a9"/><circle cx="4152" cy="2235" r="22.4" class="c20 a9"/><circle cx="4080" cy="2135" r="22.4" class="c13 a9"/><circle cx="4054" cy="2096" r="22.4" class="c10 a9"/><circle cx="4008" cy="2001" r="22.4" class="c4 a9"/><circle cx="4197" cy="2296" r="22.4" class="c25 a9"/><circle cx="4134" cy="2208" r="22.4" class="c18 a9"/><circle cx="4179" cy="2270" r="22.4" class="c23 a9"/><circle cx="4016" cy="2015" r="22.4" class="c4 a9"/><circle cx="4046" cy="2078" r="22.4" class="c9 a9"/><circle cx="4089" cy="2145" r="22.4" class="c14 a9"/><circle cx="4116" cy="2182" r="22.4" class="c16 a9"/><circle cx="4161" cy="2244" r="22.4" class="c21 a9"/><circle cx="4062" cy="2106" r="22.4" class="c11 a9"/><circle cx="4023" cy="2029" r="22.4" class="c5 a9"/><circle cx="4038" cy="2061" r="22.4" class="c8 a9"/><circle cx="4143" cy="2218" r="22.4" class="c19 a9"/><circle cx="4098" cy="2155" r="22.4" class="c14 a9"/><circle cx="4188" cy="2279" r="22.4" class="c23 a9"/><circle cx="4125" cy="2191" r="22.4" class="c17 a9"/><circle cx="4071" cy="2116" r="22.4" class="c12 a9"/><circle cx="4031" cy="2043" r="22.4" class="c6 a9"/><circle cx="4170" cy="2253" r="22.4" class="c21 a9"/><circle cx="4107" cy="2165" r="22.4" class="c15 a9"/><circle cx="4152" cy="2227" r="22.4" class="c19 a9"/><circle cx="4080" cy="2127" r="22.4" class="c12 a9"/><circle cx="4054" cy="2088" r="22.4" class="c9 a9"/><circle cx="4197" cy="2289" r="22.4" class="c24 a9"/><circle cx="4134" cy="2201" r="22.4" class="c18 a9"/><circle cx="4179" cy="2262" r="22.4" class="c22 a9"/><circle cx="4016" cy="2007" r="22.4" class="c4 a9"/><circle cx="4046" cy="2071" r="22.4" class="c8 a9"/><circle cx="4089" cy="2137" r="22.4" class="c13 a9"/><circle cx="4116" cy="2174" r="22.4" class="c16 a9"/><circle cx="4161" cy="2236" r="22.4" class="c20 a9"/><circle cx="4062" cy="2098" r="22.4" class="c10 a9"/><circle cx="4023" cy="2021" r="22.4" class="c5 a9"/><circle cx="4206" cy="2298" r="22.4" class="c25 a9"/><circle cx="4038" cy="2053" r="22.4" class="c7 a9"/><circle cx="4143" cy="2210" r="22.4" class="c18 a9"/><circle cx="4098" cy="2148" r="22.4" class="c14 a9"/><circle cx="4188" cy="2272" r="22.4" class="c23 a9"/><circle cx="4125" cy="2184" r="22.4" class="c16 a9"/><circle cx="4071" cy="2109" r="22.4" class="c11 a9"/><circle cx="4031" cy="2035" r="22.4" class="c5 a9"/><circle cx="4170" cy="2246" r="22.4" class="c21 a9"/><circle cx="4107" cy="2158" r="22.4" class="c14 a9"/><circle cx="4152" cy="2219" r="22.4" class="c19 a9"/><circle cx="4080" cy="2119" r="22.4" class="c12 a9"/><circle cx="4053" cy="2080" r="22.4" class="c9 a9"/><circle cx="4197" cy="2281" r="22.4" class="c23 a9"/><circle cx="4134" cy="2193" r="22.4" class="c17 a9"/><circle cx="4179" cy="2255" r="22.4" class="c21 a9"/><circle cx="4046" cy="2063" r="22.4" class="c7 a9"/><circle cx="4089" cy="2130" r="22.4" class="c12 a9"/><circle cx="4116" cy="2167" r="22.4" class="c15 a9"/><circle cx="4161" cy="2229" r="22.4" class="c19 a9"/><circle cx="4062" cy="2091" r="22.4" class="c9 a9"/><circle cx="4023" cy="2014" r="22.4" class="c4 a9"/><circle cx="4206" cy="2290" r="22.4" class="c24 a9"/><circle cx="4038" cy="2045" r="22.4" class="c6 a9"/><circle cx="4143" cy="2202" r="22.4" class="c17 a9"/><circle cx="4098" cy="2140" r="22.4" class="c13 a9"/><circle cx="4188" cy="2264" r="22.4" class="c22 a9"/><circle cx="4125" cy="2176" r="22.4" class="c15 a9"/><circle cx="4071" cy="2101" r="22.4" class="c10 a9"/><circle cx="4031" cy="2028" r="22.4" class="c5 a9"/><circle cx="4170" cy="2238" r="22.4" class="c20 a9"/><circle cx="4107" cy="2150" r="22.4" class="c14 a9"/><circle cx="4215" cy="2300" r="22.4" class="c24 a9"/><circle cx="4152" cy="2212" r="22.4" class="c18 a9"/><circle cx="4080" cy="2111" r="22.4" class="c11 a9"/><circle cx="4053" cy="2073" r="22.4" class="c8 a9"/><circle cx="4197" cy="2273" r="22.4" class="c22 a9"/><circle cx="4134" cy="2185" r="22.4" class="c16 a9"/><circle cx="4179" cy="2247" r="22.4" class="c21 a9"/><circle cx="4046" cy="2055" r="22.4" class="c7 a9"/><circle cx="4089" cy="2122" r="22.4" class="c11 a9"/><circle cx="4116" cy="2159" r="22.4" class="c14 a9"/><circle cx="4161" cy="2221" r="22.4" class="c19 a9"/><circle cx="4062" cy="2083" r="22.4" class="c9 a9"/><circle cx="4206" cy="2283" r="22.4" class="c23 a9"/><circle cx="4038" cy="2037" r="22.4" class="c5 a9"/><circle cx="4143" cy="2195" r="22.4" class="c17 a9"/><circle cx="4098" cy="2132" r="22.4" class="c12 a9"/><circle cx="4188" cy="2256" r="22.4" class="c21 a9"/><circle cx="4125" cy="2168" r="22.4" class="c15 a9"/><circle cx="4071" cy="2093" r="22.4" class="c9 a9"/><circle cx="4031" cy="2020" r="22.4" class="c4 a9"/><circle cx="4170" cy="2230" r="22.4" class="c19 a9"/><circle cx="4107" cy="2142" r="22.4" class="c13 a9"/><circle cx="4215" cy="2292" r="22.4" class="c24 a9"/><circle cx="4152" cy="2204" r="22.4" class="c17 a9"/><circle cx="4080" cy="2104" r="22.4" class="c10 a9"/><circle cx="4053" cy="2065" r="22.4" class="c7 a9"/><circle cx="4197" cy="2266" r="22.4" class="c22 a9"/><circle cx="4134" cy="2178" r="22.4" class="c15 a9"/><circle cx="4179" cy="2239" r="22.4" class="c20 a9"/><circle cx="4046" cy="2047" r="22.4" class="c6 a9"/><circle cx="4089" cy="2114" r="22.4" class="c11 a9"/><circle cx="4116" cy="2151" r="22.4" class="c13 a9"/><circle cx="4224" cy="2301" r="22.4" class="c24 a9"/><circle cx="4161" cy="2213" r="22.4" class="c18 a9"/><circle cx="4062" cy="2075" r="22.4" class="c8 a9"/><circle cx="4206" cy="2275" r="22.4" class="c22 a9"/><circle cx="4038" cy="2030" r="22.4" class="c5 a9"/><circle cx="4143" cy="2187" r="22.4" class="c16 a9"/><circle cx="4098" cy="2124" r="22.4" class="c11 a9"/><circle cx="4188" cy="2249" r="22.4" class="c20 a9"/><circle cx="4125" cy="2161" r="22.4" class="c14 a9"/><circle cx="4071" cy="2086" r="22.4" class="c9 a9"/><circle cx="4170" cy="2223" r="22.4" class="c18 a9"/><circle cx="4107" cy="2134" r="22.4" class="c12 a9"/><circle cx="4215" cy="2284" r="22.4" class="c23 a9"/><circle cx="4152" cy="2196" r="22.4" class="c17 a9"/><circle cx="4080" cy="2096" r="22.4" class="c9 a9"/><circle cx="4053" cy="2057" r="22.4" class="c7 a9"/><circle cx="4197" cy="2258" r="22.4" class="c21 a9"/><circle cx="4134" cy="2170" r="22.4" class="c15 a9"/><circle cx="4179" cy="2232" r="22.4" class="c19 a9"/><circle cx="4046" cy="2040" r="22.4" class="c5 a9"/><circle cx="4089" cy="2106" r="22.4" class="c10 a9"/><circle cx="4116" cy="2144" r="22.4" class="c13 a9"/><circle cx="4224" cy="2294" r="22.4" class="c24 a9"/><circle cx="4161" cy="2206" r="22.4" class="c17 a9"/><circle cx="4062" cy="2068" r="22.4" class="c7 a9"/><circle cx="4206" cy="2267" r="22.4" class="c22 a9"/><circle cx="4038" cy="2022" r="22.4" class="c4 a9"/><circle cx="4143" cy="2179" r="22.4" class="c15 a9"/><circle cx="4098" cy="2117" r="22.4" class="c11 a9"/><circle cx="4188" cy="2241" r="22.4" class="c20 a9"/><circle cx="4125" cy="2153" r="22.4" class="c13 a9"/><circle cx="4071" cy="2078" r="22.4" class="c8 a9"/><circle cx="4233" cy="2303" r="22.4" class="c24 a9"/><circle cx="4170" cy="2215" r="22.4" class="c18 a9"/><circle cx="4107" cy="2127" r="22.4" class="c11 a9"/><circle cx="4215" cy="2277" r="22.4" class="c22 a9"/><circle cx="4152" cy="2189" r="22.4" class="c16 a9"/><circle cx="4080" cy="2088" r="22.4" class="c9 a9"/><circle cx="4053" cy="2050" r="22.4" class="c6 a9"/><circle cx="4197" cy="2250" r="22.4" class="c20 a9"/><circle cx="4134" cy="2162" r="22.4" class="c14 a9"/><circle cx="4179" cy="2224" r="22.4" class="c18 a9"/><circle cx="4046" cy="2032" r="22.4" class="c4 a9"/><circle cx="4089" cy="2099" r="22.4" class="c9 a9"/><circle cx="4116" cy="2136" r="22.4" class="c12 a9"/><circle cx="4224" cy="2286" r="22.4" class="c23 a9"/><circle cx="4161" cy="2198" r="22.4" class="c16 a9"/><circle cx="4062" cy="2060" r="22.4" class="c6 a9"/><circle cx="4206" cy="2260" r="22.4" class="c21 a9"/><circle cx="4143" cy="2172" r="22.4" class="c14 a9"/><circle cx="4098" cy="2109" r="22.4" class="c10 a9"/><circle cx="4188" cy="2233" r="22.4" class="c19 a9"/><circle cx="4125" cy="2145" r="22.4" class="c13 a9"/><circle cx="4071" cy="2070" r="22.4" class="c7 a9"/><circle cx="4233" cy="2295" r="22.4" class="c23 a9"/><circle cx="4170" cy="2207" r="22.4" class="c17 a9"/><circle cx="4107" cy="2119" r="22.4" class="c11 a9"/><circle cx="4215" cy="2269" r="22.4" class="c21 a9"/><circle cx="4152" cy="2181" r="22.4" class="c15 a9"/><circle cx="4080" cy="2081" r="22.4" class="c8 a9"/><circle cx="4053" cy="2042" r="22.4" class="c5 a9"/><circle cx="4197" cy="2243" r="22.4" class="c20 a9"/><circle cx="4134" cy="2155" r="22.4" class="c13 a9"/><circle cx="4179" cy="2216" r="22.4" class="c18 a9"/><circle cx="4045" cy="2024" r="22.4" class="c4 a9"/><circle cx="4242" cy="2304" r="22.4" class="c24 a9"/><circle cx="4089" cy="2091" r="22.4" class="c9 a9"/><circle cx="4116" cy="2128" r="22.4" class="c11 a9"/><circle cx="4224" cy="2278" r="22.4" class="c22 a9"/><circle cx="4161" cy="2190" r="22.4" class="c16 a9"/><circle cx="4062" cy="2052" r="22.4" class="c6 a9"/><circle cx="4206" cy="2252" r="22.4" class="c20 a9"/><circle cx="4143" cy="2164" r="22.4" class="c14 a9"/><circle cx="4098" cy="2101" r="22.4" class="c9 a9"/><circle cx="4188" cy="2226" r="22.4" class="c18 a9"/><circle cx="4125" cy="2138" r="22.4" class="c12 a9"/><circle cx="4070" cy="2063" r="22.4" class="c6 a9"/><circle cx="4233" cy="2287" r="22.4" class="c23 a9"/><circle cx="4170" cy="2199" r="22.4" class="c16 a9"/><circle cx="4107" cy="2111" r="22.4" class="c10 a9"/><circle cx="4215" cy="2261" r="22.4" class="c21 a9"/><circle cx="4152" cy="2173" r="22.4" class="c14 a9"/><circle cx="4079" cy="2073" r="22.4" class="c7 a9"/><circle cx="4053" cy="2034" r="22.4" class="c4 a9"/><circle cx="4197" cy="2235" r="22.4" class="c19 a9"/><circle cx="4134" cy="2147" r="22.4" class="c12 a9"/><circle cx="4179" cy="2209" r="22.4" class="c17 a9"/><circle cx="4242" cy="2296" r="22.4" class="c23 a9"/><circle cx="4088" cy="2083" r="22.4" class="c8 a9"/><circle cx="4115" cy="2121" r="22.4" class="c11 a9"/><circle cx="4224" cy="2271" r="22.4" class="c21 a9"/><circle cx="4161" cy="2182" r="22.4" class="c15 a9"/><circle cx="4061" cy="2044" r="22.4" class="c5 a9"/><circle cx="4206" cy="2244" r="22.4" class="c19 a9"/><circle cx="4142" cy="2156" r="22.4" class="c13 a9"/><circle cx="4097" cy="2094" r="22.4" class="c9 a9"/><circle cx="4188" cy="2218" r="22.4" class="c17 a9"/><circle cx="4124" cy="2130" r="22.4" class="c11 a9"/><circle cx="4070" cy="2055" r="22.4" class="c6 a9"/><circle cx="4251" cy="2305" r="22.4" class="c24 a9"/><circle cx="4233" cy="2280" r="22.4" class="c22 a9"/><circle cx="4169" cy="2192" r="22.4" class="c16 a9"/><circle cx="4106" cy="2104" r="22.4" class="c9 a9"/><circle cx="4215" cy="2254" r="22.4" class="c20 a9"/><circle cx="4151" cy="2165" r="22.4" class="c14 a9"/><circle cx="4079" cy="2065" r="22.4" class="c6 a9"/><circle cx="4053" cy="2026" r="22.4" class="c4 a9"/><circle cx="4196" cy="2227" r="22.4" class="c18 a9"/><circle cx="4133" cy="2139" r="22.4" class="c12 a9"/><circle cx="4178" cy="2201" r="22.4" class="c16 a9"/><circle cx="4242" cy="2288" r="22.4" class="c22 a9"/><circle cx="4088" cy="2076" r="22.4" class="c7 a9"/><circle cx="4115" cy="2113" r="22.4" class="c10 a9"/><circle cx="4223" cy="2263" r="22.4" class="c21 a9"/><circle cx="4160" cy="2175" r="22.4" class="c14 a9"/><circle cx="4061" cy="2037" r="22.4" class="c4 a9"/><circle cx="4205" cy="2237" r="22.4" class="c19 a9"/><circle cx="4142" cy="2149" r="22.4" class="c12 a9"/><circle cx="4097" cy="2086" r="22.4" class="c8 a9"/><circle cx="4187" cy="2210" r="22.4" class="c17 a9"/><circle cx="4124" cy="2122" r="22.4" class="c10 a9"/><circle cx="4070" cy="2047" r="22.4" class="c5 a9"/><circle cx="4251" cy="2297" r="22.4" class="c23 a9"/><circle cx="4232" cy="2272" r="22.4" class="c21 a9"/><circle cx="4169" cy="2184" r="22.4" class="c15 a9"/><circle cx="4106" cy="2096" r="22.4" class="c8 a9"/><circle cx="4214" cy="2246" r="22.4" class="c19 a9"/><circle cx="4151" cy="2158" r="22.4" class="c13 a9"/><circle cx="4079" cy="2057" r="22.4" class="c6 a9"/><circle cx="4196" cy="2220" r="22.4" class="c17 a9"/><circle cx="5620" cy="2414" r="22.4" class="c39 a9"/><circle cx="4133" cy="2132" r="22.4" class="c11 a9"/><circle cx="4178" cy="2193" r="22.4" class="c15 a9"/><circle cx="4259" cy="2306" r="22.4" class="c24 a9"/><circle cx="4241" cy="2281" r="22.4" class="c22 a9"/><circle cx="4088" cy="2068" r="22.4" class="c6 a9"/><circle cx="4115" cy="2105" r="22.4" class="c9 a9"/><circle cx="4223" cy="2255" r="22.4" class="c20 a9"/><circle cx="4160" cy="2167" r="22.4" class="c13 a9"/><circle cx="4061" cy="2029" r="22.4" class="c4 a9"/><circle cx="4205" cy="2229" r="22.4" class="c18 a9"/><circle cx="4142" cy="2141" r="22.4" class="c12 a9"/><circle cx="4097" cy="2078" r="22.4" class="c7 a9"/><circle cx="4187" cy="2203" r="22.4" class="c16 a9"/><circle cx="4124" cy="2115" r="22.4" class="c10 a9"/><circle cx="4070" cy="2039" r="22.4" class="c4 a9"/><circle cx="4250" cy="2289" r="22.4" class="c22 a9"/><circle cx="4232" cy="2264" r="22.4" class="c20 a9"/><circle cx="4169" cy="2176" r="22.4" class="c14 a9"/><circle cx="4106" cy="2088" r="22.4" class="c8 a9"/><circle cx="4214" cy="2238" r="22.4" class="c19 a9"/><circle cx="4151" cy="2150" r="22.4" class="c12 a9"/><circle cx="4079" cy="2050" r="22.4" class="c5 a9"/><circle cx="4196" cy="2212" r="22.4" class="c17 a9"/><circle cx="4133" cy="2124" r="22.4" class="c10 a9"/><circle cx="4178" cy="2186" r="22.4" class="c15 a9"/><circle cx="4259" cy="2298" r="22.4" class="c23 a9"/><circle cx="4241" cy="2273" r="22.4" class="c21 a9"/><circle cx="4088" cy="2060" r="22.4" class="c6 a9"/><circle cx="4115" cy="2097" r="22.4" class="c8 a9"/><circle cx="4223" cy="2248" r="22.4" class="c19 a9"/><circle cx="4160" cy="2159" r="22.4" class="c13 a9"/><circle cx="4205" cy="2221" r="22.4" class="c17 a9"/><circle cx="4142" cy="2133" r="22.4" class="c11 a9"/><circle cx="4097" cy="2071" r="22.4" class="c6 a9"/><circle cx="4187" cy="2195" r="22.4" class="c15 a9"/><circle cx="4124" cy="2107" r="22.4" class="c9 a9"/><circle cx="4070" cy="2032" r="22.4" class="c3 a9"/><circle cx="4268" cy="2307" r="22.4" class="c23 a9"/><circle cx="4250" cy="2282" r="22.4" class="c22 a9"/><circle cx="4232" cy="2257" r="22.4" class="c20 a9"/><circle cx="4169" cy="2169" r="22.4" class="c13 a9"/><circle cx="4106" cy="2080" r="22.4" class="c7 a9"/><circle cx="4214" cy="2231" r="22.4" class="c18 a9"/><circle cx="4151" cy="2142" r="22.4" class="c11 a9"/><circle cx="4079" cy="2042" r="22.4" class="c4 a9"/><circle cx="4196" cy="2204" r="22.4" class="c16 a9"/><circle cx="4133" cy="2116" r="22.4" class="c10 a9"/><circle cx="4178" cy="2178" r="22.4" class="c14 a9"/><circle cx="4259" cy="2290" r="22.4" class="c22 a9"/><circle cx="4241" cy="2265" r="22.4" class="c20 a9"/><circle cx="4088" cy="2052" r="22.4" class="c5 a9"/><circle cx="4115" cy="2090" r="22.4" class="c8 a9"/><circle cx="4223" cy="2240" r="22.4" class="c18 a9"/><circle cx="4160" cy="2152" r="22.4" class="c12 a9"/><circle cx="4205" cy="2214" r="22.4" class="c16 a9"/><circle cx="4142" cy="2125" r="22.4" class="c10 a9"/><circle cx="4097" cy="2063" r="22.4" class="c6 a9"/><circle cx="4187" cy="2187" r="22.4" class="c15 a9"/><circle cx="4124" cy="2099" r="22.4" class="c8 a9"/><circle cx="4268" cy="2299" r="22.4" class="c23 a9"/><circle cx="4250" cy="2274" r="22.4" class="c21 a9"/><circle cx="4232" cy="2249" r="22.4" class="c19 a9"/><circle cx="4169" cy="2161" r="22.4" class="c13 a9"/><circle cx="4106" cy="2073" r="22.4" class="c6 a9"/><circle cx="4214" cy="2223" r="22.4" class="c17 a9"/><circle cx="4151" cy="2135" r="22.4" class="c11 a9"/><circle cx="4079" cy="2034" r="22.4" class="c3 a9"/><circle cx="4196" cy="2197" r="22.4" class="c15 a9"/><circle cx="4133" cy="2108" r="22.4" class="c9 a9"/><circle cx="4178" cy="2170" r="22.4" class="c13 a9"/><circle cx="4277" cy="2308" r="22.4" class="c23 a9"/><circle cx="4259" cy="2283" r="22.4" class="c21 a9"/><circle cx="4241" cy="2258" r="22.4" class="c20 a9"/><circle cx="4088" cy="2045" r="22.4" class="c4 a9"/><circle cx="4115" cy="2082" r="22.4" class="c7 a9"/><circle cx="4223" cy="2232" r="22.4" class="c18 a9"/><circle cx="4160" cy="2144" r="22.4" class="c11 a9"/><circle cx="4205" cy="2206" r="22.4" class="c16 a9"/><circle cx="4142" cy="2118" r="22.4" class="c9 a9"/><circle cx="4097" cy="2055" r="22.4" class="c5 a9"/><circle cx="4187" cy="2180" r="22.4" class="c14 a9"/><circle cx="4124" cy="2091" r="22.4" class="c7 a9"/><circle cx="4268" cy="2291" r="22.4" class="c22 a9"/><circle cx="4250" cy="2266" r="22.4" class="c20 a9"/><circle cx="4232" cy="2241" r="22.4" class="c18 a9"/><circle cx="4169" cy="2153" r="22.4" class="c12 a9"/><circle cx="4106" cy="2065" r="22.4" class="c6 a9"/><circle cx="4214" cy="2215" r="22.4" class="c16 a9"/><circle cx="4151" cy="2127" r="22.4" class="c10 a9"/><circle cx="4196" cy="2189" r="22.4" class="c14 a9"/><circle cx="4133" cy="2101" r="22.4" class="c8 a9"/><circle cx="4178" cy="2163" r="22.4" class="c12 a9"/><circle cx="4277" cy="2300" r="22.4" class="c22 a9"/><circle cx="4259" cy="2275" r="22.4" class="c21 a9"/><circle cx="4241" cy="2250" r="22.4" class="c19 a9"/><circle cx="4088" cy="2037" r="22.4" class="c3 a9"/><circle cx="4115" cy="2074" r="22.4" class="c6 a9"/><circle cx="4223" cy="2225" r="22.4" class="c17 a9"/><circle cx="4160" cy="2136" r="22.4" class="c11 a9"/><circle cx="4205" cy="2198" r="22.4" class="c15 a9"/><circle cx="4142" cy="2110" r="22.4" class="c9 a9"/><circle cx="4097" cy="2047" r="22.4" class="c4 a9"/><circle cx="4187" cy="2172" r="22.4" class="c13 a9"/><circle cx="4124" cy="2084" r="22.4" class="c7 a9"/><circle cx="4286" cy="2309" r="22.4" class="c23 a9"/><circle cx="4268" cy="2284" r="22.4" class="c21 a9"/><circle cx="4250" cy="2259" r="22.4" class="c19 a9"/><circle cx="4232" cy="2233" r="22.4" class="c18 a9"/><circle cx="4169" cy="2146" r="22.4" class="c11 a9"/><circle cx="4106" cy="2057" r="22.4" class="c5 a9"/><circle cx="4214" cy="2208" r="22.4" class="c16 a9"/><circle cx="4151" cy="2119" r="22.4" class="c9 a9"/><circle cx="4196" cy="2181" r="22.4" class="c14 a9"/><circle cx="4133" cy="2093" r="22.4" class="c7 a9"/><circle cx="4178" cy="2155" r="22.4" class="c12 a9"/><circle cx="4277" cy="2293" r="22.4" class="c22 a9"/><circle cx="4259" cy="2267" r="22.4" class="c20 a9"/><circle cx="4241" cy="2242" r="22.4" class="c18 a9"/><circle cx="4115" cy="2067" r="22.4" class="c5 a9"/><circle cx="4223" cy="2217" r="22.4" class="c16 a9"/><circle cx="4160" cy="2129" r="22.4" class="c10 a9"/><circle cx="4205" cy="2191" r="22.4" class="c14 a9"/><circle cx="4142" cy="2102" r="22.4" class="c8 a9"/><circle cx="4097" cy="2040" r="22.4" class="c3 a9"/><circle cx="4187" cy="2164" r="22.4" class="c12 a9"/><circle cx="4124" cy="2076" r="22.4" class="c6 a9"/><circle cx="4286" cy="2301" r="22.4" class="c22 a9"/><circle cx="4268" cy="2276" r="22.4" class="c20 a9"/><circle cx="4250" cy="2251" r="22.4" class="c19 a9"/><circle cx="4232" cy="2226" r="22.4" class="c17 a9"/><circle cx="4169" cy="2138" r="22.4" class="c10 a9"/><circle cx="4106" cy="2050" r="22.4" class="c4 a9"/><circle cx="4214" cy="2200" r="22.4" class="c15 a9"/><circle cx="4151" cy="2112" r="22.4" class="c9 a9"/><circle cx="4196" cy="2174" r="22.4" class="c13 a9"/><circle cx="4133" cy="2085" r="22.4" class="c7 a9"/><circle cx="4295" cy="2310" r="22.4" class="c23 a9"/><circle cx="4178" cy="2147" r="22.4" class="c11 a9"/><circle cx="4277" cy="2285" r="22.4" class="c21 a9"/><circle cx="4259" cy="2260" r="22.4" class="c19 a9"/><circle cx="4241" cy="2234" r="22.4" class="c17 a9"/><circle cx="4115" cy="2059" r="22.4" class="c5 a9"/><circle cx="4223" cy="2209" r="22.4" class="c15 a9"/><circle cx="4160" cy="2121" r="22.4" class="c9 a9"/><circle cx="4205" cy="2183" r="22.4" class="c14 a9"/><circle cx="4142" cy="2095" r="22.4" class="c7 a9"/><circle cx="4187" cy="2156" r="22.4" class="c12 a9"/><circle cx="4304" cy="2319" r="22.4" class="c23 a10"/><circle cx="4124" cy="2068" r="22.4" class="c5 a10"/><circle cx="4286" cy="2294" r="22.4" class="c21 a10"/><circle cx="4268" cy="2268" r="22.4" class="c20 a10"/><circle cx="4250" cy="2243" r="22.4" class="c18 a10"/><circle cx="4232" cy="2218" r="22.4" class="c16 a10"/><circle cx="4169" cy="2130" r="22.4" class="c10 a10"/><circle cx="4106" cy="2042" r="22.4" class="c3 a10"/><circle cx="4214" cy="2192" r="22.4" class="c14 a10"/><circle cx="4151" cy="2104" r="22.4" class="c8 a10"/><circle cx="4196" cy="2166" r="22.4" class="c12 a10"/><circle cx="4133" cy="2077" r="22.4" class="c6 a10"/><circle cx="4295" cy="2302" r="22.4" class="c22 a10"/><circle cx="4178" cy="2139" r="22.4" class="c10 a10"/><circle cx="4277" cy="2277" r="22.4" class="c20 a10"/><circle cx="4259" cy="2252" r="22.4" class="c18 a10"/><circle cx="4241" cy="2227" r="22.4" class="c17 a10"/><circle cx="4115" cy="2051" r="22.4" class="c4 a10"/><circle cx="4223" cy="2201" r="22.4" class="c15 a10"/><circle cx="4160" cy="2113" r="22.4" class="c8 a10"/><circle cx="4205" cy="2175" r="22.4" class="c13 a10"/><circle cx="4142" cy="2087" r="22.4" class="c6 a10"/><circle cx="4187" cy="2149" r="22.4" class="c11 a10"/><circle cx="4304" cy="2311" r="22.4" class="c23 a10"/><circle cx="4124" cy="2060" r="22.4" class="c5 a10"/><circle cx="4286" cy="2286" r="22.4" class="c21 a10"/><circle cx="4268" cy="2261" r="22.4" class="c19 a10"/><circle cx="4250" cy="2236" r="22.4" class="c17 a10"/><circle cx="4232" cy="2210" r="22.4" class="c15 a10"/><circle cx="4169" cy="2122" r="22.4" class="c9 a10"/><circle cx="4214" cy="2184" r="22.4" class="c13 a10"/><circle cx="4151" cy="2096" r="22.4" class="c7 a10"/><circle cx="4196" cy="2158" r="22.4" class="c11 a10"/><circle cx="4133" cy="2070" r="22.4" class="c5 a10"/><circle cx="4313" cy="2320" r="22.4" class="c23 a10"/><circle cx="4295" cy="2295" r="22.4" class="c21 a10"/><circle cx="4178" cy="2132" r="22.4" class="c10 a10"/><circle cx="4277" cy="2269" r="22.4" class="c19 a10"/><circle cx="4259" cy="2244" r="22.4" class="c18 a10"/><circle cx="4241" cy="2219" r="22.4" class="c16 a10"/><circle cx="4115" cy="2043" r="22.4" class="c3 a10"/><circle cx="4223" cy="2194" r="22.4" class="c14 a10"/><circle cx="4160" cy="2105" r="22.4" class="c8 a10"/><circle cx="4205" cy="2167" r="22.4" class="c12 a10"/><circle cx="4142" cy="2079" r="22.4" class="c6 a10"/><circle cx="4187" cy="2141" r="22.4" class="c10 a10"/><circle cx="4304" cy="2303" r="22.4" class="c22 a10"/><circle cx="4124" cy="2053" r="22.4" class="c4 a10"/><circle cx="4286" cy="2278" r="22.4" class="c20 a10"/><circle cx="4268" cy="2253" r="22.4" class="c18 a10"/><circle cx="4250" cy="2228" r="22.4" class="c16 a10"/><circle cx="4232" cy="2203" r="22.4" class="c15 a10"/><circle cx="4169" cy="2115" r="22.4" class="c8 a10"/><circle cx="4214" cy="2177" r="22.4" class="c13 a10"/><circle cx="4151" cy="2088" r="22.4" class="c6 a10"/><circle cx="4196" cy="2150" r="22.4" class="c11 a10"/><circle cx="4133" cy="2062" r="22.4" class="c4 a10"/><circle cx="4313" cy="2312" r="22.4" class="c22 a10"/><circle cx="4295" cy="2287" r="22.4" class="c21 a10"/><circle cx="4178" cy="2124" r="22.4" class="c9 a10"/><circle cx="4277" cy="2262" r="22.4" class="c19 a10"/><circle cx="4259" cy="2237" r="22.4" class="c17 a10"/><circle cx="4241" cy="2211" r="22.4" class="c15 a10"/><circle cx="4223" cy="2186" r="22.4" class="c13 a10"/><circle cx="4160" cy="2098" r="22.4" class="c7 a10"/><circle cx="4205" cy="2160" r="22.4" class="c11 a10"/><circle cx="4142" cy="2071" r="22.4" class="c5 a10"/><circle cx="4187" cy="2133" r="22.4" class="c9 a10"/><circle cx="4322" cy="2321" r="22.4" class="c23 a10"/><circle cx="4304" cy="2296" r="22.4" class="c21 a10"/><circle cx="4124" cy="2045" r="22.4" class="c3 a10"/><circle cx="4286" cy="2271" r="22.4" class="c19 a10"/><circle cx="4268" cy="2245" r="22.4" class="c17 a10"/><circle cx="4250" cy="2220" r="22.4" class="c16 a10"/><circle cx="4232" cy="2195" r="22.4" class="c14 a10"/><circle cx="4169" cy="2107" r="22.4" class="c8 a10"/><circle cx="4214" cy="2169" r="22.4" class="c12 a10"/><circle cx="4151" cy="2081" r="22.4" class="c6 a10"/><circle cx="4196" cy="2143" r="22.4" class="c10 a10"/><circle cx="4133" cy="2054" r="22.4" class="c4 a10"/><circle cx="4313" cy="2304" r="22.4" class="c22 a10"/><circle cx="4295" cy="2279" r="22.4" class="c20 a10"/><circle cx="4178" cy="2116" r="22.4" class="c8 a10"/><circle cx="4277" cy="2254" r="22.4" class="c18 a10"/><circle cx="4259" cy="2229" r="22.4" class="c16 a10"/><circle cx="4241" cy="2204" r="22.4" class="c14 a10"/><circle cx="4223" cy="2178" r="22.4" class="c13 a10"/><circle cx="4160" cy="2090" r="22.4" class="c6 a10"/><circle cx="4205" cy="2152" r="22.4" class="c11 a10"/><circle cx="4142" cy="2064" r="22.4" class="c4 a10"/><circle cx="4187" cy="2126" r="22.4" class="c9 a10"/><circle cx="4322" cy="2313" r="22.4" class="c22 a10"/><circle cx="4304" cy="2288" r="22.4" class="c20 a10"/><circle cx="4286" cy="2263" r="22.4" class="c19 a10"/><circle cx="4268" cy="2238" r="22.4" class="c17 a10"/><circle cx="4250" cy="2212" r="22.4" class="c15 a10"/><circle cx="4232" cy="2187" r="22.4" class="c13 a10"/><circle cx="4169" cy="2099" r="22.4" class="c7 a10"/><circle cx="4214" cy="2161" r="22.4" class="c11 a10"/><circle cx="4151" cy="2073" r="22.4" class="c5 a10"/><circle cx="4196" cy="2135" r="22.4" class="c9 a10"/><circle cx="4133" cy="2047" r="22.4" class="c3 a10"/><circle cx="4331" cy="2322" r="22.4" class="c23 a10"/><circle cx="4313" cy="2297" r="22.4" class="c21 a10"/><circle cx="4295" cy="2272" r="22.4" class="c19 a10"/><circle cx="4178" cy="2109" r="22.4" class="c7 a10"/><circle cx="4277" cy="2246" r="22.4" class="c17 a10"/><circle cx="4259" cy="2221" r="22.4" class="c15 a10"/><circle cx="4241" cy="2196" r="22.4" class="c14 a10"/><circle cx="4223" cy="2171" r="22.4" class="c12 a10"/><circle cx="4160" cy="2082" r="22.4" class="c5 a10"/><circle cx="4205" cy="2144" r="22.4" class="c10 a10"/><circle cx="4142" cy="2056" r="22.4" class="c4 a10"/><circle cx="4187" cy="2118" r="22.4" class="c8 a10"/><circle cx="4322" cy="2306" r="22.4" class="c21 a10"/><circle cx="4304" cy="2280" r="22.4" class="c20 a10"/><circle cx="4286" cy="2255" r="22.4" class="c18 a10"/><circle cx="4268" cy="2230" r="22.4" class="c16 a10"/><circle cx="4250" cy="2205" r="22.4" class="c14 a10"/><circle cx="4232" cy="2180" r="22.4" class="c12 a10"/><circle cx="4169" cy="2092" r="22.4" class="c6 a10"/><circle cx="4214" cy="2154" r="22.4" class="c11 a10"/><circle cx="4151" cy="2065" r="22.4" class="c4 a10"/><circle cx="4196" cy="2127" r="22.4" class="c9 a10"/><circle cx="4331" cy="2314" r="22.4" class="c22 a10"/><circle cx="4313" cy="2289" r="22.4" class="c20 a10"/><circle cx="4295" cy="2264" r="22.4" class="c18 a10"/><circle cx="4178" cy="2101" r="22.4" class="c7 a10"/><circle cx="4277" cy="2239" r="22.4" class="c17 a10"/><circle cx="4259" cy="2213" r="22.4" class="c15 a10"/><circle cx="4241" cy="2188" r="22.4" class="c13 a10"/><circle cx="4223" cy="2163" r="22.4" class="c11 a10"/><circle cx="4160" cy="2074" r="22.4" class="c5 a10"/><circle cx="4205" cy="2137" r="22.4" class="c9 a10"/><circle cx="4141" cy="2048" r="22.4" class="c3 a10"/><circle cx="4187" cy="2110" r="22.4" class="c7 a10"/><circle cx="4340" cy="2323" r="22.4" class="c23 a10"/><circle cx="4322" cy="2298" r="22.4" class="c21 a10"/><circle cx="4304" cy="2273" r="22.4" class="c19 a10"/><circle cx="4286" cy="2247" r="22.4" class="c17 a10"/><circle cx="4268" cy="2222" r="22.4" class="c15 a10"/><circle cx="4250" cy="2197" r="22.4" class="c13 a10"/><circle cx="4232" cy="2172" r="22.4" class="c12 a10"/><circle cx="4169" cy="2084" r="22.4" class="c5 a10"/><circle cx="4214" cy="2146" r="22.4" class="c10 a10"/><circle cx="4150" cy="2057" r="22.4" class="c3 a10"/><circle cx="4196" cy="2119" r="22.4" class="c8 a10"/><circle cx="4331" cy="2307" r="22.4" class="c21 a10"/><circle cx="4313" cy="2281" r="22.4" class="c19 a10"/><circle cx="4295" cy="2256" r="22.4" class="c18 a10"/><circle cx="4178" cy="2093" r="22.4" class="c6 a10"/><circle cx="4277" cy="2231" r="22.4" class="c16 a10"/><circle cx="4259" cy="2206" r="22.4" class="c14 a10"/><circle cx="4241" cy="2181" r="22.4" class="c12 a10"/><circle cx="4223" cy="2155" r="22.4" class="c10 a10"/><circle cx="4159" cy="2067" r="22.4" class="c4 a10"/><circle cx="4205" cy="2129" r="22.4" class="c8 a10"/><circle cx="4187" cy="2102" r="22.4" class="c7 a10"/><circle cx="4340" cy="2315" r="22.4" class="c22 a10"/><circle cx="4322" cy="2290" r="22.4" class="c20 a10"/><circle cx="4304" cy="2265" r="22.4" class="c18 a10"/><circle cx="4286" cy="2240" r="22.4" class="c16 a10"/><circle cx="4268" cy="2215" r="22.4" class="c15 a10"/><circle cx="4250" cy="2189" r="22.4" class="c13 a10"/><circle cx="4232" cy="2164" r="22.4" class="c11 a10"/><circle cx="4168" cy="2076" r="22.4" class="c5 a10"/><circle cx="4214" cy="2138" r="22.4" class="c9 a10"/><circle cx="4150" cy="2050" r="22.4" class="c3 a10"/><circle cx="4196" cy="2112" r="22.4" class="c7 a10"/><circle cx="4349" cy="2324" r="22.4" class="c22 a10"/><circle cx="4331" cy="2299" r="22.4" class="c21 a10"/><circle cx="4313" cy="2274" r="22.4" class="c19 a10"/><circle cx="4295" cy="2248" r="22.4" class="c17 a10"/><circle cx="4177" cy="2085" r="22.4" class="c5 a10"/><circle cx="4277" cy="2223" r="22.4" class="c15 a10"/><circle cx="4259" cy="2198" r="22.4" class="c13 a10"/><circle cx="4241" cy="2173" r="22.4" class="c11 a10"/><circle cx="4223" cy="2147" r="22.4" class="c10 a10"/><circle cx="4159" cy="2059" r="22.4" class="c3 a10"/><circle cx="4205" cy="2121" r="22.4" class="c8 a10"/><circle cx="4358" cy="2333" r="22.4" class="c23 a10"/><circle cx="4187" cy="2095" r="22.4" class="c6 a10"/><circle cx="4340" cy="2308" r="22.4" class="c21 a10"/><circle cx="4322" cy="2282" r="22.4" class="c19 a10"/><circle cx="4304" cy="2257" r="22.4" class="c17 a10"/><circle cx="4286" cy="2232" r="22.4" class="c16 a10"/><circle cx="4268" cy="2207" r="22.4" class="c14 a10"/><circle cx="4250" cy="2182" r="22.4" class="c12 a10"/><circle cx="4232" cy="2156" r="22.4" class="c10 a10"/><circle cx="4168" cy="2068" r="22.4" class="c4 a10"/><circle cx="4214" cy="2130" r="22.4" class="c8 a10"/><circle cx="4196" cy="2104" r="22.4" class="c6 a10"/><circle cx="4349" cy="2316" r="22.4" class="c22 a10"/><circle cx="4331" cy="2291" r="22.4" class="c20 a10"/><circle cx="4313" cy="2266" r="22.4" class="c18 a10"/><circle cx="4295" cy="2241" r="22.4" class="c16 a10"/><circle cx="4177" cy="2078" r="22.4" class="c4 a10"/><circle cx="4277" cy="2216" r="22.4" class="c14 a10"/><circle cx="4259" cy="2190" r="22.4" class="c13 a10"/><circle cx="4241" cy="2165" r="22.4" class="c11 a10"/><circle cx="4223" cy="2140" r="22.4" class="c9 a10"/><circle cx="4159" cy="2051" r="22.4" class="c3 a10"/><circle cx="4205" cy="2113" r="22.4" class="c7 a10"/><circle cx="4358" cy="2326" r="22.4" class="c22 a10"/><circle cx="4186" cy="2087" r="22.4" class="c5 a10"/><circle cx="4340" cy="2300" r="22.4" class="c20 a10"/><circle cx="4322" cy="2275" r="22.4" class="c19 a10"/><circle cx="4304" cy="2250" r="22.4" class="c17 a10"/><circle cx="4286" cy="2224" r="22.4" class="c15 a10"/><circle cx="4268" cy="2199" r="22.4" class="c13 a10"/><circle cx="4250" cy="2174" r="22.4" class="c11 a10"/><circle cx="4232" cy="2149" r="22.4" class="c9 a10"/><circle cx="4168" cy="2061" r="22.4" class="c3 a10"/><circle cx="4367" cy="2336" r="22.4" class="c23 a10"/><circle cx="4214" cy="2123" r="22.4" class="c8 a10"/><circle cx="4195" cy="2096" r="22.4" class="c6 a10"/><circle cx="4349" cy="2309" r="22.4" class="c21 a10"/><circle cx="4331" cy="2283" r="22.4" class="c19 a10"/><circle cx="4313" cy="2258" r="22.4" class="c17 a10"/><circle cx="4295" cy="2233" r="22.4" class="c15 a10"/><circle cx="4177" cy="2070" r="22.4" class="c4 a10"/><circle cx="4277" cy="2208" r="22.4" class="c14 a10"/><circle cx="4259" cy="2183" r="22.4" class="c12 a10"/><circle cx="4241" cy="2157" r="22.4" class="c10 a10"/><circle cx="4223" cy="2132" r="22.4" class="c8 a10"/><circle cx="4204" cy="2106" r="22.4" class="c6 a10"/><circle cx="4358" cy="2318" r="22.4" class="c21 a10"/><circle cx="4186" cy="2079" r="22.4" class="c4 a10"/><circle cx="4340" cy="2292" r="22.4" class="c20 a10"/><circle cx="4322" cy="2267" r="22.4" class="c18 a10"/><circle cx="4304" cy="2242" r="22.4" class="c16 a10"/><circle cx="5556" cy="2426" r="22.4" class="c36 a10"/><circle cx="4286" cy="2217" r="22.4" class="c14 a10"/><circle cx="4268" cy="2191" r="22.4" class="c12 a10"/><circle cx="4250" cy="2166" r="22.4" class="c11 a10"/><circle cx="4232" cy="2141" r="22.4" class="c9 a10"/><circle cx="4168" cy="2053" r="22.4" class="c2 a10"/><circle cx="4367" cy="2328" r="22.4" class="c22 a10"/><circle cx="4213" cy="2115" r="22.4" class="c7 a10"/><circle cx="4195" cy="2089" r="22.4" class="c5 a10"/><circle cx="4376" cy="2339" r="22.4" class="c23 a10"/><circle cx="4349" cy="2301" r="22.4" class="c20 a10"/><circle cx="4331" cy="2276" r="22.4" class="c18 a10"/><circle cx="4313" cy="2251" r="22.4" class="c17 a10"/><circle cx="4295" cy="2225" r="22.4" class="c15 a10"/><circle cx="4177" cy="2062" r="22.4" class="c3 a10"/><circle cx="4277" cy="2200" r="22.4" class="c13 a10"/><circle cx="4259" cy="2175" r="22.4" class="c11 a10"/><circle cx="4241" cy="2150" r="22.4" class="c9 a10"/><circle cx="4223" cy="2124" r="22.4" class="c7 a10"/><circle cx="4204" cy="2098" r="22.4" class="c6 a10"/><circle cx="4358" cy="2310" r="22.4" class="c21 a10"/><circle cx="4186" cy="2071" r="22.4" class="c4 a10"/><circle cx="4340" cy="2285" r="22.4" class="c19 a10"/><circle cx="4322" cy="2259" r="22.4" class="c17 a10"/><circle cx="4304" cy="2234" r="22.4" class="c15 a10"/><circle cx="5556" cy="2418" r="22.4" class="c35 a10"/><circle cx="4286" cy="2209" r="22.4" class="c13 a10"/><circle cx="4268" cy="2184" r="22.4" class="c12 a10"/><circle cx="4250" cy="2158" r="22.4" class="c10 a10"/><circle cx="4232" cy="2133" r="22.4" class="c8 a10"/><circle cx="4367" cy="2321" r="22.4" class="c21 a10"/><circle cx="4213" cy="2107" r="22.4" class="c6 a10"/><circle cx="4195" cy="2081" r="22.4" class="c4 a10"/><circle cx="4376" cy="2331" r="22.4" class="c22 a10"/><circle cx="4349" cy="2293" r="22.4" class="c19 a10"/><circle cx="4331" cy="2268" r="22.4" class="c18 a10"/><circle cx="4386" cy="2342" r="22.4" class="c23 a10"/><circle cx="4313" cy="2243" r="22.4" class="c16 a10"/><circle cx="4295" cy="2218" r="22.4" class="c14 a10"/><circle cx="4177" cy="2054" r="22.4" class="c2 a10"/><circle cx="4277" cy="2192" r="22.4" class="c12 a10"/><circle cx="4259" cy="2167" r="22.4" class="c10 a10"/><circle cx="4241" cy="2142" r="22.4" class="c9 a10"/><circle cx="4222" cy="2117" r="22.4" class="c7 a10"/><circle cx="4204" cy="2090" r="22.4" class="c5 a10"/><circle cx="4358" cy="2303" r="22.4" class="c20 a10"/><circle cx="4186" cy="2064" r="22.4" class="c3 a10"/><circle cx="4340" cy="2277" r="22.4" class="c18 a10"/><circle cx="4322" cy="2252" r="22.4" class="c16 a10"/><circle cx="4304" cy="2226" r="22.4" class="c15 a10"/><circle cx="5556" cy="2410" r="22.4" class="c35 a10"/><circle cx="4286" cy="2201" r="22.4" class="c13 a10"/><circle cx="4268" cy="2176" r="22.4" class="c11 a10"/><circle cx="4250" cy="2151" r="22.4" class="c9 a10"/><circle cx="4231" cy="2125" r="22.4" class="c7 a10"/><circle cx="4367" cy="2313" r="22.4" class="c21 a10"/><circle cx="4213" cy="2099" r="22.4" class="c5 a10"/><circle cx="4195" cy="2073" r="22.4" class="c3 a10"/><circle cx="4395" cy="2345" r="22.4" class="c23 a10"/><circle cx="4376" cy="2324" r="22.4" class="c21 a10"/><circle cx="4349" cy="2286" r="22.4" class="c19 a10"/><circle cx="4331" cy="2260" r="22.4" class="c17 a10"/><circle cx="4386" cy="2334" r="22.4" class="c22 a10"/><circle cx="4313" cy="2235" r="22.4" class="c15 a10"/><circle cx="4295" cy="2210" r="22.4" class="c13 a10"/><circle cx="4277" cy="2185" r="22.4" class="c11 a10"/><circle cx="4259" cy="2159" r="22.4" class="c10 a10"/><circle cx="4240" cy="2134" r="22.4" class="c8 a10"/><circle cx="4222" cy="2109" r="22.4" class="c6 a10"/><circle cx="4204" cy="2082" r="22.4" class="c4 a10"/><circle cx="4358" cy="2295" r="22.4" class="c19 a10"/><circle cx="4186" cy="2056" r="22.4" class="c2 a10"/><circle cx="4340" cy="2269" r="22.4" class="c17 a10"/><circle cx="4322" cy="2244" r="22.4" class="c16 a10"/><circle cx="4304" cy="2219" r="22.4" class="c14 a10"/><circle cx="5557" cy="2403" r="22.4" class="c34 a10"/><circle cx="4286" cy="2193" r="22.4" class="c12 a10"/><circle cx="4268" cy="2168" r="22.4" class="c10 a10"/><circle cx="4250" cy="2143" r="22.4" class="c8 a10"/><circle cx="4231" cy="2118" r="22.4" class="c7 a10"/><circle cx="4367" cy="2305" r="22.4" class="c20 a10"/><circle cx="4213" cy="2092" r="22.4" class="c5 a10"/><circle cx="4405" cy="2348" r="22.4" class="c23 a10"/><circle cx="4195" cy="2065" r="22.4" class="c3 a10"/><circle cx="4395" cy="2337" r="22.4" class="c22 a10"/><circle cx="4376" cy="2316" r="22.4" class="c21 a10"/><circle cx="4349" cy="2278" r="22.4" class="c18 a10"/><circle cx="4331" cy="2253" r="22.4" class="c16 a10"/><circle cx="4386" cy="2327" r="22.4" class="c21 a10"/><circle cx="4313" cy="2227" r="22.4" class="c14 a10"/><circle cx="4295" cy="2202" r="22.4" class="c13 a10"/><circle cx="4277" cy="2177" r="22.4" class="c11 a10"/><circle cx="4259" cy="2152" r="22.4" class="c9 a10"/><circle cx="4240" cy="2126" r="22.4" class="c7 a10"/><circle cx="4222" cy="2101" r="22.4" class="c5 a10"/><circle cx="4204" cy="2075" r="22.4" class="c3 a10"/><circle cx="4358" cy="2287" r="22.4" class="c19 a10"/><circle cx="4340" cy="2261" r="22.4" class="c17 a10"/><circle cx="4322" cy="2236" r="22.4" class="c15 a10"/><circle cx="4304" cy="2211" r="22.4" class="c13 a10"/><circle cx="4286" cy="2186" r="22.4" class="c11 a10"/><circle cx="4268" cy="2160" r="22.4" class="c9 a10"/><circle cx="4249" cy="2135" r="22.4" class="c8 a10"/><circle cx="4231" cy="2110" r="22.4" class="c6 a10"/><circle cx="4367" cy="2298" r="22.4" class="c19 a10"/><circle cx="4415" cy="2351" r="22.4" class="c23 a10"/><circle cx="4213" cy="2084" r="22.4" class="c4 a10"/><circle cx="4405" cy="2340" r="22.4" class="c22 a10"/><circle cx="4195" cy="2058" r="22.4" class="c2 a10"/><circle cx="4395" cy="2330" r="22.4" class="c22 a10"/><circle cx="4376" cy="2308" r="22.4" class="c20 a10"/><circle cx="4349" cy="2270" r="22.4" class="c17 a10"/><circle cx="4331" cy="2245" r="22.4" class="c15 a10"/><circle cx="4386" cy="2319" r="22.4" class="c21 a10"/><circle cx="4313" cy="2220" r="22.4" class="c14 a10"/><circle cx="4295" cy="2194" r="22.4" class="c12 a10"/><circle cx="4277" cy="2169" r="22.4" class="c10 a10"/><circle cx="4258" cy="2144" r="22.4" class="c8 a10"/><circle cx="4240" cy="2119" r="22.4" class="c6 a10"/><circle cx="4222" cy="2093" r="22.4" class="c5 a10"/><circle cx="4204" cy="2067" r="22.4" class="c3 a10"/><circle cx="4358" cy="2279" r="22.4" class="c18 a10"/><circle cx="4340" cy="2254" r="22.4" class="c16 a10"/><circle cx="4322" cy="2228" r="22.4" class="c14 a10"/><circle cx="4304" cy="2203" r="22.4" class="c12 a10"/><circle cx="4286" cy="2178" r="22.4" class="c11 a10"/><circle cx="4268" cy="2153" r="22.4" class="c9 a10"/><circle cx="4249" cy="2127" r="22.4" class="c7 a10"/><circle cx="4231" cy="2102" r="22.4" class="c5 a10"/><circle cx="4425" cy="2354" r="22.4" class="c23 a10"/><circle cx="4367" cy="2290" r="22.4" class="c19 a10"/><circle cx="4415" cy="2344" r="22.4" class="c22 a10"/><circle cx="4213" cy="2076" r="22.4" class="c3 a10"/><circle cx="4405" cy="2333" r="22.4" class="c22 a10"/><circle cx="5519" cy="2428" r="22.4" class="c35 a10"/><circle cx="4395" cy="2322" r="22.4" class="c21 a10"/><circle cx="4376" cy="2301" r="22.4" class="c19 a10"/><circle cx="4349" cy="2262" r="22.4" class="c17 a10"/><circle cx="4331" cy="2237" r="22.4" class="c15 a10"/><circle cx="4386" cy="2311" r="22.4" class="c20 a10"/><circle cx="4313" cy="2212" r="22.4" class="c13 a10"/><circle cx="4295" cy="2187" r="22.4" class="c11 a10"/><circle cx="4277" cy="2161" r="22.4" class="c9 a10"/><circle cx="4258" cy="2136" r="22.4" class="c7 a10"/><circle cx="4240" cy="2111" r="22.4" class="c6 a10"/><circle cx="4222" cy="2086" r="22.4" class="c4 a10"/><circle cx="4204" cy="2059" r="22.4" class="c2 a10"/><circle cx="4358" cy="2272" r="22.4" class="c17 a10"/><circle cx="4340" cy="2246" r="22.4" class="c15 a10"/><circle cx="4435" cy="2357" r="22.4" class="c23 a10"/><circle cx="4322" cy="2221" r="22.4" class="c13 a10"/><circle cx="4304" cy="2196" r="22.4" class="c12 a10"/><circle cx="4286" cy="2170" r="22.4" class="c10 a10"/><circle cx="4267" cy="2145" r="22.4" class="c8 a10"/><circle cx="4249" cy="2120" r="22.4" class="c6 a10"/><circle cx="4231" cy="2094" r="22.4" class="c4 a10"/><circle cx="4425" cy="2347" r="22.4" class="c22 a10"/><circle cx="4367" cy="2282" r="22.4" class="c18 a10"/><circle cx="4415" cy="2336" r="22.4" class="c22 a10"/><circle cx="4213" cy="2068" r="22.4" class="c2 a10"/><circle cx="4405" cy="2325" r="22.4" class="c21 a10"/><circle cx="5519" cy="2420" r="22.4" class="c34 a10"/><circle cx="4395" cy="2314" r="22.4" class="c20 a10"/><circle cx="4376" cy="2293" r="22.4" class="c19 a10"/><circle cx="4349" cy="2255" r="22.4" class="c16 a10"/><circle cx="4331" cy="2230" r="22.4" class="c14 a10"/><circle cx="4386" cy="2303" r="22.4" class="c19 a10"/><circle cx="4313" cy="2204" r="22.4" class="c12 a10"/><circle cx="4295" cy="2179" r="22.4" class="c10 a10"/><circle cx="4277" cy="2154" r="22.4" class="c9 a10"/><circle cx="4258" cy="2129" r="22.4" class="c7 a10"/><circle cx="4240" cy="2103" r="22.4" class="c5 a10"/><circle cx="4222" cy="2078" r="22.4" class="c3 a10"/><circle cx="4445" cy="2361" r="22.4" class="c23 a10"/><circle cx="4358" cy="2264" r="22.4" class="c16 a10"/><circle cx="4340" cy="2238" r="22.4" class="c15 a10"/><circle cx="4435" cy="2350" r="22.4" class="c23 a10"/><circle cx="4322" cy="2213" r="22.4" class="c13 a10"/><circle cx="4304" cy="2188" r="22.4" class="c11 a10"/><circle cx="4286" cy="2163" r="22.4" class="c9 a10"/><circle cx="4267" cy="2137" r="22.4" class="c7 a10"/><circle cx="4249" cy="2112" r="22.4" class="c5 a10"/><circle cx="4231" cy="2087" r="22.4" class="c4 a10"/><circle cx="4425" cy="2339" r="22.4" class="c22 a10"/><circle cx="4367" cy="2275" r="22.4" class="c17 a10"/><circle cx="4415" cy="2328" r="22.4" class="c21 a10"/><circle cx="4213" cy="2061" r="22.4" class="c2 a10"/><circle cx="4405" cy="2317" r="22.4" class="c20 a10"/><circle cx="5519" cy="2412" r="22.4" class="c34 a10"/><circle cx="4395" cy="2307" r="22.4" class="c19 a10"/><circle cx="4376" cy="2285" r="22.4" class="c18 a10"/><circle cx="4349" cy="2247" r="22.4" class="c15 a10"/><circle cx="4331" cy="2222" r="22.4" class="c13 a10"/><circle cx="4386" cy="2296" r="22.4" class="c19 a10"/><circle cx="4313" cy="2197" r="22.4" class="c11 a10"/><circle cx="4295" cy="2171" r="22.4" class="c10 a10"/><circle cx="4276" cy="2146" r="22.4" class="c8 a10"/><circle cx="4258" cy="2121" r="22.4" class="c6 a10"/><circle cx="4240" cy="2096" r="22.4" class="c4 a10"/><circle cx="4222" cy="2070" r="22.4" class="c2 a10"/><circle cx="4454" cy="2364" r="22.4" class="c23 a10"/><circle cx="4445" cy="2353" r="22.4" class="c23 a10"/><circle cx="4358" cy="2256" r="22.4" class="c16 a10"/><circle cx="4340" cy="2231" r="22.4" class="c14 a10"/><circle cx="4435" cy="2342" r="22.4" class="c22 a10"/><circle cx="4322" cy="2205" r="22.4" class="c12 a10"/><circle cx="4304" cy="2180" r="22.4" class="c10 a10"/><circle cx="4286" cy="2155" r="22.4" class="c8 a10"/><circle cx="4267" cy="2130" r="22.4" class="c7 a10"/><circle cx="4249" cy="2104" r="22.4" class="c5 a10"/><circle cx="4231" cy="2079" r="22.4" class="c3 a10"/><circle cx="4425" cy="2331" r="22.4" class="c21 a10"/><circle cx="4367" cy="2267" r="22.4" class="c16 a10"/><circle cx="4415" cy="2320" r="22.4" class="c20 a10"/><circle cx="4405" cy="2310" r="22.4" class="c19 a10"/><circle cx="5519" cy="2405" r="22.4" class="c33 a10"/><circle cx="4395" cy="2299" r="22.4" class="c19 a10"/><circle cx="4376" cy="2277" r="22.4" class="c17 a10"/><circle cx="4349" cy="2239" r="22.4" class="c14 a10"/><circle cx="4331" cy="2214" r="22.4" class="c13 a10"/><circle cx="4386" cy="2288" r="22.4" class="c18 a10"/><circle cx="4313" cy="2189" r="22.4" class="c11 a10"/><circle cx="4295" cy="2164" r="22.4" class="c9 a10"/><circle cx="4276" cy="2138" r="22.4" class="c7 a10"/><circle cx="4258" cy="2113" r="22.4" class="c5 a10"/><circle cx="4240" cy="2088" r="22.4" class="c3 a10"/><circle cx="4222" cy="2062" r="22.4" class="c2 a10"/><circle cx="4464" cy="2367" r="22.4" class="c23 a10"/><circle cx="4454" cy="2356" r="22.4" class="c23 a10"/><circle cx="4445" cy="2345" r="22.4" class="c22 a10"/><circle cx="4358" cy="2249" r="22.4" class="c15 a10"/><circle cx="4340" cy="2223" r="22.4" class="c13 a10"/><circle cx="4435" cy="2334" r="22.4" class="c21 a10"/><circle cx="4322" cy="2198" r="22.4" class="c11 a10"/><circle cx="4304" cy="2172" r="22.4" class="c9 a10"/><circle cx="4285" cy="2147" r="22.4" class="c8 a10"/><circle cx="4267" cy="2122" r="22.4" class="c6 a10"/><circle cx="4249" cy="2097" r="22.4" class="c4 a10"/><circle cx="4231" cy="2071" r="22.4" class="c2 a10"/><circle cx="4425" cy="2324" r="22.4" class="c20 a10"/><circle cx="4367" cy="2259" r="22.4" class="c16 a10"/><circle cx="4415" cy="2313" r="22.4" class="c19 a10"/><circle cx="4405" cy="2302" r="22.4" class="c19 a10"/><circle cx="5520" cy="2397" r="22.4" class="c32 a10"/><circle cx="4395" cy="2291" r="22.4" class="c18 a10"/><circle cx="4376" cy="2270" r="22.4" class="c16 a10"/><circle cx="4349" cy="2232" r="22.4" class="c14 a10"/><circle cx="4331" cy="2206" r="22.4" class="c12 a10"/><circle cx="4386" cy="2280" r="22.4" class="c17 a10"/><circle cx="4313" cy="2181" r="22.4" class="c10 a10"/><circle cx="4474" cy="2370" r="22.4" class="c24 a10"/><circle cx="4295" cy="2156" r="22.4" class="c8 a10"/><circle cx="4276" cy="2131" r="22.4" class="c6 a10"/><circle cx="4258" cy="2105" r="22.4" class="c5 a10"/><circle cx="4240" cy="2080" r="22.4" class="c3 a10"/><circle cx="4464" cy="2359" r="22.4" class="c23 a10"/><circle cx="4454" cy="2348" r="22.4" class="c22 a10"/><circle cx="4444" cy="2337" r="22.4" class="c21 a10"/><circle cx="4358" cy="2241" r="22.4" class="c14 a10"/><circle cx="4340" cy="2215" r="22.4" class="c12 a10"/><circle cx="4435" cy="2327" r="22.4" class="c20 a10"/><circle cx="4322" cy="2190" r="22.4" class="c11 a10"/><circle cx="4304" cy="2165" r="22.4" class="c9 a10"/><circle cx="4285" cy="2139" r="22.4" class="c7 a10"/><circle cx="4267" cy="2114" r="22.4" class="c5 a10"/><circle cx="4249" cy="2089" r="22.4" class="c3 a10"/><circle cx="4231" cy="2063" r="22.4" class="c1 a10"/><circle cx="4425" cy="2316" r="22.4" class="c20 a10"/><circle cx="4484" cy="2375" r="22.4" class="c24 a10"/><circle cx="4367" cy="2251" r="22.4" class="c15 a10"/><circle cx="4415" cy="2305" r="22.4" class="c19 a10"/><circle cx="4405" cy="2294" r="22.4" class="c18 a10"/><circle cx="4395" cy="2283" r="22.4" class="c17 a10"/><circle cx="4376" cy="2262" r="22.4" class="c16 a10"/><circle cx="4349" cy="2224" r="22.4" class="c13 a10"/><circle cx="4331" cy="2199" r="22.4" class="c11 a10"/><circle cx="4386" cy="2273" r="22.4" class="c16 a10"/><circle cx="4313" cy="2173" r="22.4" class="c9 a10"/><circle cx="4474" cy="2363" r="22.4" class="c23 a10"/><circle cx="4294" cy="2148" r="22.4" class="c7 a10"/><circle cx="4276" cy="2123" r="22.4" class="c6 a10"/><circle cx="4258" cy="2098" r="22.4" class="c4 a10"/><circle cx="4240" cy="2072" r="22.4" class="c2 a10"/><circle cx="4464" cy="2351" r="22.4" class="c22 a10"/><circle cx="4454" cy="2341" r="22.4" class="c21 a10"/><circle cx="5481" cy="2429" r="22.4" class="c34 a10"/><circle cx="4444" cy="2330" r="22.4" class="c20 a10"/><circle cx="4358" cy="2233" r="22.4" class="c13 a10"/><circle cx="4340" cy="2207" r="22.4" class="c12 a10"/><circle cx="4435" cy="2319" r="22.4" class="c20 a10"/><circle cx="4322" cy="2182" r="22.4" class="c10 a10"/><circle cx="4304" cy="2157" r="22.4" class="c8 a10"/><circle cx="4285" cy="2132" r="22.4" class="c6 a10"/><circle cx="4267" cy="2106" r="22.4" class="c4 a10"/><circle cx="4249" cy="2081" r="22.4" class="c3 a10"/><circle cx="4425" cy="2308" r="22.4" class="c19 a10"/><circle cx="4484" cy="2368" r="22.4" class="c23 a10"/><circle cx="4367" cy="2244" r="22.4" class="c14 a10"/><circle cx="4415" cy="2297" r="22.4" class="c18 a10"/><circle cx="4405" cy="2287" r="22.4" class="c17 a10"/><circle cx="4395" cy="2276" r="22.4" class="c16 a10"/><circle cx="4376" cy="2254" r="22.4" class="c15 a10"/><circle cx="4349" cy="2216" r="22.4" class="c12 a10"/><circle cx="4331" cy="2191" r="22.4" class="c10 a10"/><circle cx="4385" cy="2265" r="22.4" class="c16 a10"/><circle cx="4313" cy="2166" r="22.4" class="c9 a10"/><circle cx="4474" cy="2355" r="22.4" class="c22 a10"/><circle cx="4294" cy="2140" r="22.4" class="c7 a10"/><circle cx="4276" cy="2115" r="22.4" class="c5 a10"/><circle cx="4258" cy="2090" r="22.4" class="c3 a10"/><circle cx="4240" cy="2064" r="22.4" class="c1 a10"/><circle cx="4464" cy="2344" r="22.4" class="c21 a10"/><circle cx="4454" cy="2333" r="22.4" class="c20 a10"/><circle cx="4494" cy="2372" r="22.4" class="c23 a10"/><circle cx="5482" cy="2421" r="22.4" class="c33 a10"/><circle cx="4444" cy="2322" r="22.4" class="c20 a10"/><circle cx="4358" cy="2225" r="22.4" class="c13 a10"/><circle cx="4340" cy="2200" r="22.4" class="c11 a10"/><circle cx="4435" cy="2311" r="22.4" class="c19 a10"/><circle cx="4322" cy="2174" r="22.4" class="c9 a10"/><circle cx="4303" cy="2149" r="22.4" class="c7 a10"/><circle cx="4285" cy="2124" r="22.4" class="c5 a10"/><circle cx="4267" cy="2099" r="22.4" class="c4 a10"/><circle cx="4249" cy="2073" r="22.4" class="c2 a10"/><circle cx="4425" cy="2300" r="22.4" class="c18 a10"/><circle cx="4484" cy="2360" r="22.4" class="c22 a10"/><circle cx="4367" cy="2236" r="22.4" class="c13 a10"/><circle cx="4415" cy="2290" r="22.4" class="c17 a10"/><circle cx="4405" cy="2279" r="22.4" class="c16 a10"/><circle cx="4395" cy="2268" r="22.4" class="c16 a10"/><circle cx="4376" cy="2247" r="22.4" class="c14 a10"/><circle cx="4349" cy="2208" r="22.4" class="c11 a10"/><circle cx="4331" cy="2183" r="22.4" class="c10 a10"/><circle cx="4503" cy="2377" r="22.4" class="c24 a10"/><circle cx="4385" cy="2257" r="22.4" class="c15 a10"/><circle cx="4313" cy="2158" r="22.4" class="c8 a10"/><circle cx="4474" cy="2347" r="22.4" class="c21 a10"/><circle cx="4294" cy="2133" r="22.4" class="c6 a10"/><circle cx="4276" cy="2107" r="22.4" class="c4 a10"/><circle cx="4258" cy="2082" r="22.4" class="c2 a10"/><circle cx="4464" cy="2336" r="22.4" class="c20 a10"/><circle cx="4454" cy="2325" r="22.4" class="c20 a10"/><circle cx="4494" cy="2365" r="22.4" class="c23 a10"/><circle cx="5482" cy="2414" r="22.4" class="c32 a10"/><circle cx="4444" cy="2314" r="22.4" class="c19 a10"/><circle cx="4358" cy="2218" r="22.4" class="c12 a10"/><circle cx="4340" cy="2192" r="22.4" class="c10 a10"/><circle cx="4435" cy="2304" r="22.4" class="c18 a10"/><circle cx="4322" cy="2167" r="22.4" class="c8 a10"/><circle cx="4303" cy="2141" r="22.4" class="c6 a10"/><circle cx="4285" cy="2116" r="22.4" class="c5 a10"/><circle cx="4267" cy="2091" r="22.4" class="c3 a10"/><circle cx="4249" cy="2065" r="22.4" class="c1 a10"/><circle cx="4425" cy="2293" r="22.4" class="c17 a10"/><circle cx="4513" cy="2382" r="22.4" class="c24 a10"/><circle cx="4484" cy="2352" r="22.4" class="c22 a10"/><circle cx="4367" cy="2228" r="22.4" class="c13 a10"/><circle cx="4415" cy="2282" r="22.4" class="c17 a10"/><circle cx="4405" cy="2271" r="22.4" class="c16 a10"/><circle cx="4395" cy="2260" r="22.4" class="c15 a10"/><circle cx="4376" cy="2239" r="22.4" class="c13 a10"/><circle cx="4349" cy="2201" r="22.4" class="c11 a10"/><circle cx="4331" cy="2175" r="22.4" class="c9 a10"/><circle cx="4503" cy="2370" r="22.4" class="c23 a10"/><circle cx="4385" cy="2249" r="22.4" class="c14 a10"/><circle cx="4312" cy="2150" r="22.4" class="c7 a10"/><circle cx="4474" cy="2340" r="22.4" class="c21 a10"/><circle cx="4294" cy="2125" r="22.4" class="c5 a10"/><circle cx="4276" cy="2100" r="22.4" class="c3 a10"/><circle cx="4258" cy="2074" r="22.4" class="c2 a10"/><circle cx="4464" cy="2328" r="22.4" class="c20 a10"/><circle cx="4454" cy="2317" r="22.4" class="c19 a10"/><circle cx="4523" cy="2387" r="22.4" class="c24 a10"/><circle cx="4494" cy="2357" r="22.4" class="c22 a10"/><circle cx="5482" cy="2406" r="22.4" class="c31 a10"/><circle cx="4444" cy="2307" r="22.4" class="c18 a10"/><circle cx="4358" cy="2210" r="22.4" class="c11 a10"/><circle cx="4340" cy="2184" r="22.4" class="c9 a10"/><circle cx="4435" cy="2296" r="22.4" class="c17 a10"/><circle cx="4322" cy="2159" r="22.4" class="c8 a10"/><circle cx="4303" cy="2134" r="22.4" class="c6 a10"/><circle cx="4285" cy="2108" r="22.4" class="c4 a10"/><circle cx="4267" cy="2083" r="22.4" class="c2 a10"/><circle cx="4425" cy="2285" r="22.4" class="c17 a10"/><circle cx="4513" cy="2375" r="22.4" class="c23 a10"/><circle cx="4484" cy="2344" r="22.4" class="c21 a10"/><circle cx="4367" cy="2220" r="22.4" class="c12 a10"/><circle cx="4415" cy="2274" r="22.4" class="c16 a10"/><circle cx="4405" cy="2263" r="22.4" class="c15 a10"/><circle cx="4395" cy="2253" r="22.4" class="c14 a10"/><circle cx="4376" cy="2231" r="22.4" class="c13 a10"/><circle cx="4349" cy="2193" r="22.4" class="c10 a10"/><circle cx="4331" cy="2168" r="22.4" class="c8 a10"/><circle cx="4503" cy="2362" r="22.4" class="c22 a10"/><circle cx="4385" cy="2242" r="22.4" class="c13 a10"/><circle cx="4312" cy="2142" r="22.4" class="c6 a10"/><circle cx="4474" cy="2332" r="22.4" class="c20 a10"/><circle cx="4294" cy="2117" r="22.4" class="c4 a10"/><circle cx="4276" cy="2092" r="22.4" class="c3 a10"/><circle cx="4258" cy="2066" r="22.4" class="c1 a10"/><circle cx="4464" cy="2320" r="22.4" class="c19 a10"/><circle cx="4454" cy="2310" r="22.4" class="c18 a10"/><circle cx="4523" cy="2380" r="22.4" class="c23 a10"/><circle cx="4494" cy="2349" r="22.4" class="c21 a10"/><circle cx="5482" cy="2398" r="22.4" class="c31 a10"/><circle cx="4444" cy="2299" r="22.4" class="c17 a10"/><circle cx="4358" cy="2202" r="22.4" class="c11 a10"/><circle cx="4340" cy="2176" r="22.4" class="c9 a10"/><circle cx="4435" cy="2288" r="22.4" class="c17 a10"/><circle cx="4321" cy="2151" r="22.4" class="c7 a10"/><circle cx="4303" cy="2126" r="22.4" class="c5 a10"/><circle cx="4285" cy="2101" r="22.4" class="c3 a10"/><circle cx="4267" cy="2075" r="22.4" class="c1 a10"/><circle cx="4425" cy="2277" r="22.4" class="c16 a10"/><circle cx="4513" cy="2367" r="22.4" class="c22 a10"/><circle cx="4484" cy="2337" r="22.4" class="c20 a10"/><circle cx="4367" cy="2213" r="22.4" class="c11 a10"/><circle cx="4415" cy="2266" r="22.4" class="c15 a10"/><circle cx="4405" cy="2256" r="22.4" class="c14 a10"/><circle cx="4395" cy="2245" r="22.4" class="c13 a10"/><circle cx="4376" cy="2223" r="22.4" class="c12 a10"/><circle cx="4349" cy="2185" r="22.4" class="c9 a10"/><circle cx="4533" cy="2384" r="22.4" class="c23 a10"/><circle cx="4331" cy="2160" r="22.4" class="c7 a10"/><circle cx="4503" cy="2354" r="22.4" class="c21 a10"/><circle cx="4385" cy="2234" r="22.4" class="c13 a10"/><circle cx="4312" cy="2135" r="22.4" class="c6 a10"/><circle cx="4474" cy="2324" r="22.4" class="c19 a10"/><circle cx="4294" cy="2109" r="22.4" class="c4 a10"/><circle cx="4276" cy="2084" r="22.4" class="c2 a10"/><circle cx="4464" cy="2313" r="22.4" class="c18 a10"/><circle cx="4454" cy="2302" r="22.4" class="c18 a10"/><circle cx="4523" cy="2372" r="22.4" class="c23 a10"/><circle cx="4494" cy="2342" r="22.4" class="c20 a10"/><circle cx="5482" cy="2390" r="22.4" class="c30 a10"/><circle cx="4444" cy="2291" r="22.4" class="c17 a10"/><circle cx="4358" cy="2194" r="22.4" class="c10 a10"/><circle cx="4340" cy="2169" r="22.4" class="c8 a10"/><circle cx="4435" cy="2280" r="22.4" class="c16 a10"/><circle cx="4321" cy="2143" r="22.4" class="c6 a10"/><circle cx="4303" cy="2118" r="22.4" class="c4 a10"/><circle cx="4285" cy="2093" r="22.4" class="c2 a10"/><circle cx="4267" cy="2067" r="22.4" class="c1 a10"/><circle cx="4425" cy="2270" r="22.4" class="c15 a10"/><circle cx="4543" cy="2389" r="22.4" class="c24 a10"/><circle cx="4513" cy="2359" r="22.4" class="c22 a10"/><circle cx="4484" cy="2329" r="22.4" class="c19 a10"/><circle cx="4367" cy="2205" r="22.4" class="c11 a10"/><circle cx="4415" cy="2259" r="22.4" class="c14 a10"/><circle cx="4405" cy="2248" r="22.4" class="c14 a10"/><circle cx="4395" cy="2237" r="22.4" class="c13 a10"/><circle cx="4376" cy="2216" r="22.4" class="c11 a10"/><circle cx="4349" cy="2177" r="22.4" class="c8 a10"/><circle cx="4533" cy="2377" r="22.4" class="c23 a10"/><circle cx="4331" cy="2152" r="22.4" class="c7 a10"/><circle cx="4504" cy="2347" r="22.4" class="c21 a10"/><circle cx="4385" cy="2226" r="22.4" class="c12 a10"/><circle cx="4312" cy="2127" r="22.4" class="c5 a10"/><circle cx="4474" cy="2316" r="22.4" class="c18 a10"/><circle cx="4294" cy="2102" r="22.4" class="c3 a10"/><circle cx="4276" cy="2076" r="22.4" class="c1 a10"/><circle cx="5444" cy="2428" r="22.4" class="c32 a10"/><circle cx="4464" cy="2305" r="22.4" class="c18 a10"/><circle cx="4454" cy="2294" r="22.4" class="c17 a10"/><circle cx="4553" cy="2394" r="22.4" class="c24 a10"/><circle cx="4523" cy="2364" r="22.4" class="c22 a10"/><circle cx="4494" cy="2334" r="22.4" class="c20 a10"/><circle cx="4444" cy="2283" r="22.4" class="c16 a10"/><circle cx="4358" cy="2187" r="22.4" class="c9 a10"/><circle cx="4340" cy="2161" r="22.4" class="c7 a10"/><circle cx="4435" cy="2273" r="22.4" class="c15 a10"/><circle cx="4321" cy="2136" r="22.4" class="c5 a10"/><circle cx="4303" cy="2110" r="22.4" class="c4 a10"/><circle cx="4285" cy="2085" r="22.4" class="c2 a10"/><circle cx="4425" cy="2262" r="22.4" class="c14 a10"/><circle cx="4543" cy="2382" r="22.4" class="c23 a10"/><circle cx="4513" cy="2351" r="22.4" class="c21 a10"/><circle cx="4484" cy="2321" r="22.4" class="c19 a10"/><circle cx="4367" cy="2197" r="22.4" class="c10 a10"/><circle cx="4415" cy="2251" r="22.4" class="c14 a10"/><circle cx="4405" cy="2240" r="22.4" class="c13 a10"/><circle cx="4395" cy="2229" r="22.4" class="c12 a10"/><circle cx="4376" cy="2208" r="22.4" class="c10 a10"/><circle cx="4349" cy="2170" r="22.4" class="c8 a10"/><circle cx="4533" cy="2369" r="22.4" class="c22 a10"/><circle cx="4330" cy="2144" r="22.4" class="c6 a10"/><circle cx="4504" cy="2339" r="22.4" class="c20 a10"/><circle cx="4385" cy="2219" r="22.4" class="c11 a10"/><circle cx="4312" cy="2119" r="22.4" class="c4 a10"/><circle cx="4474" cy="2309" r="22.4" class="c18 a10"/><circle cx="4294" cy="2094" r="22.4" class="c2 a10"/><circle cx="4276" cy="2068" r="22.4" class="c0 a10"/><circle cx="5444" cy="2420" r="22.4" class="c31 a10"/><circle cx="4464" cy="2297" r="22.4" class="c17 a10"/><circle cx="4454" cy="2287" r="22.4" class="c16 a10"/><circle cx="4553" cy="2387" r="22.4" class="c23 a10"/><circle cx="4523" cy="2356" r="22.4" class="c21 a10"/><circle cx="4494" cy="2326" r="22.4" class="c19 a10"/><circle cx="4444" cy="2276" r="22.4" class="c15 a10"/><circle cx="4358" cy="2179" r="22.4" class="c8 a10"/><circle cx="4340" cy="2153" r="22.4" class="c6 a10"/><circle cx="4435" cy="2265" r="22.4" class="c14 a10"/><circle cx="4321" cy="2128" r="22.4" class="c5 a10"/><circle cx="4303" cy="2103" r="22.4" class="c3 a10"/><circle cx="4285" cy="2077" r="22.4" class="c1 a10"/><circle cx="4425" cy="2254" r="22.4" class="c14 a10"/><circle cx="4543" cy="2374" r="22.4" class="c22 a10"/><circle cx="4513" cy="2344" r="22.4" class="c20 a10"/><circle cx="4484" cy="2314" r="22.4" class="c18 a10"/><circle cx="4367" cy="2189" r="22.4" class="c9 a10"/><circle cx="4415" cy="2243" r="22.4" class="c13 a10"/><circle cx="5406" cy="2459" r="22.4" class="c34 a10"/><circle cx="4405" cy="2232" r="22.4" class="c12 a10"/><circle cx="4395" cy="2222" r="22.4" class="c11 a10"/><circle cx="4376" cy="2200" r="22.4" class="c10 a10"/><circle cx="4563" cy="2392" r="22.4" class="c23 a10"/><circle cx="4349" cy="2162" r="22.4" class="c7 a10"/><circle cx="4533" cy="2361" r="22.4" class="c21 a10"/><circle cx="4330" cy="2137" r="22.4" class="c5 a10"/><circle cx="4504" cy="2331" r="22.4" class="c19 a10"/><circle cx="4385" cy="2211" r="22.4" class="c11 a10"/><circle cx="4312" cy="2111" r="22.4" class="c3 a10"/><circle cx="4474" cy="2301" r="22.4" class="c17 a10"/><circle cx="4294" cy="2086" r="22.4" class="c2 a10"/><circle cx="5445" cy="2412" r="22.4" class="c31 a10"/><circle cx="4464" cy="2290" r="22.4" class="c16 a10"/><circle cx="4454" cy="2279" r="22.4" class="c15 a10"/><circle cx="4553" cy="2379" r="22.4" class="c22 a10"/><circle cx="4523" cy="2349" r="22.4" class="c20 a10"/><circle cx="4494" cy="2319" r="22.4" class="c18 a10"/><circle cx="4444" cy="2268" r="22.4" class="c15 a10"/><circle cx="4358" cy="2171" r="22.4" class="c8 a10"/><circle cx="4340" cy="2145" r="22.4" class="c6 a10"/><circle cx="4435" cy="2257" r="22.4" class="c14 a10"/><circle cx="4321" cy="2120" r="22.4" class="c4 a10"/><circle cx="4303" cy="2095" r="22.4" class="c2 a10"/><circle cx="4285" cy="2069" r="22.4" class="c0 a10"/><circle cx="4425" cy="2246" r="22.4" class="c13 a10"/><circle cx="4572" cy="2397" r="22.4" class="c24 a10"/><circle cx="4543" cy="2366" r="22.4" class="c22 a10"/><circle cx="4513" cy="2336" r="22.4" class="c19 a10"/><circle cx="4484" cy="2306" r="22.4" class="c17 a10"/><circle cx="4367" cy="2182" r="22.4" class="c8 a10"/><circle cx="4415" cy="2236" r="22.4" class="c12 a10"/><circle cx="5406" cy="2451" r="22.4" class="c33 a10"/><circle cx="4405" cy="2225" r="22.4" class="c11 a10"/><circle cx="4395" cy="2214" r="22.4" class="c11 a10"/><circle cx="4376" cy="2192" r="22.4" class="c9 a10"/><circle cx="4563" cy="2384" r="22.4" class="c23 a10"/><circle cx="4349" cy="2154" r="22.4" class="c6 a10"/><circle cx="4533" cy="2354" r="22.4" class="c21 a10"/><circle cx="4330" cy="2129" r="22.4" class="c4 a10"/><circle cx="4504" cy="2323" r="22.4" class="c18 a10"/><circle cx="4385" cy="2203" r="22.4" class="c10 a10"/><circle cx="4312" cy="2104" r="22.4" class="c3 a10"/><circle cx="4474" cy="2293" r="22.4" class="c16 a10"/><circle cx="4294" cy="2078" r="22.4" class="c1 a10"/><circle cx="5445" cy="2405" r="22.4" class="c30 a10"/><circle cx="4464" cy="2282" r="22.4" class="c15 a10"/><circle cx="4454" cy="2271" r="22.4" class="c15 a10"/><circle cx="4553" cy="2371" r="22.4" class="c22 a10"/><circle cx="4523" cy="2341" r="22.4" class="c20 a10"/><circle cx="4494" cy="2311" r="22.4" class="c17 a10"/><circle cx="4444" cy="2260" r="22.4" class="c14 a10"/><circle cx="4358" cy="2163" r="22.4" class="c7 a10"/><circle cx="4339" cy="2138" r="22.4" class="c5 a10"/><circle cx="4435" cy="2249" r="22.4" class="c13 a10"/><circle cx="4321" cy="2112" r="22.4" class="c3 a10"/><circle cx="4303" cy="2087" r="22.4" class="c1 a10"/><circle cx="4425" cy="2239" r="22.4" class="c12 a10"/><circle cx="4572" cy="2389" r="22.4" class="c23 a10"/><circle cx="4543" cy="2359" r="22.4" class="c21 a10"/><circle cx="4513" cy="2328" r="22.4" class="c19 a10"/><circle cx="4484" cy="2298" r="22.4" class="c16 a10"/><circle cx="4367" cy="2174" r="22.4" class="c8 a10"/><circle cx="4415" cy="2228" r="22.4" class="c11 a10"/><circle cx="5406" cy="2443" r="22.4" class="c32 a10"/><circle cx="4405" cy="2217" r="22.4" class="c11 a10"/><circle cx="4395" cy="2206" r="22.4" class="c10 a10"/><circle cx="4376" cy="2185" r="22.4" class="c8 a10"/><circle cx="4563" cy="2376" r="22.4" class="c22 a10"/><circle cx="4349" cy="2146" r="22.4" class="c6 a10"/><circle cx="4533" cy="2346" r="22.4" class="c20 a10"/><circle cx="4330" cy="2121" r="22.4" class="c4 a10"/><circle cx="4504" cy="2316" r="22.4" class="c18 a10"/><circle cx="4385" cy="2195" r="22.4" class="c9 a10"/><circle cx="4312" cy="2096" r="22.4" class="c2 a10"/><circle cx="4474" cy="2285" r="22.4" class="c15 a10"/><circle cx="4294" cy="2070" r="22.4" class="c0 a10"/><circle cx="5445" cy="2397" r="22.4" class="c29 a10"/><circle cx="4464" cy="2274" r="22.4" class="c15 a10"/><circle cx="4454" cy="2263" r="22.4" class="c14 a10"/><circle cx="4582" cy="2394" r="22.4" class="c23 a10"/><circle cx="4553" cy="2363" r="22.4" class="c21 a10"/><circle cx="4523" cy="2333" r="22.4" class="c19 a10"/><circle cx="4494" cy="2303" r="22.4" class="c17 a10"/><circle cx="4444" cy="2252" r="22.4" class="c13 a10"/><circle cx="4358" cy="2156" r="22.4" class="c6 a10"/><circle cx="4339" cy="2130" r="22.4" class="c4 a10"/><circle cx="4435" cy="2242" r="22.4" class="c12 a10"/><circle cx="4321" cy="2105" r="22.4" class="c2 a10"/><circle cx="4303" cy="2079" r="22.4" class="c1 a10"/><circle cx="4425" cy="2231" r="22.4" class="c11 a10"/><circle cx="4572" cy="2381" r="22.4" class="c22 a10"/><circle cx="4543" cy="2351" r="22.4" class="c20 a10"/><circle cx="4513" cy="2321" r="22.4" class="c18 a10"/><circle cx="4484" cy="2290" r="22.4" class="c16 a10"/><circle cx="4367" cy="2166" r="22.4" class="c7 a10"/><circle cx="4415" cy="2220" r="22.4" class="c11 a10"/><circle cx="5407" cy="2436" r="22.4" class="c31 a10"/><circle cx="4405" cy="2209" r="22.4" class="c10 a10"/><circle cx="4395" cy="2198" r="22.4" class="c9 a10"/><circle cx="4376" cy="2177" r="22.4" class="c8 a10"/><circle cx="4592" cy="2399" r="22.4" class="c23 a10"/><circle cx="4563" cy="2368" r="22.4" class="c21 a10"/><circle cx="4349" cy="2139" r="22.4" class="c5 a10"/><circle cx="4533" cy="2338" r="22.4" class="c19 a10"/><circle cx="4330" cy="2113" r="22.4" class="c3 a10"/><circle cx="4504" cy="2308" r="22.4" class="c17 a10"/><circle cx="4385" cy="2188" r="22.4" class="c8 a10"/><circle cx="4312" cy="2088" r="22.4" class="c1 a10"/><circle cx="4474" cy="2278" r="22.4" class="c15 a10"/><circle cx="5445" cy="2389" r="22.4" class="c29 a10"/><circle cx="4464" cy="2266" r="22.4" class="c14 a10"/><circle cx="4454" cy="2256" r="22.4" class="c13 a10"/><circle cx="4582" cy="2386" r="22.4" class="c22 a10"/><circle cx="4553" cy="2356" r="22.4" class="c20 a10"/><circle cx="4523" cy="2326" r="22.4" class="c18 a10"/><circle cx="4494" cy="2295" r="22.4" class="c16 a10"/><circle cx="4444" cy="2245" r="22.4" class="c12 a10"/><circle cx="4358" cy="2148" r="22.4" class="c5 a10"/><circle cx="4339" cy="2122" r="22.4" class="c4 a10"/><circle cx="4435" cy="2234" r="22.4" class="c12 a10"/><circle cx="4321" cy="2097" r="22.4" class="c2 a10"/><circle cx="4303" cy="2071" r="22.4" class="c0 a10"/><circle cx="4425" cy="2223" r="22.4" class="c11 a10"/><circle cx="4602" cy="2404" r="22.4" class="c24 a10"/><circle cx="4573" cy="2373" r="22.4" class="c21 a10"/><circle cx="4543" cy="2343" r="22.4" class="c19 a10"/><circle cx="4513" cy="2313" r="22.4" class="c17 a10"/><circle cx="4484" cy="2283" r="22.4" class="c15 a10"/><circle cx="4367" cy="2158" r="22.4" class="c6 a10"/><circle cx="4415" cy="2212" r="22.4" class="c10 a10"/><circle cx="5407" cy="2428" r="22.4" class="c31 a10"/><circle cx="4405" cy="2201" r="22.4" class="c9 a10"/><circle cx="4395" cy="2191" r="22.4" class="c8 a10"/><circle cx="5374" cy="2439" r="22.4" class="c31 a10"/><circle cx="4376" cy="2169" r="22.4" class="c7 a10"/><circle cx="4592" cy="2391" r="22.4" class="c23 a10"/><circle cx="4563" cy="2361" r="22.4" class="c21 a10"/><circle cx="4349" cy="2131" r="22.4" class="c4 a10"/><circle cx="4533" cy="2330" r="22.4" class="c18 a10"/><circle cx="4330" cy="2106" r="22.4" class="c2 a10"/><circle cx="4504" cy="2300" r="22.4" class="c16 a10"/><circle cx="4385" cy="2180" r="22.4" class="c8 a10"/><circle cx="4312" cy="2080" r="22.4" class="c0 a10"/><circle cx="4474" cy="2270" r="22.4" class="c14 a10"/><circle cx="4464" cy="2259" r="22.4" class="c13 a10"/><circle cx="4454" cy="2248" r="22.4" class="c12 a10"/><circle cx="4582" cy="2378" r="22.4" class="c22 a10"/><circle cx="5342" cy="2447" r="22.4" class="c31 a10"/><circle cx="4553" cy="2348" r="22.4" class="c20 a10"/><circle cx="4523" cy="2318" r="22.4" class="c17 a10"/><circle cx="4494" cy="2288" r="22.4" class="c15 a10"/><circle cx="4444" cy="2237" r="22.4" class="c12 a10"/><circle cx="4358" cy="2140" r="22.4" class="c5 a10"/><circle cx="4339" cy="2114" r="22.4" class="c3 a10"/><circle cx="4435" cy="2226" r="22.4" class="c11 a10"/><circle cx="4321" cy="2089" r="22.4" class="c1 a10"/><circle cx="4425" cy="2215" r="22.4" class="c10 a10"/><circle cx="4602" cy="2396" r="22.4" class="c23 a10"/><circle cx="4573" cy="2366" r="22.4" class="c21 a10"/><circle cx="4543" cy="2335" r="22.4" class="c19 a10"/><circle cx="4513" cy="2305" r="22.4" class="c16 a10"/><circle cx="4484" cy="2275" r="22.4" class="c14 a10"/><circle cx="4367" cy="2151" r="22.4" class="c5 a10"/><circle cx="4415" cy="2205" r="22.4" class="c9 a10"/><circle cx="5407" cy="2420" r="22.4" class="c30 a10"/><circle cx="4405" cy="2194" r="22.4" class="c8 a10"/><circle cx="4395" cy="2183" r="22.4" class="c8 a10"/><circle cx="5374" cy="2431" r="22.4" class="c30 a10"/><circle cx="4376" cy="2161" r="22.4" class="c6 a10"/><circle cx="4592" cy="2383" r="22.4" class="c22 a10"/><circle cx="4563" cy="2353" r="22.4" class="c20 a10"/><circle cx="4348" cy="2123" r="22.4" class="c3 a10"/><circle cx="4533" cy="2323" r="22.4" class="c18 a10"/><circle cx="4330" cy="2098" r="22.4" class="c2 a10"/><circle cx="4504" cy="2293" r="22.4" class="c15 a10"/><circle cx="4385" cy="2172" r="22.4" class="c7 a10"/><circle cx="4312" cy="2072" r="22.4" class="c0 a10"/><circle cx="4474" cy="2262" r="22.4" class="c13 a10"/><circle cx="4464" cy="2251" r="22.4" class="c12 a10"/><circle cx="5276" cy="2462" r="22.4" class="c32 a10"/><circle cx="4612" cy="2401" r="22.4" class="c23 a10"/><circle cx="4454" cy="2240" r="22.4" class="c12 a10"/><circle cx="4582" cy="2371" r="22.4" class="c21 a10"/><circle cx="5342" cy="2439" r="22.4" class="c31 a10"/><circle cx="4553" cy="2340" r="22.4" class="c19 a10"/><circle cx="4523" cy="2310" r="22.4" class="c17 a10"/><circle cx="4494" cy="2280" r="22.4" class="c15 a10"/><circle cx="4444" cy="2229" r="22.4" class="c11 a10"/><circle cx="4358" cy="2132" r="22.4" class="c4 a10"/><circle cx="4339" cy="2107" r="22.4" class="c2 a10"/><circle cx="4435" cy="2218" r="22.4" class="c10 a10"/><circle cx="4321" cy="2081" r="22.4" class="c0 a10"/><circle cx="4425" cy="2208" r="22.4" class="c9 a10"/><circle cx="4602" cy="2388" r="22.4" class="c22 a10"/><circle cx="4573" cy="2358" r="22.4" class="c20 a10"/><circle cx="4543" cy="2328" r="22.4" class="c18 a10"/><circle cx="4513" cy="2297" r="22.4" class="c16 a10"/><circle cx="4484" cy="2267" r="22.4" class="c14 a10"/><circle cx="4367" cy="2143" r="22.4" class="c5 a10"/><circle cx="4415" cy="2197" r="22.4" class="c9 a10"/><circle cx="5407" cy="2413" r="22.4" class="c29 a10"/><circle cx="4405" cy="2186" r="22.4" class="c8 a10"/><circle cx="4395" cy="2175" r="22.4" class="c7 a10"/><circle cx="5375" cy="2424" r="22.4" class="c30 a10"/><circle cx="4622" cy="2406" r="22.4" class="c23 a10"/><circle cx="4376" cy="2154" r="22.4" class="c5 a10"/><circle cx="4592" cy="2376" r="22.4" class="c21 a10"/><circle cx="4563" cy="2345" r="22.4" class="c19 a10"/><circle cx="4348" cy="2115" r="22.4" class="c3 a10"/><circle cx="4533" cy="2315" r="22.4" class="c17 a10"/><circle cx="4330" cy="2090" r="22.4" class="c1 a10"/><circle cx="4504" cy="2285" r="22.4" class="c15 a10"/><circle cx="4385" cy="2164" r="22.4" class="c6 a10"/><circle cx="4474" cy="2255" r="22.4" class="c13 a10"/><circle cx="4464" cy="2243" r="22.4" class="c12 a10"/><circle cx="5277" cy="2454" r="22.4" class="c31 a10"/><circle cx="4612" cy="2393" r="22.4" class="c22 a10"/><circle cx="4454" cy="2232" r="22.4" class="c11 a10"/><circle cx="4582" cy="2363" r="22.4" class="c20 a10"/><circle cx="5342" cy="2432" r="22.4" class="c30 a10"/><circle cx="4553" cy="2333" r="22.4" class="c18 a10"/><circle cx="4523" cy="2302" r="22.4" class="c16 a10"/><circle cx="4494" cy="2272" r="22.4" class="c14 a10"/><circle cx="4444" cy="2222" r="22.4" class="c10 a10"/><circle cx="4358" cy="2125" r="22.4" class="c3 a10"/><circle cx="4339" cy="2099" r="22.4" class="c1 a10"/><circle cx="4435" cy="2211" r="22.4" class="c9 a10"/><circle cx="4321" cy="2073" r="22.4" class="c0 a10"/><circle cx="4425" cy="2200" r="22.4" class="c9 a10"/><circle cx="4602" cy="2380" r="22.4" class="c21 a10"/><circle cx="5244" cy="2462" r="22.4" class="c31 a10"/><circle cx="4573" cy="2350" r="22.4" class="c19 a10"/><circle cx="4543" cy="2320" r="22.4" class="c17 a10"/><circle cx="4513" cy="2290" r="22.4" class="c15 a10"/><circle cx="4484" cy="2259" r="22.4" class="c13 a10"/><circle cx="4367" cy="2135" r="22.4" class="c4 a10"/><circle cx="4415" cy="2189" r="22.4" class="c8 a10"/><circle cx="5407" cy="2405" r="22.4" class="c29 a10"/><circle cx="4405" cy="2178" r="22.4" class="c7 a10"/><circle cx="4395" cy="2167" r="22.4" class="c6 a10"/><circle cx="5375" cy="2416" r="22.4" class="c29 a10"/><circle cx="4622" cy="2398" r="22.4" class="c23 a10"/><circle cx="4376" cy="2146" r="22.4" class="c5 a10"/><circle cx="4592" cy="2368" r="22.4" class="c21 a10"/><circle cx="4563" cy="2338" r="22.4" class="c18 a10"/><circle cx="4348" cy="2108" r="22.4" class="c2 a10"/><circle cx="4533" cy="2307" r="22.4" class="c16 a10"/><circle cx="4330" cy="2082" r="22.4" class="c0 a10"/><circle cx="4504" cy="2277" r="22.4" class="c14 a10"/><circle cx="4385" cy="2156" r="22.4" class="c5 a10"/><circle cx="4474" cy="2247" r="22.4" class="c12 a10"/><circle cx="5309" cy="2436" r="22.4" class="c30 a10"/><circle cx="4464" cy="2235" r="22.4" class="c11 a10"/><circle cx="5277" cy="2446" r="22.4" class="c30 a10"/><circle cx="4612" cy="2385" r="22.4" class="c22 a10"/><circle cx="4454" cy="2225" r="22.4" class="c10 a10"/><circle cx="4582" cy="2355" r="22.4" class="c20 a10"/><circle cx="5342" cy="2424" r="22.4" class="c29 a10"/><circle cx="4553" cy="2325" r="22.4" class="c17 a10"/><circle cx="4523" cy="2295" r="22.4" class="c15 a10"/><circle cx="4494" cy="2264" r="22.4" class="c13 a10"/><circle cx="4444" cy="2214" r="22.4" class="c9 a10"/><circle cx="4357" cy="2117" r="22.4" class="c2 a10"/><circle cx="4339" cy="2091" r="22.4" class="c1 a10"/><circle cx="4435" cy="2203" r="22.4" class="c9 a10"/><circle cx="4425" cy="2192" r="22.4" class="c8 a10"/><circle cx="4632" cy="2403" r="22.4" class="c23 a10"/><circle cx="4602" cy="2373" r="22.4" class="c21 a10"/><circle cx="5244" cy="2454" r="22.4" class="c30 a10"/><circle cx="4573" cy="2342" r="22.4" class="c19 a10"/><circle cx="4543" cy="2312" r="22.4" class="c16 a10"/><circle cx="4513" cy="2282" r="22.4" class="c14 a10"/><circle cx="4484" cy="2252" r="22.4" class="c12 a10"/><circle cx="4367" cy="2127" r="22.4" class="c3 a10"/><circle cx="4415" cy="2181" r="22.4" class="c7 a10"/><circle cx="5408" cy="2397" r="22.4" class="c28 a10"/><circle cx="4405" cy="2170" r="22.4" class="c6 a10"/><circle cx="4395" cy="2160" r="22.4" class="c5 a10"/><circle cx="5375" cy="2408" r="22.4" class="c28 a10"/><circle cx="4622" cy="2390" r="22.4" class="c22 a10"/><circle cx="4376" cy="2138" r="22.4" class="c4 a10"/><circle cx="4592" cy="2360" r="22.4" class="c20 a10"/><circle cx="4563" cy="2330" r="22.4" class="c18 a10"/><circle cx="4348" cy="2100" r="22.4" class="c1 a10"/><circle cx="4533" cy="2300" r="22.4" class="c15 a10"/><circle cx="4330" cy="2074" r="22.4" class="c0 a10"/><circle cx="4504" cy="2269" r="22.4" class="c13 a10"/><circle cx="4385" cy="2149" r="22.4" class="c5 a10"/><circle cx="4474" cy="2239" r="22.4" class="c11 a10"/><circle cx="5310" cy="2429" r="22.4" class="c29 a10"/><circle cx="4464" cy="2228" r="22.4" class="c10 a10"/><circle cx="5277" cy="2439" r="22.4" class="c29 a10"/><circle cx="4642" cy="2408" r="22.4" class="c23 a10"/><circle cx="4612" cy="2378" r="22.4" class="c21 a10"/><circle cx="4454" cy="2217" r="22.4" class="c9 a10"/><circle cx="4582" cy="2347" r="22.4" class="c19 a10"/><circle cx="5342" cy="2416" r="22.4" class="c28 a10"/><circle cx="4553" cy="2317" r="22.4" class="c17 a10"/><circle cx="4523" cy="2287" r="22.4" class="c14 a10"/><circle cx="4494" cy="2257" r="22.4" class="c12 a10"/><circle cx="4444" cy="2206" r="22.4" class="c9 a10"/><circle cx="4357" cy="2109" r="22.4" class="c2 a10"/><circle cx="4339" cy="2083" r="22.4" class="c0 a10"/><circle cx="4435" cy="2195" r="22.4" class="c8 a10"/><circle cx="4425" cy="2184" r="22.4" class="c7 a10"/><circle cx="4632" cy="2395" r="22.4" class="c22 a10"/><circle cx="4602" cy="2365" r="22.4" class="c20 a10"/><circle cx="5244" cy="2447" r="22.4" class="c30 a10"/><circle cx="4573" cy="2335" r="22.4" class="c18 a10"/><circle cx="4543" cy="2304" r="22.4" class="c16 a10"/><circle cx="4513" cy="2274" r="22.4" class="c14 a10"/><circle cx="4484" cy="2244" r="22.4" class="c11 a10"/><circle cx="4367" cy="2120" r="22.4" class="c2 a10"/><circle cx="4415" cy="2173" r="22.4" class="c6 a10"/><circle cx="5408" cy="2389" r="22.4" class="c27 a10"/><circle cx="4405" cy="2163" r="22.4" class="c6 a10"/><circle cx="4395" cy="2152" r="22.4" class="c5 a10"/><circle cx="4652" cy="2413" r="22.4" class="c23 a10"/><circle cx="5375" cy="2400" r="22.4" class="c28 a10"/><circle cx="4622" cy="2383" r="22.4" class="c21 a10"/><circle cx="4376" cy="2130" r="22.4" class="c3 a10"/><circle cx="4592" cy="2352" r="22.4" class="c19 a10"/><circle cx="4563" cy="2322" r="22.4" class="c17 a10"/><circle cx="4348" cy="2092" r="22.4" class="c0 a10"/><circle cx="4533" cy="2292" r="22.4" class="c15 a10"/><circle cx="4504" cy="2262" r="22.4" class="c13 a10"/><circle cx="4385" cy="2141" r="22.4" class="c4 a10"/><circle cx="4474" cy="2231" r="22.4" class="c10 a10"/><circle cx="5310" cy="2421" r="22.4" class="c28 a10"/><circle cx="4464" cy="2220" r="22.4" class="c10 a10"/><circle cx="5277" cy="2431" r="22.4" class="c29 a10"/><circle cx="4642" cy="2400" r="22.4" class="c22 a10"/><circle cx="4612" cy="2370" r="22.4" class="c20 a10"/><circle cx="4454" cy="2209" r="22.4" class="c9 a10"/><circle cx="4582" cy="2340" r="22.4" class="c18 a10"/><circle cx="5343" cy="2409" r="22.4" class="c28 a10"/><circle cx="4553" cy="2309" r="22.4" class="c16 a10"/><circle cx="4523" cy="2279" r="22.4" class="c14 a10"/><circle cx="4494" cy="2249" r="22.4" class="c12 a10"/><circle cx="4444" cy="2198" r="22.4" class="c8 a10"/><circle cx="5179" cy="2463" r="22.4" class="c30 a10"/><circle cx="4357" cy="2101" r="22.4" class="c1 a10"/><circle cx="4339" cy="2075" r="22.4" class="c0 a10"/><circle cx="4434" cy="2187" r="22.4" class="c7 a10"/><circle cx="4425" cy="2177" r="22.4" class="c6 a10"/><circle cx="4632" cy="2388" r="22.4" class="c21 a10"/><circle cx="4602" cy="2357" r="22.4" class="c19 a10"/><circle cx="5244" cy="2439" r="22.4" class="c29 a10"/><circle cx="4573" cy="2327" r="22.4" class="c17 a10"/><circle cx="4543" cy="2297" r="22.4" class="c15 a10"/><circle cx="4513" cy="2266" r="22.4" class="c13 a10"/><circle cx="4484" cy="2236" r="22.4" class="c11 a10"/><circle cx="4367" cy="2112" r="22.4" class="c2 a10"/><circle cx="4415" cy="2166" r="22.4" class="c6 a10"/><circle cx="4405" cy="2155" r="22.4" class="c5 a10"/><circle cx="4395" cy="2144" r="22.4" class="c4 a10"/><circle cx="4652" cy="2405" r="22.4" class="c23 a10"/><circle cx="5375" cy="2393" r="22.4" class="c27 a10"/><circle cx="4622" cy="2375" r="22.4" class="c20 a10"/><circle cx="4376" cy="2122" r="22.4" class="c2 a10"/><circle cx="4592" cy="2345" r="22.4" class="c18 a10"/><circle cx="4563" cy="2314" r="22.4" class="c16 a10"/><circle cx="4348" cy="2084" r="22.4" class="c0 a10"/><circle cx="4533" cy="2284" r="22.4" class="c14 a10"/><circle cx="4504" cy="2254" r="22.4" class="c12 a10"/><circle cx="4385" cy="2133" r="22.4" class="c3 a10"/><circle cx="4474" cy="2224" r="22.4" class="c10 a10"/><circle cx="5310" cy="2413" r="22.4" class="c28 a10"/><circle cx="5212" cy="2446" r="22.4" class="c29 a10"/><circle cx="4464" cy="2212" r="22.4" class="c9 a10"/><circle cx="5277" cy="2423" r="22.4" class="c28 a10"/><circle cx="4642" cy="2393" r="22.4" class="c22 a10"/><circle cx="4612" cy="2362" r="22.4" class="c20 a10"/><circle cx="4454" cy="2201" r="22.4" class="c8 a10"/><circle cx="4583" cy="2332" r="22.4" class="c17 a10"/><circle cx="5343" cy="2401" r="22.4" class="c27 a10"/><circle cx="4553" cy="2302" r="22.4" class="c15 a10"/><circle cx="4523" cy="2271" r="22.4" class="c13 a10"/><circle cx="4494" cy="2241" r="22.4" class="c11 a10"/><circle cx="4444" cy="2190" r="22.4" class="c7 a10"/><circle cx="5179" cy="2455" r="22.4" class="c29 a10"/><circle cx="4357" cy="2093" r="22.4" class="c0 a10"/><circle cx="4434" cy="2180" r="22.4" class="c6 a10"/><circle cx="4661" cy="2410" r="22.4" class="c23 a10"/><circle cx="4425" cy="2169" r="22.4" class="c6 a10"/><circle cx="4632" cy="2380" r="22.4" class="c21 a10"/><circle cx="4602" cy="2350" r="22.4" class="c19 a10"/><circle cx="5245" cy="2431" r="22.4" class="c28 a10"/><circle cx="4573" cy="2319" r="22.4" class="c16 a10"/><circle cx="4543" cy="2289" r="22.4" class="c14 a10"/><circle cx="4513" cy="2259" r="22.4" class="c12 a10"/><circle cx="4484" cy="2228" r="22.4" class="c10 a10"/><circle cx="4367" cy="2104" r="22.4" class="c1 a10"/><circle cx="4415" cy="2158" r="22.4" class="c5 a10"/><circle cx="4405" cy="2147" r="22.4" class="c4 a10"/><circle cx="4395" cy="2136" r="22.4" class="c3 a10"/><circle cx="4652" cy="2397" r="22.4" class="c22 a10"/><circle cx="5376" cy="2385" r="22.4" class="c26 a10"/><circle cx="4622" cy="2367" r="22.4" class="c20 a10"/><circle cx="4376" cy="2115" r="22.4" class="c2 a10"/><circle cx="4592" cy="2337" r="22.4" class="c18 a10"/><circle cx="4563" cy="2307" r="22.4" class="c15 a10"/><circle cx="4348" cy="2076" r="22.4" class="c0 a10"/><circle cx="4533" cy="2276" r="22.4" class="c13 a10"/><circle cx="4504" cy="2246" r="22.4" class="c11 a10"/><circle cx="4385" cy="2125" r="22.4" class="c2 a10"/><circle cx="4474" cy="2216" r="22.4" class="c9 a10"/><circle cx="5310" cy="2406" r="22.4" class="c27 a10"/><circle cx="5212" cy="2438" r="22.4" class="c28 a10"/><circle cx="4464" cy="2204" r="22.4" class="c8 a10"/><circle cx="4671" cy="2415" r="22.4" class="c23 a10"/><circle cx="5277" cy="2416" r="22.4" class="c27 a10"/><circle cx="4642" cy="2385" r="22.4" class="c21 a10"/><circle cx="4612" cy="2355" r="22.4" class="c19 a10"/><circle cx="4454" cy="2194" r="22.4" class="c7 a10"/><circle cx="4583" cy="2324" r="22.4" class="c17 a10"/><circle cx="5343" cy="2393" r="22.4" class="c26 a10"/><circle cx="4553" cy="2294" r="22.4" class="c14 a10"/><circle cx="4523" cy="2264" r="22.4" class="c12 a10"/><circle cx="4494" cy="2233" r="22.4" class="c10 a10"/><circle cx="4444" cy="2183" r="22.4" class="c6 a10"/><circle cx="5179" cy="2447" r="22.4" class="c28 a10"/><circle cx="4357" cy="2086" r="22.4" class="c0 a10"/><circle cx="4434" cy="2172" r="22.4" class="c6 a10"/><circle cx="4662" cy="2402" r="22.4" class="c22 a10"/><circle cx="4425" cy="2161" r="22.4" class="c5 a10"/><circle cx="4632" cy="2372" r="22.4" class="c20 a10"/><circle cx="4602" cy="2342" r="22.4" class="c18 a10"/><circle cx="5245" cy="2424" r="22.4" class="c27 a10"/><circle cx="4573" cy="2312" r="22.4" class="c16 a10"/><circle cx="4543" cy="2281" r="22.4" class="c13 a10"/><circle cx="4513" cy="2251" r="22.4" class="c11 a10"/><circle cx="4484" cy="2221" r="22.4" class="c9 a10"/><circle cx="4366" cy="2096" r="22.4" class="c0 a10"/><circle cx="4415" cy="2150" r="22.4" class="c4 a10"/><circle cx="4405" cy="2139" r="22.4" class="c3 a10"/><circle cx="4681" cy="2420" r="22.4" class="c23 a10"/><circle cx="4395" cy="2128" r="22.4" class="c3 a10"/><circle cx="4652" cy="2390" r="22.4" class="c21 a10"/><circle cx="5376" cy="2377" r="22.4" class="c25 a10"/><circle cx="4622" cy="2359" r="22.4" class="c19 a10"/><circle cx="4376" cy="2107" r="22.4" class="c1 a10"/><circle cx="4592" cy="2329" r="22.4" class="c17 a10"/><circle cx="4563" cy="2299" r="22.4" class="c15 a10"/><circle cx="4533" cy="2269" r="22.4" class="c13 a10"/><circle cx="4504" cy="2238" r="22.4" class="c10 a10"/><circle cx="4385" cy="2118" r="22.4" class="c2 a10"/><circle cx="4474" cy="2208" r="22.4" class="c8 a10"/><circle cx="5310" cy="2398" r="22.4" class="c26 a10"/><circle cx="5212" cy="2431" r="22.4" class="c27 a10"/><circle cx="4464" cy="2197" r="22.4" class="c7 a10"/><circle cx="4671" cy="2407" r="22.4" class="c22 a10"/><circle cx="5278" cy="2408" r="22.4" class="c26 a10"/><circle cx="4642" cy="2377" r="22.4" class="c20 a10"/><circle cx="4612" cy="2347" r="22.4" class="c18 a10"/><circle cx="4454" cy="2186" r="22.4" class="c7 a10"/><circle cx="4583" cy="2316" r="22.4" class="c16 a10"/><circle cx="5343" cy="2385" r="22.4" class="c26 a10"/><circle cx="4553" cy="2286" r="22.4" class="c14 a10"/><circle cx="4523" cy="2256" r="22.4" class="c12 a10"/><circle cx="4494" cy="2226" r="22.4" class="c9 a10"/><circle cx="4444" cy="2175" r="22.4" class="c6 a10"/><circle cx="5138" cy="2471" r="22.4" class="c29 a10"/><circle cx="5179" cy="2440" r="22.4" class="c28 a10"/><circle cx="4357" cy="2078" r="22.4" class="c0 a10"/><circle cx="4434" cy="2164" r="22.4" class="c5 a10"/><circle cx="4662" cy="2395" r="22.4" class="c21 a10"/><circle cx="4425" cy="2153" r="22.4" class="c4 a10"/><circle cx="4632" cy="2364" r="22.4" class="c19 a10"/><circle cx="4602" cy="2334" r="22.4" class="c17 a10"/><circle cx="5245" cy="2416" r="22.4" class="c27 a10"/><circle cx="4573" cy="2304" r="22.4" class="c15 a10"/><circle cx="4543" cy="2273" r="22.4" class="c13 a10"/><circle cx="4513" cy="2243" r="22.4" class="c11 a10"/><circle cx="4484" cy="2213" r="22.4" class="c8 a10"/><circle cx="4366" cy="2088" r="22.4" class="c0 a10"/><circle cx="4415" cy="2142" r="22.4" class="c3 a10"/><circle cx="4405" cy="2132" r="22.4" class="c3 a10"/><circle cx="4681" cy="2412" r="22.4" class="c23 a10"/><circle cx="4395" cy="2121" r="22.4" class="c2 a10"/><circle cx="4652" cy="2382" r="22.4" class="c20 a10"/><circle cx="4622" cy="2352" r="22.4" class="c18 a10"/><circle cx="4376" cy="2099" r="22.4" class="c0 a10"/><circle cx="4592" cy="2321" r="22.4" class="c16 a10"/><circle cx="4563" cy="2291" r="22.4" class="c14 a10"/><circle cx="4533" cy="2261" r="22.4" class="c12 a10"/><circle cx="4504" cy="2231" r="22.4" class="c10 a10"/><circle cx="4385" cy="2110" r="22.4" class="c1 a10"/><circle cx="4474" cy="2200" r="22.4" class="c7 a10"/><circle cx="5311" cy="2390" r="22.4" class="c25 a10"/><circle cx="5212" cy="2423" r="22.4" class="c27 a10"/><circle cx="4464" cy="2189" r="22.4" class="c7 a10"/><circle cx="4671" cy="2400" r="22.4" class="c22 a10"/><circle cx="5278" cy="2400" r="22.4" class="c26 a10"/><circle cx="4642" cy="2369" r="22.4" class="c19 a10"/><circle cx="4612" cy="2339" r="22.4" class="c17 a10"/><circle cx="4454" cy="2178" r="22.4" class="c6 a10"/><circle cx="4583" cy="2309" r="22.4" class="c15 a10"/><circle cx="5343" cy="2378" r="22.4" class="c25 a10"/><circle cx="4553" cy="2278" r="22.4" class="c13 a10"/><circle cx="4523" cy="2248" r="22.4" class="c11 a10"/><circle cx="4494" cy="2218" r="22.4" class="c9 a10"/><circle cx="4444" cy="2167" r="22.4" class="c5 a10"/><circle cx="5138" cy="2463" r="22.4" class="c29 a10"/><circle cx="5179" cy="2432" r="22.4" class="c27 a10"/><circle cx="4434" cy="2156" r="22.4" class="c4 a10"/><circle cx="4691" cy="2417" r="22.4" class="c23 a10"/><circle cx="4662" cy="2387" r="22.4" class="c21 a10"/><circle cx="4425" cy="2145" r="22.4" class="c3 a10"/><circle cx="4632" cy="2357" r="22.4" class="c19 a10"/><circle cx="4602" cy="2326" r="22.4" class="c16 a10"/><circle cx="5245" cy="2408" r="22.4" class="c26 a10"/><circle cx="4573" cy="2296" r="22.4" class="c14 a10"/><circle cx="4543" cy="2266" r="22.4" class="c12 a10"/><circle cx="4513" cy="2235" r="22.4" class="c10 a10"/><circle cx="4484" cy="2205" r="22.4" class="c8 a10"/><circle cx="4366" cy="2081" r="22.4" class="c0 a10"/><circle cx="4415" cy="2135" r="22.4" class="c3 a10"/><circle cx="4405" cy="2124" r="22.4" class="c2 a10"/><circle cx="4681" cy="2405" r="22.4" class="c22 a10"/><circle cx="4395" cy="2113" r="22.4" class="c1 a10"/><circle cx="4652" cy="2374" r="22.4" class="c20 a10"/><circle cx="4622" cy="2344" r="22.4" class="c18 a10"/><circle cx="4376" cy="2091" r="22.4" class="c0 a10"/><circle cx="4592" cy="2314" r="22.4" class="c15 a10"/><circle cx="4563" cy="2283" r="22.4" class="c13 a10"/><circle cx="4533" cy="2253" r="22.4" class="c11 a10"/><circle cx="4504" cy="2223" r="22.4" class="c9 a10"/><circle cx="4385" cy="2102" r="22.4" class="c0 a10"/><circle cx="4474" cy="2192" r="22.4" class="c7 a10"/><circle cx="5311" cy="2382" r="22.4" class="c25 a10"/><circle cx="5212" cy="2415" r="22.4" class="c26 a10"/><circle cx="4464" cy="2181" r="22.4" class="c6 a10"/><circle cx="4701" cy="2422" r="22.4" class="c23 a10"/><circle cx="4672" cy="2392" r="22.4" class="c21 a10"/><circle cx="5278" cy="2392" r="22.4" class="c25 a10"/><circle cx="4642" cy="2362" r="22.4" class="c19 a10"/><circle cx="4612" cy="2331" r="22.4" class="c17 a10"/><circle cx="4454" cy="2170" r="22.4" class="c5 a10"/><circle cx="4583" cy="2301" r="22.4" class="c14 a10"/><circle cx="4553" cy="2271" r="22.4" class="c12 a10"/><circle cx="4523" cy="2240" r="22.4" class="c10 a10"/><circle cx="4494" cy="2210" r="22.4" class="c8 a10"/><circle cx="4444" cy="2159" r="22.4" class="c4 a10"/><circle cx="5139" cy="2455" r="22.4" class="c28 a10"/><circle cx="5180" cy="2424" r="22.4" class="c26 a10"/><circle cx="4434" cy="2149" r="22.4" class="c4 a10"/><circle cx="4691" cy="2410" r="22.4" class="c22 a10"/><circle cx="4662" cy="2379" r="22.4" class="c20 a10"/><circle cx="4425" cy="2138" r="22.4" class="c3 a10"/><circle cx="4632" cy="2349" r="22.4" class="c18 a10"/><circle cx="4602" cy="2319" r="22.4" class="c16 a10"/><circle cx="5245" cy="2400" r="22.4" class="c25 a10"/><circle cx="4573" cy="2288" r="22.4" class="c13 a10"/><circle cx="4543" cy="2258" r="22.4" class="c11 a10"/><circle cx="4513" cy="2228" r="22.4" class="c9 a10"/><circle cx="4484" cy="2197" r="22.4" class="c7 a10"/><circle cx="4415" cy="2127" r="22.4" class="c2 a10"/><circle cx="4405" cy="2116" r="22.4" class="c1 a10"/><circle cx="4681" cy="2397" r="22.4" class="c21 a10"/><circle cx="4395" cy="2105" r="22.4" class="c0 a10"/><circle cx="4652" cy="2367" r="22.4" class="c19 a10"/><circle cx="4622" cy="2336" r="22.4" class="c17 a10"/><circle cx="4376" cy="2083" r="22.4" class="c0 a10"/><circle cx="4593" cy="2306" r="22.4" class="c15 a10"/><circle cx="4563" cy="2276" r="22.4" class="c12 a10"/><circle cx="4533" cy="2245" r="22.4" class="c10 a10"/><circle cx="4504" cy="2215" r="22.4" class="c8 a10"/><circle cx="4385" cy="2094" r="22.4" class="c0 a10"/><circle cx="4474" cy="2185" r="22.4" class="c6 a10"/><circle cx="5311" cy="2375" r="22.4" class="c24 a10"/><circle cx="5212" cy="2407" r="22.4" class="c25 a10"/><circle cx="4464" cy="2173" r="22.4" class="c5 a10"/><circle cx="4701" cy="2415" r="22.4" class="c22 a10"/><circle cx="4672" cy="2384" r="22.4" class="c20 a10"/><circle cx="5278" cy="2385" r="22.4" class="c24 a10"/><circle cx="4642" cy="2354" r="22.4" class="c18 a10"/><circle cx="4612" cy="2324" r="22.4" class="c16 a10"/><circle cx="4454" cy="2162" r="22.4" class="c4 a10"/><circle cx="4583" cy="2293" r="22.4" class="c14 a10"/><circle cx="4553" cy="2263" r="22.4" class="c12 a10"/><circle cx="4523" cy="2233" r="22.4" class="c9 a10"/><circle cx="4494" cy="2202" r="22.4" class="c7 a10"/><circle cx="4444" cy="2152" r="22.4" class="c4 a10"/><circle cx="5139" cy="2447" r="22.4" class="c27 a10"/><circle cx="5180" cy="2417" r="22.4" class="c25 a10"/><circle cx="4434" cy="2141" r="22.4" class="c3 a10"/><circle cx="4691" cy="2402" r="22.4" class="c21 a10"/><circle cx="4662" cy="2372" r="22.4" class="c19 a10"/><circle cx="4425" cy="2130" r="22.4" class="c2 a10"/><circle cx="4632" cy="2341" r="22.4" class="c17 a10"/><circle cx="4602" cy="2311" r="22.4" class="c15 a10"/><circle cx="5245" cy="2393" r="22.4" class="c24 a10"/><circle cx="4573" cy="2281" r="22.4" class="c13 a10"/><circle cx="4543" cy="2250" r="22.4" class="c11 a10"/><circle cx="4513" cy="2220" r="22.4" class="c8 a10"/><circle cx="4484" cy="2190" r="22.4" class="c6 a10"/><circle cx="4415" cy="2119" r="22.4" class="c1 a10"/><circle cx="4405" cy="2108" r="22.4" class="c0 a10"/><circle cx="4681" cy="2389" r="22.4" class="c20 a10"/><circle cx="4395" cy="2097" r="22.4" class="c0 a10"/><circle cx="4652" cy="2359" r="22.4" class="c18 a10"/><circle cx="4622" cy="2328" r="22.4" class="c16 a10"/><circle cx="4593" cy="2298" r="22.4" class="c14 a10"/><circle cx="4563" cy="2268" r="22.4" class="c12 a10"/><circle cx="4533" cy="2238" r="22.4" class="c10 a10"/><circle cx="4711" cy="2419" r="22.4" class="c23 a10"/><circle cx="4504" cy="2207" r="22.4" class="c7 a10"/><circle cx="4385" cy="2086" r="22.4" class="c0 a10"/><circle cx="4474" cy="2177" r="22.4" class="c5 a10"/><circle cx="5213" cy="2400" r="22.4" class="c24 a10"/><circle cx="4464" cy="2166" r="22.4" class="c4 a10"/><circle cx="4701" cy="2407" r="22.4" class="c22 a10"/><circle cx="4672" cy="2376" r="22.4" class="c19 a10"/><circle cx="5278" cy="2377" r="22.4" class="c24 a10"/><circle cx="4642" cy="2346" r="22.4" class="c17 a10"/><circle cx="4612" cy="2316" r="22.4" class="c15 a10"/><circle cx="4454" cy="2155" r="22.4" class="c4 a10"/><circle cx="4583" cy="2285" r="22.4" class="c13 a10"/><circle cx="4553" cy="2255" r="22.4" class="c11 a10"/><circle cx="4523" cy="2225" r="22.4" class="c9 a10"/><circle cx="4494" cy="2195" r="22.4" class="c6 a10"/><circle cx="4444" cy="2144" r="22.4" class="c3 a10"/><circle cx="5139" cy="2440" r="22.4" class="c27 a10"/><circle cx="5180" cy="2409" r="22.4" class="c25 a10"/><circle cx="4434" cy="2133" r="22.4" class="c2 a10"/><circle cx="4691" cy="2394" r="22.4" class="c21 a10"/><circle cx="4662" cy="2364" r="22.4" class="c18 a10"/><circle cx="4425" cy="2122" r="22.4" class="c1 a10"/><circle cx="4632" cy="2333" r="22.4" class="c16 a10"/><circle cx="4602" cy="2303" r="22.4" class="c14 a10"/><circle cx="5246" cy="2385" r="22.4" class="c24 a10"/><circle cx="4573" cy="2273" r="22.4" class="c12 a10"/><circle cx="4543" cy="2242" r="22.4" class="c10 a10"/><circle cx="4513" cy="2212" r="22.4" class="c8 a10"/><circle cx="4484" cy="2182" r="22.4" class="c6 a10"/><circle cx="4415" cy="2111" r="22.4" class="c0 a10"/><circle cx="4721" cy="2423" r="22.4" class="c23 a10"/><circle cx="4405" cy="2100" r="22.4" class="c0 a10"/><circle cx="4681" cy="2381" r="22.4" class="c20 a10"/><circle cx="4395" cy="2090" r="22.4" class="c0 a10"/><circle cx="4652" cy="2351" r="22.4" class="c18 a10"/><circle cx="4622" cy="2321" r="22.4" class="c15 a10"/><circle cx="4593" cy="2290" r="22.4" class="c13 a10"/><circle cx="4563" cy="2260" r="22.4" class="c11 a10"/><circle cx="4533" cy="2230" r="22.4" class="c9 a10"/><circle cx="4711" cy="2411" r="22.4" class="c22 a10"/><circle cx="4504" cy="2199" r="22.4" class="c7 a10"/><circle cx="4474" cy="2169" r="22.4" class="c5 a10"/><circle cx="5213" cy="2392" r="22.4" class="c24 a10"/><circle cx="4464" cy="2158" r="22.4" class="c4 a10"/><circle cx="4701" cy="2399" r="22.4" class="c21 a10"/><circle cx="4672" cy="2369" r="22.4" class="c19 a10"/><circle cx="4642" cy="2338" r="22.4" class="c17 a10"/><circle cx="4612" cy="2308" r="22.4" class="c14 a10"/><circle cx="4454" cy="2147" r="22.4" class="c3 a10"/><circle cx="4583" cy="2278" r="22.4" class="c12 a10"/><circle cx="4553" cy="2247" r="22.4" class="c10 a10"/><circle cx="4523" cy="2217" r="22.4" class="c8 a10"/><circle cx="4494" cy="2187" r="22.4" class="c6 a10"/><circle cx="4444" cy="2136" r="22.4" class="c2 a10"/><circle cx="5139" cy="2432" r="22.4" class="c26 a10"/><circle cx="5180" cy="2401" r="22.4" class="c24 a10"/><circle cx="4434" cy="2125" r="22.4" class="c1 a10"/><circle cx="4731" cy="2427" r="22.4" class="c23 a10"/><circle cx="4691" cy="2386" r="22.4" class="c20 a10"/><circle cx="4662" cy="2356" r="22.4" class="c18 a10"/><circle cx="4425" cy="2114" r="22.4" class="c1 a10"/><circle cx="4632" cy="2326" r="22.4" class="c16 a10"/><circle cx="4602" cy="2295" r="22.4" class="c13 a10"/><circle cx="5246" cy="2377" r="22.4" class="c23 a10"/><circle cx="4573" cy="2265" r="22.4" class="c11 a10"/><circle cx="4543" cy="2235" r="22.4" class="c9 a10"/><circle cx="4513" cy="2204" r="22.4" class="c7 a10"/><circle cx="4484" cy="2174" r="22.4" class="c5 a10"/><circle cx="4415" cy="2103" r="22.4" class="c0 a10"/><circle cx="4721" cy="2415" r="22.4" class="c22 a10"/><circle cx="4405" cy="2093" r="22.4" class="c0 a10"/><circle cx="4682" cy="2374" r="22.4" class="c19 a10"/><circle cx="4652" cy="2343" r="22.4" class="c17 a10"/><circle cx="4622" cy="2313" r="22.4" class="c15 a10"/><circle cx="4593" cy="2283" r="22.4" class="c12 a10"/><circle cx="4563" cy="2252" r="22.4" class="c10 a10"/><circle cx="4533" cy="2222" r="22.4" class="c8 a10"/><circle cx="4711" cy="2403" r="22.4" class="c21 a10"/><circle cx="4504" cy="2192" r="22.4" class="c6 a10"/><circle cx="4474" cy="2161" r="22.4" class="c4 a10"/><circle cx="5213" cy="2384" r="22.4" class="c23 a10"/><circle cx="4464" cy="2150" r="22.4" class="c3 a10"/><circle cx="4701" cy="2391" r="22.4" class="c20 a10"/><circle cx="4672" cy="2361" r="22.4" class="c18 a10"/><circle cx="4642" cy="2331" r="22.4" class="c16 a10"/><circle cx="4612" cy="2300" r="22.4" class="c14 a10"/><circle cx="4454" cy="2139" r="22.4" class="c2 a10"/><circle cx="4583" cy="2270" r="22.4" class="c12 a10"/><circle cx="4553" cy="2240" r="22.4" class="c9 a10"/><circle cx="4741" cy="2431" r="22.4" class="c23 a10"/><circle cx="4523" cy="2209" r="22.4" class="c7 a10"/><circle cx="4494" cy="2179" r="22.4" class="c5 a10"/><circle cx="4444" cy="2128" r="22.4" class="c1 a10"/><circle cx="5139" cy="2424" r="22.4" class="c25 a10"/><circle cx="5180" cy="2393" r="22.4" class="c23 a10"/><circle cx="4434" cy="2117" r="22.4" class="c1 a10"/><circle cx="5100" cy="2464" r="22.4" class="c27 a10"/><circle cx="4731" cy="2419" r="22.4" class="c22 a10"/><circle cx="4691" cy="2379" r="22.4" class="c19 a10"/><circle cx="4662" cy="2348" r="22.4" class="c17 a10"/><circle cx="4425" cy="2106" r="22.4" class="c0 a10"/><circle cx="4632" cy="2318" r="22.4" class="c15 a10"/><circle cx="4602" cy="2288" r="22.4" class="c13 a10"/><circle cx="5246" cy="2369" r="22.4" class="c22 a10"/><circle cx="4573" cy="2257" r="22.4" class="c11 a10"/><circle cx="4543" cy="2227" r="22.4" class="c8 a10"/><circle cx="4513" cy="2197" r="22.4" class="c6 a10"/><circle cx="4484" cy="2166" r="22.4" class="c4 a10"/><circle cx="4415" cy="2096" r="22.4" class="c0 a10"/><circle cx="4721" cy="2407" r="22.4" class="c21 a10"/><circle cx="4682" cy="2366" r="22.4" class="c18 a10"/><circle cx="4652" cy="2336" r="22.4" class="c16 a10"/><circle cx="4622" cy="2305" r="22.4" class="c14 a10"/><circle cx="4593" cy="2275" r="22.4" class="c12 a10"/><circle cx="4563" cy="2245" r="22.4" class="c10 a10"/><circle cx="4533" cy="2214" r="22.4" class="c7 a10"/><circle cx="4711" cy="2395" r="22.4" class="c20 a10"/><circle cx="4504" cy="2184" r="22.4" class="c5 a10"/><circle cx="4474" cy="2154" r="22.4" class="c3 a10"/><circle cx="5213" cy="2376" r="22.4" class="c22 a10"/><circle cx="4464" cy="2142" r="22.4" class="c2 a10"/><circle cx="4701" cy="2384" r="22.4" class="c19 a10"/><circle cx="4672" cy="2353" r="22.4" class="c17 a10"/><circle cx="4642" cy="2323" r="22.4" class="c15 a10"/><circle cx="4612" cy="2293" r="22.4" class="c13 a10"/><circle cx="4454" cy="2131" r="22.4" class="c1 a10"/><circle cx="4583" cy="2262" r="22.4" class="c11 a10"/><circle cx="4553" cy="2232" r="22.4" class="c9 a10"/><circle cx="4741" cy="2423" r="22.4" class="c22 a10"/><circle cx="4523" cy="2202" r="22.4" class="c6 a10"/><circle cx="4494" cy="2171" r="22.4" class="c4 a10"/><circle cx="4444" cy="2120" r="22.4" class="c1 a10"/><circle cx="5139" cy="2417" r="22.4" class="c24 a10"/><circle cx="5180" cy="2386" r="22.4" class="c23 a10"/><circle cx="4434" cy="2110" r="22.4" class="c0 a10"/><circle cx="5100" cy="2456" r="22.4" class="c27 a11"/><circle cx="4731" cy="2411" r="22.4" class="c21 a11"/><circle cx="4691" cy="2371" r="22.4" class="c18 a11"/><circle cx="4662" cy="2341" r="22.4" class="c16 a11"/><circle cx="4425" cy="2099" r="22.4" class="c0 a11"/><circle cx="4632" cy="2310" r="22.4" class="c14 a11"/><circle cx="4603" cy="2280" r="22.4" class="c12 a11"/><circle cx="4573" cy="2249" r="22.4" class="c10 a11"/><circle cx="4543" cy="2219" r="22.4" class="c8 a11"/><circle cx="4514" cy="2189" r="22.4" class="c5 a11"/><circle cx="4783" cy="2440" r="22.4" class="c23 a11"/><circle cx="4484" cy="2158" r="22.4" class="c3 a11"/><circle cx="4682" cy="2358" r="22.4" class="c18 a11"/><circle cx="4652" cy="2328" r="22.4" class="c15 a11"/><circle cx="4622" cy="2297" r="22.4" class="c13 a11"/><circle cx="4593" cy="2267" r="22.4" class="c11 a11"/><circle cx="4563" cy="2237" r="22.4" class="c9 a11"/><circle cx="4533" cy="2206" r="22.4" class="c7 a11"/><circle cx="4711" cy="2388" r="22.4" class="c20 a11"/><circle cx="4504" cy="2176" r="22.4" class="c5 a11"/><circle cx="4474" cy="2146" r="22.4" class="c2 a11"/><circle cx="4751" cy="2427" r="22.4" class="c22 a11"/><circle cx="5213" cy="2369" r="22.4" class="c22 a11"/><circle cx="4464" cy="2134" r="22.4" class="c2 a11"/><circle cx="4701" cy="2376" r="22.4" class="c19 a11"/><circle cx="4672" cy="2346" r="22.4" class="c17 a11"/><circle cx="4642" cy="2315" r="22.4" class="c14 a11"/><circle cx="4612" cy="2285" r="22.4" class="c12 a11"/><circle cx="4454" cy="2123" r="22.4" class="c1 a11"/><circle cx="4583" cy="2254" r="22.4" class="c10 a11"/><circle cx="4553" cy="2224" r="22.4" class="c8 a11"/><circle cx="4741" cy="2415" r="22.4" class="c22 a11"/><circle cx="4523" cy="2194" r="22.4" class="c6 a11"/><circle cx="4761" cy="2431" r="22.4" class="c23 a11"/><circle cx="4494" cy="2163" r="22.4" class="c4 a11"/><circle cx="4795" cy="2437" r="22.4" class="c23 a11"/><circle cx="4444" cy="2113" r="22.4" class="c0 a11"/><circle cx="5139" cy="2409" r="22.4" class="c24 a11"/><circle cx="5180" cy="2378" r="22.4" class="c22 a11"/><circle cx="4434" cy="2102" r="22.4" class="c0 a11"/><circle cx="5100" cy="2449" r="22.4" class="c26 a11"/><circle cx="4731" cy="2404" r="22.4" class="c21 a11"/><circle cx="4692" cy="2363" r="22.4" class="c18 a11"/><circle cx="4662" cy="2333" r="22.4" class="c16 a11"/><circle cx="4632" cy="2302" r="22.4" class="c13 a11"/><circle cx="4603" cy="2272" r="22.4" class="c11 a11"/><circle cx="4573" cy="2242" r="22.4" class="c9 a11"/><circle cx="4543" cy="2211" r="22.4" class="c7 a11"/><circle cx="4514" cy="2181" r="22.4" class="c5 a11"/><circle cx="4783" cy="2433" r="22.4" class="c23 a11"/><circle cx="4484" cy="2151" r="22.4" class="c3 a11"/><circle cx="4721" cy="2392" r="22.4" class="c20 a11"/><circle cx="4682" cy="2350" r="22.4" class="c17 a11"/><circle cx="4652" cy="2320" r="22.4" class="c15 a11"/><circle cx="4622" cy="2290" r="22.4" class="c12 a11"/><circle cx="4593" cy="2259" r="22.4" class="c10 a11"/><circle cx="4563" cy="2229" r="22.4" class="c8 a11"/><circle cx="4533" cy="2199" r="22.4" class="c6 a11"/><circle cx="4711" cy="2380" r="22.4" class="c19 a11"/><circle cx="4504" cy="2168" r="22.4" class="c4 a11"/><circle cx="4772" cy="2428" r="22.4" class="c22 a11"/><circle cx="4474" cy="2138" r="22.4" class="c2 a11"/><circle cx="4751" cy="2419" r="22.4" class="c22 a11"/><circle cx="5213" cy="2361" r="22.4" class="c21 a11"/><circle cx="4464" cy="2127" r="22.4" class="c1 a11"/><circle cx="4701" cy="2368" r="22.4" class="c18 a11"/><circle cx="4672" cy="2338" r="22.4" class="c16 a11"/><circle cx="4642" cy="2307" r="22.4" class="c14 a11"/><circle cx="4612" cy="2277" r="22.4" class="c11 a11"/><circle cx="4454" cy="2116" r="22.4" class="c0 a11"/><circle cx="4583" cy="2247" r="22.4" class="c9 a11"/><circle cx="4553" cy="2216" r="22.4" class="c7 a11"/><circle cx="4741" cy="2408" r="22.4" class="c21 a11"/><circle cx="4523" cy="2186" r="22.4" class="c5 a11"/><circle cx="4761" cy="2424" r="22.4" class="c22 a11"/><circle cx="4494" cy="2156" r="22.4" class="c3 a11"/><circle cx="4795" cy="2429" r="22.4" class="c22 a11"/><circle cx="4444" cy="2105" r="22.4" class="c0 a11"/><circle cx="5140" cy="2401" r="22.4" class="c23 a11"/><circle cx="5181" cy="2370" r="22.4" class="c21 a11"/><circle cx="5100" cy="2441" r="22.4" class="c25 a11"/><circle cx="4731" cy="2396" r="22.4" class="c20 a11"/><circle cx="4692" cy="2355" r="22.4" class="c17 a11"/><circle cx="4662" cy="2325" r="22.4" class="c15 a11"/><circle cx="4632" cy="2295" r="22.4" class="c13 a11"/><circle cx="4603" cy="2264" r="22.4" class="c11 a11"/><circle cx="4573" cy="2234" r="22.4" class="c8 a11"/><circle cx="4543" cy="2204" r="22.4" class="c6 a11"/><circle cx="4514" cy="2173" r="22.4" class="c4 a11"/><circle cx="4784" cy="2425" r="22.4" class="c22 a11"/><circle cx="4484" cy="2143" r="22.4" class="c2 a11"/><circle cx="4721" cy="2384" r="22.4" class="c19 a11"/><circle cx="4927" cy="2450" r="22.4" class="c24 a11"/><circle cx="4682" cy="2343" r="22.4" class="c16 a11"/><circle cx="4652" cy="2312" r="22.4" class="c14 a11"/><circle cx="4622" cy="2282" r="22.4" class="c12 a11"/><circle cx="4593" cy="2252" r="22.4" class="c10 a11"/><circle cx="4563" cy="2221" r="22.4" class="c7 a11"/><circle cx="4533" cy="2191" r="22.4" class="c5 a11"/><circle cx="4711" cy="2372" r="22.4" class="c18 a11"/><circle cx="4504" cy="2161" r="22.4" class="c3 a11"/><circle cx="4773" cy="2420" r="22.4" class="c22 a11"/><circle cx="4474" cy="2130" r="22.4" class="c1 a11"/><circle cx="4751" cy="2412" r="22.4" class="c21 a11"/><circle cx="4464" cy="2119" r="22.4" class="c0 a11"/><circle cx="4702" cy="2360" r="22.4" class="c17 a11"/><circle cx="4672" cy="2330" r="22.4" class="c15 a11"/><circle cx="4642" cy="2300" r="22.4" class="c13 a11"/><circle cx="4612" cy="2269" r="22.4" class="c11 a11"/><circle cx="4454" cy="2108" r="22.4" class="c0 a11"/><circle cx="4583" cy="2239" r="22.4" class="c9 a11"/><circle cx="4861" cy="2434" r="22.4" class="c22 a11"/><circle cx="4894" cy="2440" r="22.4" class="c23 a11"/><circle cx="4553" cy="2209" r="22.4" class="c6 a11"/><circle cx="4741" cy="2400" r="22.4" class="c20 a11"/><circle cx="4523" cy="2178" r="22.4" class="c4 a11"/><circle cx="4761" cy="2416" r="22.4" class="c21 a11"/><circle cx="4494" cy="2148" r="22.4" class="c2 a11"/><circle cx="4795" cy="2422" r="22.4" class="c22 a11"/><circle cx="5140" cy="2393" r="22.4" class="c22 a11"/><circle cx="5181" cy="2362" r="22.4" class="c20 a11"/><circle cx="5100" cy="2433" r="22.4" class="c25 a11"/><circle cx="5060" cy="2468" r="22.4" class="c27 a11"/><circle cx="4731" cy="2388" r="22.4" class="c19 a11"/><circle cx="4692" cy="2348" r="22.4" class="c16 a11"/><circle cx="4662" cy="2317" r="22.4" class="c14 a11"/><circle cx="4632" cy="2287" r="22.4" class="c12 a11"/><circle cx="4603" cy="2257" r="22.4" class="c10 a11"/><circle cx="4573" cy="2226" r="22.4" class="c8 a11"/><circle cx="4543" cy="2196" r="22.4" class="c5 a11"/><circle cx="4514" cy="2165" r="22.4" class="c3 a11"/><circle cx="4784" cy="2417" r="22.4" class="c21 a11"/><circle cx="4484" cy="2135" r="22.4" class="c1 a11"/><circle cx="4721" cy="2376" r="22.4" class="c18 a11"/><circle cx="4927" cy="2442" r="22.4" class="c23 a11"/><circle cx="4682" cy="2335" r="22.4" class="c15 a11"/><circle cx="4652" cy="2305" r="22.4" class="c13 a11"/><circle cx="4622" cy="2274" r="22.4" class="c11 a11"/><circle cx="4828" cy="2423" r="22.4" class="c22 a11"/><circle cx="4593" cy="2244" r="22.4" class="c9 a11"/><circle cx="4563" cy="2213" r="22.4" class="c7 a11"/><circle cx="4533" cy="2183" r="22.4" class="c4 a11"/><circle cx="4711" cy="2364" r="22.4" class="c17 a11"/><circle cx="4504" cy="2153" r="22.4" class="c2 a11"/><circle cx="4773" cy="2413" r="22.4" class="c21 a11"/><circle cx="4474" cy="2122" r="22.4" class="c0 a11"/><circle cx="4751" cy="2404" r="22.4" class="c20 a11"/><circle cx="4464" cy="2111" r="22.4" class="c0 a11"/><circle cx="4702" cy="2353" r="22.4" class="c17 a11"/><circle cx="4672" cy="2322" r="22.4" class="c14 a11"/><circle cx="4612" cy="2261" r="22.4" class="c10 a11"/><circle cx="4583" cy="2231" r="22.4" class="c8 a11"/><circle cx="4861" cy="2426" r="22.4" class="c22 a11"/><circle cx="4894" cy="2432" r="22.4" class="c22 a11"/><circle cx="4553" cy="2201" r="22.4" class="c6 a11"/><circle cx="4994" cy="2450" r="22.4" class="c24 a11"/><circle cx="4741" cy="2392" r="22.4" class="c19 a11"/><circle cx="4523" cy="2170" r="22.4" class="c4 a11"/><circle cx="4762" cy="2408" r="22.4" class="c20 a11"/><circle cx="4494" cy="2140" r="22.4" class="c1 a11"/><circle cx="4795" cy="2414" r="22.4" class="c21 a11"/><circle cx="5140" cy="2386" r="22.4" class="c21 a11"/><circle cx="5100" cy="2425" r="22.4" class="c24 a11"/><circle cx="5060" cy="2460" r="22.4" class="c26 a11"/><circle cx="4731" cy="2380" r="22.4" class="c18 a11"/><circle cx="4692" cy="2340" r="22.4" class="c16 a11"/><circle cx="4662" cy="2310" r="22.4" class="c13 a11"/><circle cx="4632" cy="2279" r="22.4" class="c11 a11"/><circle cx="4603" cy="2249" r="22.4" class="c9 a11"/><circle cx="4573" cy="2218" r="22.4" class="c7 a11"/><circle cx="4543" cy="2188" r="22.4" class="c5 a11"/><circle cx="4514" cy="2158" r="22.4" class="c3 a11"/><circle cx="4784" cy="2409" r="22.4" class="c20 a11"/><circle cx="4484" cy="2127" r="22.4" class="c0 a11"/><circle cx="4721" cy="2369" r="22.4" class="c18 a11"/><circle cx="4928" cy="2434" r="22.4" class="c23 a11"/><circle cx="4682" cy="2327" r="22.4" class="c15 a11"/><circle cx="4652" cy="2297" r="22.4" class="c12 a11"/><circle cx="4622" cy="2266" r="22.4" class="c10 a11"/><circle cx="4828" cy="2415" r="22.4" class="c21 a11"/><circle cx="4593" cy="2236" r="22.4" class="c8 a11"/><circle cx="4533" cy="2175" r="22.4" class="c4 a11"/><circle cx="4711" cy="2357" r="22.4" class="c17 a11"/><circle cx="4504" cy="2145" r="22.4" class="c2 a11"/><circle cx="4773" cy="2405" r="22.4" class="c20 a11"/><circle cx="4474" cy="2115" r="22.4" class="c0 a11"/><circle cx="4751" cy="2396" r="22.4" class="c19 a11"/><circle cx="4702" cy="2345" r="22.4" class="c16 a11"/><circle cx="4642" cy="2284" r="22.4" class="c11 a11"/><circle cx="4613" cy="2254" r="22.4" class="c9 a11"/><circle cx="4583" cy="2223" r="22.4" class="c7 a11"/><circle cx="4861" cy="2418" r="22.4" class="c21 a11"/><circle cx="4894" cy="2424" r="22.4" class="c21 a11"/><circle cx="4553" cy="2193" r="22.4" class="c5 a11"/><circle cx="4994" cy="2442" r="22.4" class="c24 a11"/><circle cx="4741" cy="2384" r="22.4" class="c19 a11"/><circle cx="4523" cy="2163" r="22.4" class="c3 a11"/><circle cx="4762" cy="2400" r="22.4" class="c20 a11"/><circle cx="4494" cy="2132" r="22.4" class="c1 a11"/><circle cx="4795" cy="2406" r="22.4" class="c20 a11"/><circle cx="5140" cy="2378" r="22.4" class="c21 a11"/><circle cx="5100" cy="2418" r="22.4" class="c23 a11"/><circle cx="5060" cy="2452" r="22.4" class="c25 a11"/><circle cx="4731" cy="2373" r="22.4" class="c18 a11"/><circle cx="4692" cy="2332" r="22.4" class="c15 a11"/><circle cx="4662" cy="2302" r="22.4" class="c13 a11"/><circle cx="4632" cy="2271" r="22.4" class="c10 a11"/><circle cx="4603" cy="2241" r="22.4" class="c8 a11"/><circle cx="4573" cy="2211" r="22.4" class="c6 a11"/><circle cx="4543" cy="2180" r="22.4" class="c4 a11"/><circle cx="4514" cy="2150" r="22.4" class="c2 a11"/><circle cx="4784" cy="2402" r="22.4" class="c20 a11"/><circle cx="4484" cy="2119" r="22.4" class="c0 a11"/><circle cx="4721" cy="2361" r="22.4" class="c17 a11"/><circle cx="4928" cy="2426" r="22.4" class="c22 a11"/><circle cx="4682" cy="2319" r="22.4" class="c14 a11"/><circle cx="4652" cy="2289" r="22.4" class="c12 a11"/><circle cx="4622" cy="2259" r="22.4" class="c10 a11"/><circle cx="4828" cy="2408" r="22.4" class="c20 a11"/><circle cx="4563" cy="2198" r="22.4" class="c5 a11"/><circle cx="4533" cy="2167" r="22.4" class="c3 a11"/><circle cx="4712" cy="2349" r="22.4" class="c16 a11"/><circle cx="4504" cy="2137" r="22.4" class="c1 a11"/><circle cx="4773" cy="2397" r="22.4" class="c19 a11"/><circle cx="4751" cy="2388" r="22.4" class="c19 a11"/><circle cx="4702" cy="2337" r="22.4" class="c15 a11"/><circle cx="4672" cy="2307" r="22.4" class="c13 a11"/><circle cx="4642" cy="2276" r="22.4" class="c11 a11"/><circle cx="4613" cy="2246" r="22.4" class="c9 a11"/><circle cx="4583" cy="2216" r="22.4" class="c6 a11"/><circle cx="4861" cy="2411" r="22.4" class="c20 a11"/><circle cx="4894" cy="2417" r="22.4" class="c21 a11"/><circle cx="4553" cy="2185" r="22.4" class="c4 a11"/><circle cx="4994" cy="2434" r="22.4" class="c23 a11"/><circle cx="4741" cy="2377" r="22.4" class="c18 a11"/><circle cx="4523" cy="2155" r="22.4" class="c2 a11"/><circle cx="4762" cy="2393" r="22.4" class="c19 a11"/><circle cx="4494" cy="2124" r="22.4" class="c0 a11"/><circle cx="4795" cy="2398" r="22.4" class="c19 a11"/><circle cx="5027" cy="2440" r="22.4" class="c24 a11"/><circle cx="5140" cy="2370" r="22.4" class="c20 a11"/><circle cx="5101" cy="2410" r="22.4" class="c22 a11"/><circle cx="5060" cy="2444" r="22.4" class="c24 a11"/><circle cx="4731" cy="2365" r="22.4" class="c17 a11"/><circle cx="4692" cy="2324" r="22.4" class="c14 a11"/><circle cx="4662" cy="2294" r="22.4" class="c12 a11"/><circle cx="4632" cy="2264" r="22.4" class="c10 a11"/><circle cx="4603" cy="2233" r="22.4" class="c8 a11"/><circle cx="4573" cy="2203" r="22.4" class="c5 a11"/><circle cx="4543" cy="2172" r="22.4" class="c3 a11"/><circle cx="4784" cy="2394" r="22.4" class="c19 a11"/><circle cx="4721" cy="2353" r="22.4" class="c16 a11"/><circle cx="4928" cy="2419" r="22.4" class="c21 a11"/><circle cx="4961" cy="2424" r="22.4" class="c22 a11"/><circle cx="4682" cy="2312" r="22.4" class="c13 a11"/><circle cx="4652" cy="2281" r="22.4" class="c11 a11"/><circle cx="4622" cy="2251" r="22.4" class="c9 a11"/><circle cx="4828" cy="2400" r="22.4" class="c19 a11"/><circle cx="4593" cy="2220" r="22.4" class="c7 a11"/><circle cx="4563" cy="2190" r="22.4" class="c4 a11"/><circle cx="4533" cy="2160" r="22.4" class="c2 a11"/><circle cx="4712" cy="2341" r="22.4" class="c15 a11"/><circle cx="4504" cy="2129" r="22.4" class="c0 a11"/><circle cx="4773" cy="2389" r="22.4" class="c19 a11"/><circle cx="4751" cy="2381" r="22.4" class="c18 a11"/><circle cx="4702" cy="2329" r="22.4" class="c14 a11"/><circle cx="4672" cy="2299" r="22.4" class="c12 a11"/><circle cx="4642" cy="2269" r="22.4" class="c10 a11"/><circle cx="4613" cy="2238" r="22.4" class="c8 a11"/><circle cx="4583" cy="2208" r="22.4" class="c6 a11"/><circle cx="4861" cy="2403" r="22.4" class="c20 a11"/><circle cx="4895" cy="2409" r="22.4" class="c20 a11"/><circle cx="4553" cy="2177" r="22.4" class="c3 a11"/><circle cx="4994" cy="2426" r="22.4" class="c22 a11"/><circle cx="4741" cy="2369" r="22.4" class="c17 a11"/><circle cx="4523" cy="2147" r="22.4" class="c1 a11"/><circle cx="4762" cy="2385" r="22.4" class="c18 a11"/><circle cx="4795" cy="2391" r="22.4" class="c19 a11"/><circle cx="5027" cy="2432" r="22.4" class="c23 a11"/><circle cx="5140" cy="2362" r="22.4" class="c19 a11"/><circle cx="5101" cy="2402" r="22.4" class="c22 a11"/><circle cx="5061" cy="2437" r="22.4" class="c24 a11"/><circle cx="4731" cy="2357" r="22.4" class="c16 a11"/><circle cx="4692" cy="2317" r="22.4" class="c13 a11"/><circle cx="4662" cy="2286" r="22.4" class="c11 a11"/><circle cx="4632" cy="2256" r="22.4" class="c9 a11"/><circle cx="4603" cy="2225" r="22.4" class="c7 a11"/><circle cx="4573" cy="2195" r="22.4" class="c5 a11"/><circle cx="4543" cy="2165" r="22.4" class="c3 a11"/><circle cx="4514" cy="2134" r="22.4" class="c0 a11"/><circle cx="4784" cy="2386" r="22.4" class="c18 a11"/><circle cx="4722" cy="2345" r="22.4" class="c15 a11"/><circle cx="4928" cy="2411" r="22.4" class="c20 a11"/><circle cx="4961" cy="2416" r="22.4" class="c21 a11"/><circle cx="4682" cy="2304" r="22.4" class="c12 a11"/><circle cx="4652" cy="2273" r="22.4" class="c10 a11"/><circle cx="4623" cy="2243" r="22.4" class="c8 a11"/><circle cx="4828" cy="2392" r="22.4" class="c19 a11"/><circle cx="4593" cy="2213" r="22.4" class="c6 a11"/><circle cx="4563" cy="2182" r="22.4" class="c4 a11"/><circle cx="4533" cy="2152" r="22.4" class="c2 a11"/><circle cx="4712" cy="2333" r="22.4" class="c14 a11"/><circle cx="4773" cy="2382" r="22.4" class="c18 a11"/><circle cx="4751" cy="2373" r="22.4" class="c17 a11"/><circle cx="4702" cy="2322" r="22.4" class="c14 a11"/><circle cx="4672" cy="2291" r="22.4" class="c11 a11"/><circle cx="4642" cy="2261" r="22.4" class="c9 a11"/><circle cx="4613" cy="2230" r="22.4" class="c7 a11"/><circle cx="4583" cy="2200" r="22.4" class="c5 a11"/><circle cx="4861" cy="2395" r="22.4" class="c19 a11"/><circle cx="4895" cy="2401" r="22.4" class="c19 a11"/><circle cx="4553" cy="2170" r="22.4" class="c3 a11"/><circle cx="4994" cy="2419" r="22.4" class="c22 a11"/><circle cx="4741" cy="2361" r="22.4" class="c16 a11"/><circle cx="4523" cy="2139" r="22.4" class="c1 a11"/><circle cx="4762" cy="2377" r="22.4" class="c18 a11"/><circle cx="4795" cy="2383" r="22.4" class="c18 a11"/><circle cx="5028" cy="2424" r="22.4" class="c22 a11"/><circle cx="5101" cy="2394" r="22.4" class="c21 a11"/><circle cx="5061" cy="2429" r="22.4" class="c23 a11"/><circle cx="4731" cy="2349" r="22.4" class="c16 a11"/><circle cx="4692" cy="2309" r="22.4" class="c13 a11"/><circle cx="4662" cy="2278" r="22.4" class="c10 a11"/><circle cx="4632" cy="2248" r="22.4" class="c8 a11"/><circle cx="4603" cy="2218" r="22.4" class="c6 a11"/><circle cx="4573" cy="2187" r="22.4" class="c4 a11"/><circle cx="4543" cy="2157" r="22.4" class="c2 a11"/><circle cx="4722" cy="2337" r="22.4" class="c15 a11"/><circle cx="4928" cy="2403" r="22.4" class="c20 a11"/><circle cx="4961" cy="2409" r="22.4" class="c20 a11"/><circle cx="4682" cy="2296" r="22.4" class="c12 a11"/><circle cx="4652" cy="2266" r="22.4" class="c9 a11"/><circle cx="4623" cy="2235" r="22.4" class="c7 a11"/><circle cx="4828" cy="2384" r="22.4" class="c18 a11"/><circle cx="4593" cy="2205" r="22.4" class="c5 a11"/><circle cx="4563" cy="2174" r="22.4" class="c3 a11"/><circle cx="4533" cy="2144" r="22.4" class="c1 a11"/><circle cx="4712" cy="2326" r="22.4" class="c14 a11"/><circle cx="4773" cy="2374" r="22.4" class="c17 a11"/><circle cx="4751" cy="2365" r="22.4" class="c17 a11"/><circle cx="4702" cy="2314" r="22.4" class="c13 a11"/><circle cx="4672" cy="2283" r="22.4" class="c11 a11"/><circle cx="4642" cy="2253" r="22.4" class="c9 a11"/><circle cx="4613" cy="2223" r="22.4" class="c6 a11"/><circle cx="4583" cy="2192" r="22.4" class="c4 a11"/><circle cx="4862" cy="2387" r="22.4" class="c18 a11"/><circle cx="4895" cy="2393" r="22.4" class="c19 a11"/><circle cx="4553" cy="2162" r="22.4" class="c2 a11"/><circle cx="4994" cy="2411" r="22.4" class="c21 a11"/><circle cx="4741" cy="2353" r="22.4" class="c16 a11"/><circle cx="4762" cy="2369" r="22.4" class="c17 a11"/><circle cx="4795" cy="2375" r="22.4" class="c17 a11"/><circle cx="5028" cy="2416" r="22.4" class="c22 a11"/><circle cx="5101" cy="2387" r="22.4" class="c20 a11"/><circle cx="5061" cy="2421" r="22.4" class="c22 a11"/><circle cx="4732" cy="2342" r="22.4" class="c15 a11"/><circle cx="4692" cy="2301" r="22.4" class="c12 a11"/><circle cx="4662" cy="2271" r="22.4" class="c10 a11"/><circle cx="4632" cy="2240" r="22.4" class="c8 a11"/><circle cx="4603" cy="2210" r="22.4" class="c5 a11"/><circle cx="4573" cy="2179" r="22.4" class="c3 a11"/><circle cx="4543" cy="2149" r="22.4" class="c1 a11"/><circle cx="4722" cy="2330" r="22.4" class="c14 a11"/><circle cx="4928" cy="2395" r="22.4" class="c19 a11"/><circle cx="4961" cy="2401" r="22.4" class="c20 a11"/><circle cx="4682" cy="2288" r="22.4" class="c11 a11"/><circle cx="4652" cy="2258" r="22.4" class="c9 a11"/><circle cx="4623" cy="2228" r="22.4" class="c7 a11"/><circle cx="4828" cy="2377" r="22.4" class="c17 a11"/><circle cx="4593" cy="2197" r="22.4" class="c4 a11"/><circle cx="4563" cy="2167" r="22.4" class="c2 a11"/><circle cx="4712" cy="2318" r="22.4" class="c13 a11"/><circle cx="4773" cy="2366" r="22.4" class="c16 a11"/><circle cx="4751" cy="2357" r="22.4" class="c16 a11"/><circle cx="4702" cy="2306" r="22.4" class="c12 a11"/><circle cx="4672" cy="2276" r="22.4" class="c10 a11"/><circle cx="4642" cy="2245" r="22.4" class="c8 a11"/><circle cx="4613" cy="2215" r="22.4" class="c6 a11"/><circle cx="4583" cy="2184" r="22.4" class="c3 a11"/><circle cx="4862" cy="2380" r="22.4" class="c17 a11"/><circle cx="4895" cy="2386" r="22.4" class="c18 a11"/><circle cx="4553" cy="2154" r="22.4" class="c1 a11"/><circle cx="4995" cy="2403" r="22.4" class="c20 a11"/><circle cx="4741" cy="2346" r="22.4" class="c15 a11"/><circle cx="4762" cy="2362" r="22.4" class="c16 a11"/><circle cx="4795" cy="2367" r="22.4" class="c16 a11"/><circle cx="5028" cy="2409" r="22.4" class="c21 a11"/><circle cx="5101" cy="2379" r="22.4" class="c19 a11"/><circle cx="5061" cy="2413" r="22.4" class="c21 a11"/><circle cx="4732" cy="2334" r="22.4" class="c14 a11"/><circle cx="4692" cy="2293" r="22.4" class="c11 a11"/><circle cx="4662" cy="2263" r="22.4" class="c9 a11"/><circle cx="4633" cy="2232" r="22.4" class="c7 a11"/><circle cx="4603" cy="2202" r="22.4" class="c5 a11"/><circle cx="4573" cy="2172" r="22.4" class="c3 a11"/><circle cx="4784" cy="2363" r="22.4" class="c16 a11"/><circle cx="4722" cy="2322" r="22.4" class="c13 a11"/><circle cx="4928" cy="2388" r="22.4" class="c18 a11"/><circle cx="4961" cy="2393" r="22.4" class="c19 a11"/><circle cx="4682" cy="2281" r="22.4" class="c10 a11"/><circle cx="4652" cy="2250" r="22.4" class="c8 a11"/><circle cx="4623" cy="2220" r="22.4" class="c6 a11"/><circle cx="4828" cy="2369" r="22.4" class="c16 a11"/><circle cx="4593" cy="2189" r="22.4" class="c4 a11"/><circle cx="4563" cy="2159" r="22.4" class="c2 a11"/><circle cx="4712" cy="2310" r="22.4" class="c12 a11"/><circle cx="4773" cy="2358" r="22.4" class="c16 a11"/><circle cx="4751" cy="2350" r="22.4" class="c15 a11"/><circle cx="4702" cy="2298" r="22.4" class="c11 a11"/><circle cx="4672" cy="2268" r="22.4" class="c9 a11"/><circle cx="4642" cy="2237" r="22.4" class="c7 a11"/><circle cx="4613" cy="2207" r="22.4" class="c5 a11"/><circle cx="4583" cy="2177" r="22.4" class="c3 a11"/><circle cx="4862" cy="2372" r="22.4" class="c17 a11"/><circle cx="4895" cy="2378" r="22.4" class="c17 a11"/><circle cx="4995" cy="2395" r="22.4" class="c19 a11"/><circle cx="4742" cy="2338" r="22.4" class="c14 a11"/><circle cx="4762" cy="2354" r="22.4" class="c15 a11"/><circle cx="4795" cy="2360" r="22.4" class="c16 a11"/><circle cx="5028" cy="2401" r="22.4" class="c20 a11"/><circle cx="5101" cy="2371" r="22.4" class="c19 a11"/><circle cx="5061" cy="2406" r="22.4" class="c21 a11"/><circle cx="4732" cy="2326" r="22.4" class="c13 a11"/><circle cx="4692" cy="2286" r="22.4" class="c10 a11"/><circle cx="4662" cy="2255" r="22.4" class="c8 a11"/><circle cx="4633" cy="2225" r="22.4" class="c6 a11"/><circle cx="4603" cy="2194" r="22.4" class="c4 a11"/><circle cx="4573" cy="2164" r="22.4" class="c2 a11"/><circle cx="4784" cy="2355" r="22.4" class="c15 a11"/><circle cx="4928" cy="2380" r="22.4" class="c17 a11"/><circle cx="4961" cy="2385" r="22.4" class="c18 a11"/><circle cx="4682" cy="2273" r="22.4" class="c9 a11"/><circle cx="4652" cy="2242" r="22.4" class="c7 a11"/><circle cx="4623" cy="2212" r="22.4" class="c5 a11"/><circle cx="4828" cy="2361" r="22.4" class="c16 a11"/><circle cx="4593" cy="2181" r="22.4" class="c3 a11"/><circle cx="4712" cy="2302" r="22.4" class="c12 a11"/><circle cx="4773" cy="2351" r="22.4" class="c15 a11"/><circle cx="4752" cy="2342" r="22.4" class="c14 a11"/><circle cx="4702" cy="2291" r="22.4" class="c11 a11"/><circle cx="4672" cy="2260" r="22.4" class="c9 a11"/><circle cx="4642" cy="2230" r="22.4" class="c6 a11"/><circle cx="4613" cy="2199" r="22.4" class="c4 a11"/><circle cx="4583" cy="2169" r="22.4" class="c2 a11"/><circle cx="4862" cy="2364" r="22.4" class="c16 a11"/><circle cx="4895" cy="2370" r="22.4" class="c16 a11"/><circle cx="4995" cy="2388" r="22.4" class="c19 a11"/><circle cx="4742" cy="2330" r="22.4" class="c13 a11"/><circle cx="4762" cy="2346" r="22.4" class="c15 a11"/><circle cx="4795" cy="2352" r="22.4" class="c15 a11"/><circle cx="5028" cy="2393" r="22.4" class="c19 a11"/><circle cx="5101" cy="2363" r="22.4" class="c18 a11"/><circle cx="5061" cy="2398" r="22.4" class="c20 a11"/><circle cx="4732" cy="2318" r="22.4" class="c13 a11"/><circle cx="4692" cy="2278" r="22.4" class="c10 a11"/><circle cx="4662" cy="2247" r="22.4" class="c8 a11"/><circle cx="4633" cy="2217" r="22.4" class="c5 a11"/><circle cx="4603" cy="2186" r="22.4" class="c3 a11"/><circle cx="4784" cy="2347" r="22.4" class="c15 a11"/><circle cx="4722" cy="2306" r="22.4" class="c12 a11"/><circle cx="4928" cy="2372" r="22.4" class="c17 a11"/><circle cx="4962" cy="2377" r="22.4" class="c17 a11"/><circle cx="4682" cy="2265" r="22.4" class="c9 a11"/><circle cx="4652" cy="2235" r="22.4" class="c7 a11"/><circle cx="4623" cy="2204" r="22.4" class="c4 a11"/><circle cx="4829" cy="2353" r="22.4" class="c15 a11"/><circle cx="4593" cy="2174" r="22.4" class="c2 a11"/><circle cx="4712" cy="2295" r="22.4" class="c11 a11"/><circle cx="4752" cy="2334" r="22.4" class="c14 a11"/><circle cx="4702" cy="2283" r="22.4" class="c10 a11"/><circle cx="4672" cy="2252" r="22.4" class="c8 a11"/><circle cx="4643" cy="2222" r="22.4" class="c6 a11"/><circle cx="4613" cy="2191" r="22.4" class="c3 a11"/><circle cx="4862" cy="2356" r="22.4" class="c15 a11"/><circle cx="4895" cy="2362" r="22.4" class="c16 a11"/><circle cx="4995" cy="2380" r="22.4" class="c18 a11"/><circle cx="4742" cy="2322" r="22.4" class="c13 a11"/><circle cx="4762" cy="2338" r="22.4" class="c14 a11"/><circle cx="4795" cy="2344" r="22.4" class="c14 a11"/><circle cx="5028" cy="2385" r="22.4" class="c19 a11"/><circle cx="5102" cy="2356" r="22.4" class="c17 a11"/><circle cx="5061" cy="2390" r="22.4" class="c19 a11"/><circle cx="4732" cy="2310" r="22.4" class="c12 a11"/><circle cx="4692" cy="2270" r="22.4" class="c9 a11"/><circle cx="4662" cy="2240" r="22.4" class="c7 a11"/><circle cx="4633" cy="2209" r="22.4" class="c5 a11"/><circle cx="4603" cy="2179" r="22.4" class="c2 a11"/><circle cx="4784" cy="2340" r="22.4" class="c14 a11"/><circle cx="4722" cy="2299" r="22.4" class="c11 a11"/><circle cx="4928" cy="2364" r="22.4" class="c16 a11"/><circle cx="4962" cy="2370" r="22.4" class="c17 a11"/><circle cx="4682" cy="2257" r="22.4" class="c8 a11"/><circle cx="4652" cy="2227" r="22.4" class="c6 a11"/><circle cx="4623" cy="2196" r="22.4" class="c4 a11"/><circle cx="4829" cy="2345" r="22.4" class="c14 a11"/><circle cx="4712" cy="2287" r="22.4" class="c10 a11"/><circle cx="4752" cy="2326" r="22.4" class="c13 a11"/><circle cx="4702" cy="2275" r="22.4" class="c9 a11"/><circle cx="4672" cy="2244" r="22.4" class="c7 a11"/><circle cx="4643" cy="2214" r="22.4" class="c5 a11"/><circle cx="4613" cy="2184" r="22.4" class="c3 a11"/><circle cx="4862" cy="2349" r="22.4" class="c14 a11"/><circle cx="4895" cy="2355" r="22.4" class="c15 a11"/><circle cx="4995" cy="2372" r="22.4" class="c17 a11"/><circle cx="4742" cy="2315" r="22.4" class="c12 a11"/><circle cx="4762" cy="2331" r="22.4" class="c13 a11"/><circle cx="4795" cy="2336" r="22.4" class="c14 a11"/><circle cx="5028" cy="2378" r="22.4" class="c18 a11"/><circle cx="5061" cy="2382" r="22.4" class="c19 a11"/><circle cx="4732" cy="2303" r="22.4" class="c11 a11"/><circle cx="4692" cy="2262" r="22.4" class="c8 a11"/><circle cx="4662" cy="2232" r="22.4" class="c6 a11"/><circle cx="4633" cy="2201" r="22.4" class="c4 a11"/><circle cx="4784" cy="2332" r="22.4" class="c13 a11"/><circle cx="4722" cy="2291" r="22.4" class="c10 a11"/><circle cx="4928" cy="2357" r="22.4" class="c15 a11"/><circle cx="4962" cy="2362" r="22.4" class="c16 a11"/><circle cx="4682" cy="2249" r="22.4" class="c7 a11"/><circle cx="4652" cy="2219" r="22.4" class="c5 a11"/><circle cx="4623" cy="2189" r="22.4" class="c3 a11"/><circle cx="4829" cy="2338" r="22.4" class="c14 a11"/><circle cx="4712" cy="2279" r="22.4" class="c9 a11"/><circle cx="4752" cy="2319" r="22.4" class="c12 a11"/><circle cx="4702" cy="2267" r="22.4" class="c8 a11"/><circle cx="4672" cy="2237" r="22.4" class="c6 a11"/><circle cx="4862" cy="2341" r="22.4" class="c14 a11"/><circle cx="4895" cy="2347" r="22.4" class="c14 a11"/><circle cx="4995" cy="2364" r="22.4" class="c16 a11"/><circle cx="4742" cy="2307" r="22.4" class="c11 a11"/><circle cx="4762" cy="2323" r="22.4" class="c12 a11"/><circle cx="4795" cy="2329" r="22.4" class="c13 a11"/><circle cx="5028" cy="2370" r="22.4" class="c17 a11"/><circle cx="5062" cy="2375" r="22.4" class="c18 a11"/><circle cx="4732" cy="2295" r="22.4" class="c10 a11"/><circle cx="4692" cy="2254" r="22.4" class="c8 a11"/><circle cx="4662" cy="2224" r="22.4" class="c5 a11"/><circle cx="4633" cy="2193" r="22.4" class="c3 a11"/><circle cx="4784" cy="2324" r="22.4" class="c12 a11"/><circle cx="4722" cy="2283" r="22.4" class="c10 a11"/><circle cx="4929" cy="2349" r="22.4" class="c15 a11"/><circle cx="4962" cy="2354" r="22.4" class="c15 a11"/><circle cx="4682" cy="2242" r="22.4" class="c7 a11"/><circle cx="4653" cy="2211" r="22.4" class="c4 a11"/><circle cx="4829" cy="2330" r="22.4" class="c13 a11"/><circle cx="4712" cy="2271" r="22.4" class="c9 a11"/><circle cx="4773" cy="2320" r="22.4" class="c12 a11"/><circle cx="4752" cy="2311" r="22.4" class="c11 a11"/><circle cx="4702" cy="2259" r="22.4" class="c8 a11"/><circle cx="4643" cy="2198" r="22.4" class="c3 a11"/><circle cx="4862" cy="2333" r="22.4" class="c13 a11"/><circle cx="4895" cy="2339" r="22.4" class="c13 a11"/><circle cx="4995" cy="2357" r="22.4" class="c16 a11"/><circle cx="4742" cy="2299" r="22.4" class="c11 a11"/><circle cx="4762" cy="2315" r="22.4" class="c12 a11"/><circle cx="4796" cy="2321" r="22.4" class="c12 a11"/><circle cx="5028" cy="2362" r="22.4" class="c16 a11"/><circle cx="5062" cy="2367" r="22.4" class="c17 a11"/><circle cx="4732" cy="2287" r="22.4" class="c10 a11"/><circle cx="4692" cy="2247" r="22.4" class="c7 a11"/><circle cx="4662" cy="2216" r="22.4" class="c5 a11"/><circle cx="4784" cy="2316" r="22.4" class="c12 a11"/><circle cx="4722" cy="2275" r="22.4" class="c9 a11"/><circle cx="4929" cy="2341" r="22.4" class="c14 a11"/><circle cx="4962" cy="2346" r="22.4" class="c15 a11"/><circle cx="4682" cy="2234" r="22.4" class="c6 a11"/><circle cx="4653" cy="2203" r="22.4" class="c4 a11"/><circle cx="4829" cy="2322" r="22.4" class="c12 a11"/><circle cx="4712" cy="2263" r="22.4" class="c8 a11"/><circle cx="4773" cy="2312" r="22.4" class="c11 a11"/><circle cx="4752" cy="2303" r="22.4" class="c11 a11"/><circle cx="4702" cy="2252" r="22.4" class="c7 a11"/><circle cx="4672" cy="2221" r="22.4" class="c5 a11"/><circle cx="4862" cy="2325" r="22.4" class="c12 a11"/><circle cx="4895" cy="2331" r="22.4" class="c13 a11"/><circle cx="4995" cy="2349" r="22.4" class="c15 a11"/><circle cx="4762" cy="2307" r="22.4" class="c11 a11"/><circle cx="4796" cy="2313" r="22.4" class="c11 a11"/><circle cx="5029" cy="2354" r="22.4" class="c16 a11"/><circle cx="5062" cy="2359" r="22.4" class="c16 a11"/><circle cx="4732" cy="2279" r="22.4" class="c9 a11"/><circle cx="4692" cy="2239" r="22.4" class="c6 a11"/><circle cx="4663" cy="2208" r="22.4" class="c4 a11"/><circle cx="4785" cy="2308" r="22.4" class="c11 a11"/><circle cx="4722" cy="2267" r="22.4" class="c8 a11"/><circle cx="4929" cy="2333" r="22.4" class="c13 a11"/><circle cx="4962" cy="2339" r="22.4" class="c14 a11"/><circle cx="4682" cy="2226" r="22.4" class="c5 a11"/><circle cx="4829" cy="2314" r="22.4" class="c11 a11"/><circle cx="4712" cy="2256" r="22.4" class="c7 a11"/><circle cx="4773" cy="2304" r="22.4" class="c11 a11"/><circle cx="4752" cy="2295" r="22.4" class="c10 a11"/><circle cx="4702" cy="2244" r="22.4" class="c6 a11"/><circle cx="4672" cy="2213" r="22.4" class="c4 a11"/><circle cx="4862" cy="2318" r="22.4" class="c12 a11"/><circle cx="4896" cy="2323" r="22.4" class="c12 a11"/><circle cx="4995" cy="2341" r="22.4" class="c14 a11"/><circle cx="4762" cy="2299" r="22.4" class="c10 a11"/><circle cx="4796" cy="2305" r="22.4" class="c11 a11"/><circle cx="5029" cy="2346" r="22.4" class="c15 a11"/><circle cx="5062" cy="2351" r="22.4" class="c16 a11"/><circle cx="4732" cy="2272" r="22.4" class="c8 a11"/><circle cx="4692" cy="2231" r="22.4" class="c5 a11"/><circle cx="4785" cy="2301" r="22.4" class="c10 a11"/><circle cx="4722" cy="2260" r="22.4" class="c7 a11"/><circle cx="4929" cy="2325" r="22.4" class="c12 a11"/><circle cx="4682" cy="2218" r="22.4" class="c4 a11"/><circle cx="4829" cy="2307" r="22.4" class="c11 a11"/><circle cx="4712" cy="2248" r="22.4" class="c6 a11"/><circle cx="4774" cy="2296" r="22.4" class="c10 a11"/><circle cx="4752" cy="2287" r="22.4" class="c9 a11"/><circle cx="4702" cy="2236" r="22.4" class="c6 a11"/><circle cx="4862" cy="2310" r="22.4" class="c11 a11"/><circle cx="4896" cy="2316" r="22.4" class="c11 a11"/><circle cx="4996" cy="2333" r="22.4" class="c13 a11"/><circle cx="4742" cy="2276" r="22.4" class="c8 a11"/><circle cx="4762" cy="2292" r="22.4" class="c9 a11"/><circle cx="4796" cy="2297" r="22.4" class="c10 a11"/><circle cx="4732" cy="2264" r="22.4" class="c7 a11"/><circle cx="4692" cy="2223" r="22.4" class="c5 a11"/><circle cx="4785" cy="2293" r="22.4" class="c10 a11"/><circle cx="4722" cy="2252" r="22.4" class="c7 a11"/><circle cx="4929" cy="2318" r="22.4" class="c12 a11"/><circle cx="4829" cy="2299" r="22.4" class="c10 a11"/><circle cx="4774" cy="2288" r="22.4" class="c9 a11"/><circle cx="4752" cy="2280" r="22.4" class="c9 a11"/><circle cx="4702" cy="2228" r="22.4" class="c5 a11"/><circle cx="4862" cy="2302" r="22.4" class="c10 a11"/><circle cx="4742" cy="2268" r="22.4" class="c8 a11"/><circle cx="4763" cy="2284" r="22.4" class="c9 a11"/><circle cx="4796" cy="2290" r="22.4" class="c9 a11"/><circle cx="4732" cy="2256" r="22.4" class="c7 a11"/><circle cx="4722" cy="2244" r="22.4" class="c6 a11"/><circle cx="4829" cy="2291" r="22.4" class="c9 a11"/><circle cx="4712" cy="2232" r="22.4" class="c5 a11"/><circle cx="4774" cy="2281" r="22.4" class="c8 a11"/><circle cx="4752" cy="2272" r="22.4" class="c8 a11"/><circle cx="4742" cy="2260" r="22.4" class="c7 a11"/><circle cx="4763" cy="2276" r="22.4" class="c8 a11"/><circle cx="4796" cy="2282" r="22.4" class="c8 a11"/><circle cx="4732" cy="2248" r="22.4" class="c6 a11"/><circle cx="4785" cy="2277" r="22.4" class="c8 a11"/><circle cx="4722" cy="2236" r="22.4" class="c5 a11"/><circle cx="4774" cy="2273" r="22.4" class="c8 a11"/><circle cx="4752" cy="2264" r="22.4" class="c7 a11"/><circle cx="4742" cy="2252" r="22.4" class="c6 a11"/><circle cx="4763" cy="2268" r="22.4" class="c7 a11"/><circle cx="4796" cy="2274" r="22.4" class="c8 a11"/><circle cx="4732" cy="2240" r="22.4" class="c5 a11"/><circle cx="4785" cy="2270" r="22.4" class="c7 a11"/><circle cx="4774" cy="2265" r="22.4" class="c7 a11"/><circle cx="4752" cy="2256" r="22.4" class="c6 a11"/><circle cx="4742" cy="2244" r="22.4" class="c5 a11"/><circle cx="4763" cy="2260" r="22.4" class="c7 a11"/><circle cx="4796" cy="2266" r="22.4" class="c7 a11"/><circle cx="4785" cy="2262" r="22.4" class="c7 a11"/><circle cx="4774" cy="2257" r="22.4" class="c6 a11"/><circle cx="4752" cy="2248" r="22.4" class="c6 a11"/><circle cx="4763" cy="2253" r="22.4" class="c6 a11"/></g></g>
<g id="text_21">
<text style="font-size: 12.72px; font-family: 'Liberation Sans', sans-serif; text-anchor: middle" x="442.8" y="71.76" transform="rotate(-0 442.8 71.76)" textLength="200.12" lengthAdjust="spacingAndGlyphs">LiDAR Point 3D Coordinate Graph</text>
</g>
<g id="legend_1">
<g id="patch_6">
<path d="M 568.37 100.43 
L 625.88 100.43 
Q 627.88 100.43 627.88 98.43 
L 627.88 84.76 
Q 627.88 82.76 625.88 82.76 
L 568.37 82.76 
Q 566.37 82.76 566.37 84.76 
L 566.37 98.43 
Q 566.37 100.43 568.37 100.43 
z
" style="fill: #ffffff; opacity: 0.8; stroke: #cccccc; stroke-linejoin: miter"/>
</g>
<g id="Path3DCollection_2">
<g>
<use href="#m24099ccb27" x="580.37" y="91.73" style="fill: #3b528b; stroke: #3b528b"/>
</g>
</g>
<g id="text_22">
<text style="font-size: 10.60px; font-family: 'Liberation Sans', sans-serif; text-anchor: start" x="598.37" y="94.35" transform="rotate(-0 598.37 94.35)" textLength="25.50" lengthAdjust="spacingAndGlyphs">point</text>
</g>
</g>
</g>
<g id="axes_2">
<g id="patch_7">
<path d="M 206.04 576.72 
L 301.08 576.72 
L 301.08 481.68 
L 206.04 481.68 
z
" style="fill: #ffffff"/>
</g>
<g id="blob"><defs>
<path id="m0f09bfcae3" d="M 0 3 
C 0.79 3 1.55 2.68 2.12 2.12 
C 2.68 1.55 3 0.79 3 0 
C 3 -0.79 2.68 -1.55 2.12 -2.12 
C 1.55 -2.68 0.79 -3 0 -3 
C -0.79 -3 -1.55 -2.68 -2.12 -2.12 
C -2.68 -1.55 -3 -0.79 -3 0 
C -3 0.79 -2.68 1.55 -2.12 2.12 
C -1.55 2.68 -0.79 3 0 3 
z
" style="stroke: #90ee90"/>
</defs><path d="M208.80 481.68 L207.50 488.16 L207.36 493.92 L207.72 501.12 L209.52 508.32 L211.68 514.08 L215.28 519.84 L218.88 524.88 L222.48 529.20 L223.20 532.08 L227.52 534.96 L234.72 537.84 L244.08 540.72 L254.88 542.52 L262.80 540.72 L273.60 537.84 L282.96 533.52 L284.40 530.28 L290.16 526.32 L295.20 519.84 L297.36 514.80 L295.56 511.20 L294.84 508.32 L295.56 501.12 L295.92 493.92 L295.20 485.28 L294.48 481.68 z" style="fill:#90ee90"/></g>
<g id="PathCollection_2"/>
<g id="matplotlib.axis_1">
<g id="xtick_18">
<g id="line2d_21">
<defs>
<path id="m1504cfccaf" d="M 0 0 
L 0 3.5 
" style="stroke: #000000; stroke-width: 0.8"/>
</defs>
<g>
<use href="#m1504cfccaf" x="211.28" y="576.72" style="stroke: #000000; stroke-width: 0.8"/>
</g>
</g>
<g id="text_23">
<text style="font-size: 10.60px; font-family: 'Liberation Sans', sans-serif; text-anchor: middle" x="211.28" y="591.31" transform="rotate(-0 211.28 591.31)" textLength="27.47" lengthAdjust="spacingAndGlyphs">−500</text>
</g>
</g>
<g id="xtick_19">
<g id="line2d_22">
<g>
<use href="#m1504cfccaf" x="253.56" y="576.72" style="stroke: #000000; stroke-width: 0.8"/>
</g>
</g>
<g id="text_24">
<text style="font-size: 10.60px; font-family: 'Liberation Sans', sans-serif; text-anchor: middle" x="253.56" y="591.31" transform="rotate(-0 253.56 591.31)" textLength="6.36" lengthAdjust="spacingAndGlyphs">0</text>
</g>
</g>
<g id="xtick_20">
<g id="line2d_23">
<g>
<use href="#m1504cfccaf" x="295.84" y="576.72" style="stroke: #000000; stroke-width: 0.8"/>
</g>
</g>
<g id="text_25">
<text style="font-size: 10.60px; font-family: 'Liberation Sans', sans-serif; text-anchor: middle" x="295.84" y="591.31" transform="rotate(-0 295.84 591.31)" textLength="19.09" lengthAdjust="spacingAndGlyphs">500</text>
</g>
</g>
<g id="text_26">
<text style="font-size: 10.60px; font-family: 'Liberation Sans', sans-serif; text-anchor: middle" x="253.56" y="604.99" transform="rotate(-0 253.56 604.99)" textLength="33.07" lengthAdjust="spacingAndGlyphs">X (cm)</text>
</g>
</g>
<g id="matplotlib.axis_2">
<g id="ytick_1">
<g id="line2d_24">
<defs>
<path id="m5d545ce8f8" d="M 0 0 
L -3.5 0 
" style="stroke: #000000; stroke-width: 0.8"/>
</defs>
<g>
<use href="#m5d545ce8f8" x="206.04" y="571.47" style="stroke: #000000; stroke-width: 0.8"/>
</g>
</g>
<g id="text_27">
<text style="font-size: 10.60px; font-family: 'Liberation Sans', sans-serif; text-anchor: end" x="199.04" y="575.27" transform="rotate(-0 199.04 575.27)" textLength="27.47" lengthAdjust="spacingAndGlyphs">−500</text>
</g>
</g>
<g id="ytick_2">
<g id="line2d_25">
<g>
<use href="#m5d545ce8f8" x="206.04" y="529.2" style="stroke: #000000; stroke-width: 0.8"/>
</g>
</g>
<g id="text_28">
<text style="font-size: 10.60px; font-family: 'Liberation Sans', sans-serif; text-anchor: end" x="199.04" y="532.99" transform="rotate(-0 199.04 532.99)" textLength="6.36" lengthAdjust="spacingAndGlyphs">0</text>
</g>
</g>
<g id="ytick_3">
<g id="line2d_26">
<g>
<use href="#m5d545ce8f8" x="206.04" y="486.92" style="stroke: #000000; stroke-width: 0.8"/>
</g>
</g>
<g id="text_29">
<text style="font-size: 10.60px; font-family: 'Liberation Sans', sans-serif; text-anchor: end" x="199.04" y="490.72" transform="rotate(-0 199.04 490.72)" textLength="19.09" lengthAdjust="spacingAndGlyphs">500</text>
</g>
</g>
<g id="text_30">
<text style="font-size: 10.60px; font-family: 'Liberation Sans', sans-serif; text-anchor: middle" x="165.49" y="529.2" transform="rotate(-90 165.49 529.2)" textLength="32.33" lengthAdjust="spacingAndGlyphs">Y (cm)</text>
</g>
</g>
<g id="patch_8">
<path d="M 206.28 577.08 
L 206.28 482.04 
" style="fill: none; stroke: #000000; stroke-width: 0.8; stroke-linejoin: miter; stroke-linecap: square"/>
</g>
<g id="patch_9">
<path d="M 301.32 577.08 
L 301.32 482.04 
" style="fill: none; stroke: #000000; stroke-width: 0.8; stroke-linejoin: miter; stroke-linecap: square"/>
</g>
<g id="patch_10">
<path d="M 206.28 577.08 
L 301.32 577.08 
" style="fill: none; stroke: #000000; stroke-width: 0.8; stroke-linejoin: miter; stroke-linecap: square"/>
</g>
<g id="patch_11">
<path d="M 206.28 482.04 
L 301.32 482.04 
" style="fill: none; stroke: #000000; stroke-width: 0.8; stroke-linejoin: miter; stroke-linecap: square"/>
</g>
<g id="text_31">
<text style="font-size: 12.72px; font-family: 'Liberation Sans', sans-serif; text-anchor: middle" x="253.56" y="475.68" transform="rotate(-0 253.56 475.68)" textLength="200.12" lengthAdjust="spacingAndGlyphs">LiDAR Point 2D Coordinate Graph</text>
</g>
<g id="legend_2">
<g id="patch_12">
<path d="M 312.83 519.03 
L 370.34 519.03 
Q 372.34 519.03 372.34 517.03 
L 372.34 488.68 
Q 372.34 486.68 370.34 486.68 
L 312.83 486.68 
Q 310.83 486.68 310.83 488.68 
L 310.83 517.03 
Q 310.83 519.03 312.83 519.03 
z
" style="fill: #ffffff; opacity: 0.8; stroke: #cccccc; stroke-linejoin: miter"/>
</g>
<g id="PathCollection_3">
<g>
<use href="#m0f09bfcae3" x="324.83" y="495.65" style="fill: #90ee90; stroke: #90ee90"/>
</g>
</g>
<g id="text_32">
<text style="font-size: 10.60px; font-family: 'Liberation Sans', sans-serif; text-anchor: start" x="342.83" y="498.27" transform="rotate(-0 342.83 498.27)" textLength="25.50" lengthAdjust="spacingAndGlyphs">point</text>
</g>
<g id="PathCollection_4">
<defs>
<path id="m07ba7ed919" d="M 0 3 
C 0.79 3 1.55 2.68 2.12 2.12 
C 2.68 1.55 3 0.79 3 0 
C 3 -0.79 2.68 -1.55 2.12 -2.12 
C 1.55 -2.68 0.79 -3 0 -3 
C -0.79 -3 -1.55 -2.68 -2.12 -2.12 
C -2.68 -1.55 -3 -0.79 -3 0 
C -3 0.79 -2.68 1.55 -2.12 2.12 
C -1.55 2.68 -0.79 3 0 3 
z
" style="stroke: #0000ff"/>
</defs>
<g>
<use href="#m07ba7ed919" x="324.83" y="510.33" style="fill: #0000ff; stroke: #0000ff"/>
</g>
</g>
<g id="text_33">
<text style="font-size: 10.60px; font-family: 'Liberation Sans', sans-serif; text-anchor: start" x="342.83" y="512.95" transform="rotate(-0 342.83 512.95)" textLength="19.86" lengthAdjust="spacingAndGlyphs">wall</text>
</g>
</g>
</g>
<g id="axes_3">
<g id="patch_13">
<path d="M 486.46 576.72 
L 777.6 576.72 
L 777.6 481.68 
L 486.46 481.68 
z
" style="fill: #ffffff"/>
</g>
<g id="patch_14">
<path d="M 497.52 576.72 L 511.92 576.72 L 511.92 558.72 L 497.52 558.72 z" clip-path="url(#p1ca3901ace)" style="fill: #0000ff"/>
</g>
<g id="patch_15">
<path d="M 511.92 576.72 L 526.32 576.72 L 526.32 556.56 L 511.92 556.56 z" clip-path="url(#p1ca3901ace)" style="fill: #0000ff"/>
</g>
<g id="patch_16">
<path d="M 526.32 576.72 L 540.72 576.72 L 540.72 562.32 L 526.32 562.32 z" clip-path="url(#p1ca3901ace)" style="fill: #0000ff"/>
</g>
<g id="patch_17">
<path d="M 540.72 576.72 L 555.12 576.72 L 555.12 506.16 L 540.72 506.16 z" clip-path="url(#p1ca3901ace)" style="fill: #0000ff"/>
</g>
<g id="patch_18">
<path d="M 555.12 576.72 L 569.52 576.72 L 569.52 486.00 L 555.12 486.00 z" clip-path="url(#p1ca3901ace)" style="fill: #0000ff"/>
</g>
<g id="patch_19">
<path d="M 569.52 576.72 L 583.92 576.72 L 583.92 500.40 L 569.52 500.40 z" clip-path="url(#p1ca3901ace)" style="fill: #0000ff"/>
</g>
<g id="patch_20">
<path d="M 583.92 576.72 L 598.32 576.72 L 598.32 547.92 L 583.92 547.92 z" clip-path="url(#p1ca3901ace)" style="fill: #0000ff"/>
</g>
<g id="patch_21">
<path d="M 598.32 576.72 L 612.72 576.72 L 612.72 569.52 L 598.32 569.52 z" clip-path="url(#p1ca3901ace)" style="fill: #0000ff"/>
</g>
<g id="patch_22">
<path d="M 612.72 576.72 L 626.40 576.72 L 626.40 572.40 L 612.72 572.40 z" clip-path="url(#p1ca3901ace)" style="fill: #0000ff"/>
</g>
<g id="patch_23">
<path d="M 626.40 576.72 L 640.80 576.72 L 640.80 576.00 L 626.40 576.00 z" clip-path="url(#p1ca3901ace)" style="fill: #0000ff"/>
</g>
<g id="matplotlib.axis_3">
<g id="xtick_21">
<g id="line2d_27">
<g>
<use href="#m1504cfccaf" x="486.46" y="576.72" style="stroke: #000000; stroke-width: 0.8"/>
</g>
</g>
<g id="text_34">
<text style="font-size: 10.60px; font-family: 'Liberation Sans', sans-serif; text-anchor: middle" x="486.46" y="591.31" transform="rotate(-0 486.46 591.31)" textLength="6.36" lengthAdjust="spacingAndGlyphs">0</text>
</g>
</g>
<g id="xtick_22">
<g id="line2d_28">
<g>
<use href="#m1504cfccaf" x="528.35" y="576.72" style="stroke: #000000; stroke-width: 0.8"/>
</g>
</g>
<g id="text_35">
<text style="font-size: 10.60px; font-family: 'Liberation Sans', sans-serif; text-anchor: middle" x="528.35" y="591.31" transform="rotate(-0 528.35 591.31)" textLength="19.09" lengthAdjust="spacingAndGlyphs">100</text>
</g>
</g>
<g id="xtick_23">
<g id="line2d_29">
<g>
<use href="#m1504cfccaf" x="570.24" y="576.72" style="stroke: #000000; stroke-width: 0.8"/>
</g>
</g>
<g id="text_36">
<text style="font-size: 10.60px; font-family: 'Liberation Sans', sans-serif; text-anchor: middle" x="570.24" y="591.31" transform="rotate(-0 570.24 591.31)" textLength="19.09" lengthAdjust="spacingAndGlyphs">200</text>
</g>
</g>
<g id="xtick_24">
<g id="line2d_30">
<g>
<use href="#m1504cfccaf" x="612.13" y="576.72" style="stroke: #000000; stroke-width: 0.8"/>
</g>
</g>
<g id="text_37">
<text style="font-size: 10.60px; font-family: 'Liberation Sans', sans-serif; text-anchor: middle" x="612.13" y="591.31" transform="rotate(-0 612.13 591.31)" textLength="19.09" lengthAdjust="spacingAndGlyphs">300</text>
</g>
</g>
<g id="xtick_25">
<g id="line2d_31">
<g>
<use href="#m1504cfccaf" x="654.02" y="576.72" style="stroke: #000000; stroke-width: 0.8"/>
</g>
</g>
<g id="text_38">
<text style="font-size: 10.60px; font-family: 'Liberation Sans', sans-serif; text-anchor: middle" x="654.02" y="591.31" transform="rotate(-0 654.02 591.31)" textLength="19.09" lengthAdjust="spacingAndGlyphs">400</text>
</g>
</g>
<g id="xtick_26">
<g id="line2d_32">
<g>
<use href="#m1504cfccaf" x="695.91" y="576.72" style="stroke: #000000; stroke-width: 0.8"/>
</g>
</g>
<g id="text_39">
<text style="font-size: 10.60px; font-family: 'Liberation Sans', sans-serif; text-anchor: middle" x="695.91" y="591.31" transform="rotate(-0 695.91 591.31)" textLength="19.09" lengthAdjust="spacingAndGlyphs">500</text>
</g>
</g>
<g id="xtick_27">
<g id="line2d_33">
<g>
<use href="#m1504cfccaf" x="737.80" y="576.72" style="stroke: #000000; stroke-width: 0.8"/>
</g>
</g>
<g id="text_40">
<text style="font-size: 10.60px; font-family: 'Liberation Sans', sans-serif; text-anchor: middle" x="737.80" y="591.31" transform="rotate(-0 737.80 591.31)" textLength="19.09" lengthAdjust="spacingAndGlyphs">600</text>
</g>
</g>
</g>
<g id="matplotlib.axis_4">
<g id="ytick_4">
<g id="line2d_34">
<g>
<use href="#m5d545ce8f8" x="486.46" y="576.72" style="stroke: #000000; stroke-width: 0.8"/>
</g>
</g>
<g id="text_41">
<text style="font-size: 10.60px; font-family: 'Liberation Sans', sans-serif; text-anchor: end" x="479.46" y="580.51" transform="rotate(-0 479.46 580.51)" textLength="6.36" lengthAdjust="spacingAndGlyphs">0</text>
</g>
</g>
<g id="ytick_5">
<g id="line2d_35">
<g>
<use href="#m5d545ce8f8" x="486.46" y="537.62" style="stroke: #000000; stroke-width: 0.8"/>
</g>
</g>
<g id="text_42">
<text style="font-size: 10.60px; font-family: 'Liberation Sans', sans-serif; text-anchor: end" x="479.46" y="541.42" transform="rotate(-0 479.46 541.42)" textLength="25.45" lengthAdjust="spacingAndGlyphs">1000</text>
</g>
</g>
<g id="ytick_6">
<g id="line2d_36">
<g>
<use href="#m5d545ce8f8" x="486.46" y="498.52" style="stroke: #000000; stroke-width: 0.8"/>
</g>
</g>
<g id="text_43">
<text style="font-size: 10.60px; font-family: 'Liberation Sans', sans-serif; text-anchor: end" x="479.46" y="502.32" transform="rotate(-0 479.46 502.32)" textLength="25.45" lengthAdjust="spacingAndGlyphs">2000</text>
</g>
</g>
</g>
<g id="patch_24">
<path d="M 487.08 577.08 
L 487.08 482.04 
" style="fill: none; stroke: #000000; stroke-width: 0.8; stroke-linejoin: miter; stroke-linecap: square"/>
</g>
<g id="patch_25">
<path d="M 777.96 577.08 
L 777.96 482.04 
" style="fill: none; stroke: #000000; stroke-width: 0.8; stroke-linejoin: miter; stroke-linecap: square"/>
</g>
<g id="patch_26">
<path d="M 487.08 577.08 
L 777.96 577.08 
" style="fill: none; stroke: #000000; stroke-width: 0.8; stroke-linejoin: miter; stroke-linecap: square"/>
</g>
<g id="patch_27">
<path d="M 487.08 482.04 
L 777.96 482.04 
" style="fill: none; stroke: #000000; stroke-width: 0.8; stroke-linejoin: miter; stroke-linecap: square"/>
</g>
<g id="text_44">
<text style="font-size: 12.72px; font-family: 'Liberation Sans', sans-serif; text-anchor: middle" x="632.03" y="475.68" transform="rotate(-0 632.03 475.68)" textLength="105.73" lengthAdjust="spacingAndGlyphs">Height Histogram</text>
</g>
<g id="legend_3">
<g id="patch_28">
<path d="M 705.54 504.35 
L 770.6 504.35 
Q 772.6 504.35 772.6 502.35 
L 772.6 488.68 
Q 772.6 486.68 770.6 486.68 
L 705.54 486.68 
Q 703.54 486.68 703.54 488.68 
L 703.54 502.35 
Q 703.54 504.35 705.54 504.35 
z
" style="fill: #ffffff; opacity: 0.8; stroke: #cccccc; stroke-linejoin: miter"/>
</g>
<g id="patch_29">
<path d="M 707.76 498.24 L 727.20 498.24 L 727.20 491.04 L 707.76 491.04 z" style="fill: #0000ff"/>
</g>
<g id="text_45">
<text style="font-size: 10.60px; font-family: 'Liberation Sans', sans-serif; text-anchor: start" x="735.54" y="498.27" transform="rotate(-0 735.54 498.27)" textLength="33.06" lengthAdjust="spacingAndGlyphs">Height</text>
</g>
</g>
</g>
</g>
<defs>
<clipPath id="pcbff7d88e8">
<rect x="252.72" y="77.76" width="380.16" height="380.16"/>
</clipPath>
<clipPath id="pb62c29a046">
<rect x="206.04" y="481.68" width="95.04" height="95.04"/>
</clipPath>
<clipPath id="p1ca3901ace">
<rect x="486.46" y="481.68" width="291.13" height="95.04"/>
</clipPath>
</defs>
</svg>
</body></html>
